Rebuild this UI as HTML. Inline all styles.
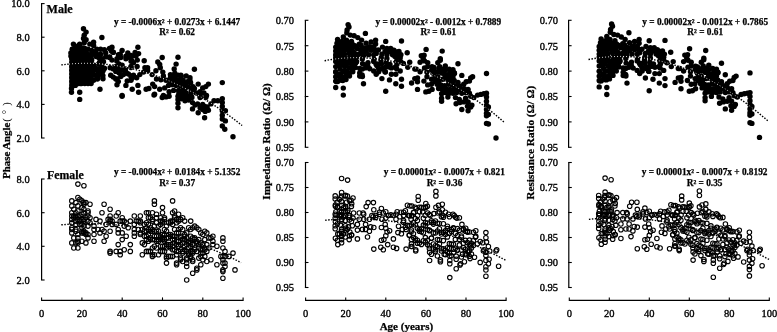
<!DOCTYPE html>
<html><head><meta charset="utf-8"><style>html,body{margin:0;padding:0;background:#fff;width:777px;height:332px;overflow:hidden}</style></head>
<body>
<svg width="777" height="332" viewBox="0 0 777 332" style="position:absolute;left:0;top:0;filter:grayscale(1)">
<rect width="777" height="332" fill="#fff"/>
<circle cx="83.5" cy="28.7" r="2.7" fill="#000"/>
<circle cx="86.1" cy="32.1" r="2.7" fill="#000"/>
<circle cx="84.2" cy="35.2" r="2.7" fill="#000"/>
<circle cx="83.5" cy="38.4" r="2.7" fill="#000"/>
<circle cx="86.1" cy="39.7" r="2.7" fill="#000"/>
<circle cx="101.9" cy="37.5" r="2.7" fill="#000"/>
<circle cx="73.4" cy="44.1" r="2.7" fill="#000"/>
<circle cx="79.7" cy="44.3" r="2.7" fill="#000"/>
<circle cx="84.2" cy="42.8" r="2.7" fill="#000"/>
<circle cx="89.8" cy="44.1" r="2.7" fill="#000"/>
<circle cx="93.6" cy="42.2" r="2.7" fill="#000"/>
<circle cx="93.6" cy="45.4" r="2.7" fill="#000"/>
<circle cx="73.4" cy="49.2" r="2.7" fill="#000"/>
<circle cx="70.9" cy="53.0" r="2.7" fill="#000"/>
<circle cx="70.9" cy="56.1" r="2.7" fill="#000"/>
<circle cx="75.3" cy="53.0" r="2.7" fill="#000"/>
<circle cx="79.1" cy="49.2" r="2.7" fill="#000"/>
<circle cx="82.9" cy="47.9" r="2.7" fill="#000"/>
<circle cx="82.9" cy="53.0" r="2.7" fill="#000"/>
<circle cx="88.0" cy="49.2" r="2.7" fill="#000"/>
<circle cx="91.7" cy="50.4" r="2.7" fill="#000"/>
<circle cx="96.8" cy="49.2" r="2.7" fill="#000"/>
<circle cx="100.6" cy="49.2" r="2.7" fill="#000"/>
<circle cx="104.4" cy="49.8" r="2.7" fill="#000"/>
<circle cx="109.5" cy="48.5" r="2.7" fill="#000"/>
<circle cx="112.0" cy="47.3" r="2.7" fill="#000"/>
<circle cx="111.4" cy="51.1" r="2.7" fill="#000"/>
<circle cx="105.7" cy="53.0" r="2.7" fill="#000"/>
<circle cx="100.6" cy="54.2" r="2.7" fill="#000"/>
<circle cx="95.5" cy="53.0" r="2.7" fill="#000"/>
<circle cx="91.7" cy="54.8" r="2.7" fill="#000"/>
<circle cx="86.7" cy="55.5" r="2.7" fill="#000"/>
<circle cx="80.4" cy="55.5" r="2.7" fill="#000"/>
<circle cx="75.3" cy="56.1" r="2.7" fill="#000"/>
<circle cx="122.1" cy="50.4" r="2.7" fill="#000"/>
<circle cx="127.8" cy="53.0" r="2.7" fill="#000"/>
<circle cx="120.2" cy="54.2" r="2.7" fill="#000"/>
<circle cx="125.9" cy="56.1" r="2.7" fill="#000"/>
<circle cx="137.9" cy="47.3" r="2.7" fill="#000"/>
<circle cx="138.6" cy="53.6" r="2.7" fill="#000"/>
<circle cx="131.0" cy="55.5" r="2.7" fill="#000"/>
<circle cx="136.0" cy="56.1" r="2.7" fill="#000"/>
<circle cx="71.8" cy="55.0" r="2.7" fill="#000"/>
<circle cx="71.8" cy="58.8" r="2.7" fill="#000"/>
<circle cx="71.8" cy="62.6" r="2.7" fill="#000"/>
<circle cx="71.8" cy="66.4" r="2.7" fill="#000"/>
<circle cx="71.8" cy="70.2" r="2.7" fill="#000"/>
<circle cx="71.8" cy="74.0" r="2.7" fill="#000"/>
<circle cx="71.8" cy="77.8" r="2.7" fill="#000"/>
<circle cx="71.8" cy="81.6" r="2.7" fill="#000"/>
<circle cx="71.8" cy="85.4" r="2.7" fill="#000"/>
<circle cx="71.5" cy="88.5" r="2.7" fill="#000"/>
<circle cx="71.5" cy="92.3" r="2.7" fill="#000"/>
<circle cx="79.7" cy="92.3" r="2.7" fill="#000"/>
<circle cx="75.3" cy="85.4" r="2.7" fill="#000"/>
<circle cx="80.4" cy="83.5" r="2.7" fill="#000"/>
<circle cx="85.4" cy="80.9" r="2.7" fill="#000"/>
<circle cx="89.2" cy="79.7" r="2.7" fill="#000"/>
<circle cx="93.6" cy="80.3" r="2.7" fill="#000"/>
<circle cx="97.4" cy="79.0" r="2.7" fill="#000"/>
<circle cx="100.0" cy="89.2" r="2.7" fill="#000"/>
<circle cx="89.2" cy="56.3" r="2.7" fill="#000"/>
<circle cx="91.7" cy="60.1" r="2.7" fill="#000"/>
<circle cx="93.6" cy="65.1" r="2.7" fill="#000"/>
<circle cx="94.3" cy="68.9" r="2.7" fill="#000"/>
<circle cx="92.4" cy="72.7" r="2.7" fill="#000"/>
<circle cx="94.9" cy="75.2" r="2.7" fill="#000"/>
<circle cx="96.8" cy="74.6" r="2.7" fill="#000"/>
<circle cx="98.1" cy="77.8" r="2.7" fill="#000"/>
<circle cx="98.7" cy="57.5" r="2.7" fill="#000"/>
<circle cx="101.9" cy="58.8" r="2.7" fill="#000"/>
<circle cx="105.7" cy="56.9" r="2.7" fill="#000"/>
<circle cx="109.5" cy="57.5" r="2.7" fill="#000"/>
<circle cx="112.0" cy="60.1" r="2.7" fill="#000"/>
<circle cx="100.6" cy="61.3" r="2.7" fill="#000"/>
<circle cx="98.7" cy="63.9" r="2.7" fill="#000"/>
<circle cx="101.9" cy="67.0" r="2.7" fill="#000"/>
<circle cx="103.1" cy="70.8" r="2.7" fill="#000"/>
<circle cx="100.0" cy="74.0" r="2.7" fill="#000"/>
<circle cx="98.1" cy="71.4" r="2.7" fill="#000"/>
<circle cx="104.4" cy="68.3" r="2.7" fill="#000"/>
<circle cx="110.1" cy="67.7" r="2.7" fill="#000"/>
<circle cx="113.3" cy="68.9" r="2.7" fill="#000"/>
<circle cx="115.8" cy="66.4" r="2.7" fill="#000"/>
<circle cx="118.9" cy="63.9" r="2.7" fill="#000"/>
<circle cx="122.1" cy="65.1" r="2.7" fill="#000"/>
<circle cx="118.3" cy="68.9" r="2.7" fill="#000"/>
<circle cx="115.8" cy="71.4" r="2.7" fill="#000"/>
<circle cx="118.9" cy="72.7" r="2.7" fill="#000"/>
<circle cx="121.5" cy="70.2" r="2.7" fill="#000"/>
<circle cx="125.3" cy="68.9" r="2.7" fill="#000"/>
<circle cx="125.9" cy="72.7" r="2.7" fill="#000"/>
<circle cx="110.7" cy="75.2" r="2.7" fill="#000"/>
<circle cx="113.3" cy="77.1" r="2.7" fill="#000"/>
<circle cx="115.8" cy="79.0" r="2.7" fill="#000"/>
<circle cx="118.3" cy="81.6" r="2.7" fill="#000"/>
<circle cx="117.0" cy="84.7" r="2.7" fill="#000"/>
<circle cx="120.8" cy="76.5" r="2.7" fill="#000"/>
<circle cx="123.4" cy="74.6" r="2.7" fill="#000"/>
<circle cx="128.4" cy="74.0" r="2.7" fill="#000"/>
<circle cx="131.0" cy="76.5" r="2.7" fill="#000"/>
<circle cx="133.5" cy="75.2" r="2.7" fill="#000"/>
<circle cx="136.7" cy="77.8" r="2.7" fill="#000"/>
<circle cx="139.8" cy="74.6" r="2.7" fill="#000"/>
<circle cx="143.6" cy="72.1" r="2.7" fill="#000"/>
<circle cx="144.9" cy="67.7" r="2.7" fill="#000"/>
<circle cx="131.0" cy="66.4" r="2.7" fill="#000"/>
<circle cx="133.5" cy="62.6" r="2.7" fill="#000"/>
<circle cx="137.3" cy="60.1" r="2.7" fill="#000"/>
<circle cx="117.0" cy="58.8" r="2.7" fill="#000"/>
<circle cx="120.8" cy="57.5" r="2.7" fill="#000"/>
<circle cx="125.9" cy="58.8" r="2.7" fill="#000"/>
<circle cx="129.7" cy="57.5" r="2.7" fill="#000"/>
<circle cx="132.2" cy="56.3" r="2.7" fill="#000"/>
<circle cx="144.2" cy="60.7" r="2.7" fill="#000"/>
<circle cx="125.9" cy="85.4" r="2.7" fill="#000"/>
<circle cx="127.2" cy="80.9" r="2.7" fill="#000"/>
<circle cx="131.0" cy="80.3" r="2.7" fill="#000"/>
<circle cx="132.2" cy="89.2" r="2.7" fill="#000"/>
<circle cx="137.9" cy="85.4" r="2.7" fill="#000"/>
<circle cx="138.6" cy="92.3" r="2.7" fill="#000"/>
<circle cx="146.1" cy="89.2" r="2.7" fill="#000"/>
<circle cx="122.1" cy="95.5" r="2.7" fill="#000"/>
<circle cx="162.2" cy="57.5" r="2.7" fill="#000"/>
<circle cx="178.0" cy="57.3" r="2.7" fill="#000"/>
<circle cx="157.8" cy="62.0" r="2.7" fill="#000"/>
<circle cx="159.7" cy="64.5" r="2.7" fill="#000"/>
<circle cx="160.3" cy="67.7" r="2.7" fill="#000"/>
<circle cx="176.1" cy="64.1" r="2.7" fill="#000"/>
<circle cx="174.2" cy="68.9" r="2.7" fill="#000"/>
<circle cx="194.4" cy="69.2" r="2.7" fill="#000"/>
<circle cx="147.6" cy="67.7" r="2.7" fill="#000"/>
<circle cx="147.6" cy="70.8" r="2.7" fill="#000"/>
<circle cx="155.9" cy="70.8" r="2.7" fill="#000"/>
<circle cx="152.1" cy="74.6" r="2.7" fill="#000"/>
<circle cx="162.8" cy="72.1" r="2.7" fill="#000"/>
<circle cx="163.4" cy="75.9" r="2.7" fill="#000"/>
<circle cx="170.4" cy="74.6" r="2.7" fill="#000"/>
<circle cx="174.8" cy="73.3" r="2.7" fill="#000"/>
<circle cx="178.0" cy="75.2" r="2.7" fill="#000"/>
<circle cx="181.2" cy="76.5" r="2.7" fill="#000"/>
<circle cx="186.2" cy="75.9" r="2.7" fill="#000"/>
<circle cx="190.0" cy="77.8" r="2.7" fill="#000"/>
<circle cx="156.5" cy="79.0" r="2.7" fill="#000"/>
<circle cx="160.9" cy="79.7" r="2.7" fill="#000"/>
<circle cx="166.0" cy="80.3" r="2.7" fill="#000"/>
<circle cx="170.4" cy="79.7" r="2.7" fill="#000"/>
<circle cx="174.2" cy="79.0" r="2.7" fill="#000"/>
<circle cx="178.6" cy="80.3" r="2.7" fill="#000"/>
<circle cx="183.1" cy="80.3" r="2.7" fill="#000"/>
<circle cx="187.5" cy="81.6" r="2.7" fill="#000"/>
<circle cx="190.6" cy="82.8" r="2.7" fill="#000"/>
<circle cx="152.7" cy="84.1" r="2.7" fill="#000"/>
<circle cx="154.6" cy="86.6" r="2.7" fill="#000"/>
<circle cx="148.9" cy="88.5" r="2.7" fill="#000"/>
<circle cx="159.7" cy="89.2" r="2.7" fill="#000"/>
<circle cx="164.7" cy="87.9" r="2.7" fill="#000"/>
<circle cx="168.5" cy="85.4" r="2.7" fill="#000"/>
<circle cx="172.3" cy="84.7" r="2.7" fill="#000"/>
<circle cx="176.1" cy="85.4" r="2.7" fill="#000"/>
<circle cx="179.9" cy="85.4" r="2.7" fill="#000"/>
<circle cx="183.7" cy="86.0" r="2.7" fill="#000"/>
<circle cx="187.5" cy="86.6" r="2.7" fill="#000"/>
<circle cx="191.3" cy="87.9" r="2.7" fill="#000"/>
<circle cx="194.4" cy="88.5" r="2.7" fill="#000"/>
<circle cx="198.2" cy="84.1" r="2.7" fill="#000"/>
<circle cx="202.7" cy="87.9" r="2.7" fill="#000"/>
<circle cx="205.8" cy="86.6" r="2.7" fill="#000"/>
<circle cx="208.4" cy="84.1" r="2.7" fill="#000"/>
<circle cx="222.3" cy="82.6" r="2.7" fill="#000"/>
<circle cx="154.6" cy="94.2" r="2.7" fill="#000"/>
<circle cx="163.4" cy="95.5" r="2.7" fill="#000"/>
<circle cx="169.1" cy="91.7" r="2.7" fill="#000"/>
<circle cx="173.6" cy="90.4" r="2.7" fill="#000"/>
<circle cx="178.6" cy="90.4" r="2.7" fill="#000"/>
<circle cx="182.4" cy="92.3" r="2.7" fill="#000"/>
<circle cx="186.2" cy="93.0" r="2.7" fill="#000"/>
<circle cx="191.3" cy="92.3" r="2.7" fill="#000"/>
<circle cx="196.3" cy="93.0" r="2.7" fill="#000"/>
<circle cx="200.1" cy="91.7" r="2.7" fill="#000"/>
<circle cx="203.9" cy="93.0" r="2.7" fill="#000"/>
<circle cx="206.5" cy="95.5" r="2.7" fill="#000"/>
<circle cx="200.1" cy="96.1" r="2.7" fill="#000"/>
<circle cx="191.3" cy="96.1" r="2.7" fill="#000"/>
<circle cx="185.0" cy="96.1" r="2.7" fill="#000"/>
<circle cx="79.7" cy="99.4" r="2.7" fill="#000"/>
<circle cx="122.1" cy="96.3" r="2.7" fill="#000"/>
<circle cx="154.0" cy="95.0" r="2.7" fill="#000"/>
<circle cx="162.2" cy="97.5" r="2.7" fill="#000"/>
<circle cx="166.0" cy="96.9" r="2.7" fill="#000"/>
<circle cx="169.1" cy="96.3" r="2.7" fill="#000"/>
<circle cx="178.0" cy="96.3" r="2.7" fill="#000"/>
<circle cx="178.0" cy="99.4" r="2.7" fill="#000"/>
<circle cx="178.0" cy="103.2" r="2.7" fill="#000"/>
<circle cx="178.0" cy="107.7" r="2.7" fill="#000"/>
<circle cx="181.2" cy="98.8" r="2.7" fill="#000"/>
<circle cx="185.0" cy="96.9" r="2.7" fill="#000"/>
<circle cx="185.0" cy="100.7" r="2.7" fill="#000"/>
<circle cx="188.7" cy="96.3" r="2.7" fill="#000"/>
<circle cx="188.7" cy="100.1" r="2.7" fill="#000"/>
<circle cx="191.9" cy="97.5" r="2.7" fill="#000"/>
<circle cx="192.5" cy="102.6" r="2.7" fill="#000"/>
<circle cx="195.1" cy="105.1" r="2.7" fill="#000"/>
<circle cx="192.5" cy="108.9" r="2.7" fill="#000"/>
<circle cx="197.6" cy="103.9" r="2.7" fill="#000"/>
<circle cx="198.2" cy="112.7" r="2.7" fill="#000"/>
<circle cx="200.1" cy="107.7" r="2.7" fill="#000"/>
<circle cx="202.7" cy="104.5" r="2.7" fill="#000"/>
<circle cx="202.7" cy="109.5" r="2.7" fill="#000"/>
<circle cx="204.6" cy="106.4" r="2.7" fill="#000"/>
<circle cx="205.2" cy="111.4" r="2.7" fill="#000"/>
<circle cx="208.4" cy="110.2" r="2.7" fill="#000"/>
<circle cx="207.1" cy="107.0" r="2.7" fill="#000"/>
<circle cx="204.6" cy="117.8" r="2.7" fill="#000"/>
<circle cx="200.1" cy="97.5" r="2.7" fill="#000"/>
<circle cx="205.8" cy="97.5" r="2.7" fill="#000"/>
<circle cx="210.9" cy="103.9" r="2.7" fill="#000"/>
<circle cx="214.0" cy="100.7" r="2.7" fill="#000"/>
<circle cx="217.8" cy="100.7" r="2.7" fill="#000"/>
<circle cx="222.3" cy="98.8" r="2.7" fill="#000"/>
<circle cx="222.3" cy="102.6" r="2.7" fill="#000"/>
<circle cx="222.3" cy="106.4" r="2.7" fill="#000"/>
<circle cx="222.3" cy="110.8" r="2.7" fill="#000"/>
<circle cx="225.4" cy="110.8" r="2.7" fill="#000"/>
<circle cx="222.3" cy="115.2" r="2.7" fill="#000"/>
<circle cx="222.3" cy="119.0" r="2.7" fill="#000"/>
<circle cx="225.4" cy="120.9" r="2.7" fill="#000"/>
<circle cx="222.3" cy="126.0" r="2.7" fill="#000"/>
<circle cx="224.8" cy="129.2" r="2.7" fill="#000"/>
<circle cx="233.0" cy="136.7" r="2.7" fill="#000"/>
<circle cx="72.1" cy="55.0" r="2.7" fill="#000"/>
<circle cx="72.1" cy="58.2" r="2.7" fill="#000"/>
<circle cx="72.1" cy="61.3" r="2.7" fill="#000"/>
<circle cx="72.1" cy="64.5" r="2.7" fill="#000"/>
<circle cx="72.1" cy="67.7" r="2.7" fill="#000"/>
<circle cx="72.1" cy="70.8" r="2.7" fill="#000"/>
<circle cx="72.1" cy="74.0" r="2.7" fill="#000"/>
<circle cx="72.1" cy="77.1" r="2.7" fill="#000"/>
<circle cx="72.1" cy="80.3" r="2.7" fill="#000"/>
<circle cx="72.1" cy="83.5" r="2.7" fill="#000"/>
<circle cx="75.3" cy="55.0" r="2.7" fill="#000"/>
<circle cx="75.3" cy="58.2" r="2.7" fill="#000"/>
<circle cx="75.3" cy="61.3" r="2.7" fill="#000"/>
<circle cx="75.3" cy="64.5" r="2.7" fill="#000"/>
<circle cx="75.3" cy="67.7" r="2.7" fill="#000"/>
<circle cx="75.3" cy="70.8" r="2.7" fill="#000"/>
<circle cx="75.3" cy="74.0" r="2.7" fill="#000"/>
<circle cx="75.3" cy="77.1" r="2.7" fill="#000"/>
<circle cx="75.3" cy="80.3" r="2.7" fill="#000"/>
<circle cx="75.3" cy="83.5" r="2.7" fill="#000"/>
<circle cx="78.5" cy="55.0" r="2.7" fill="#000"/>
<circle cx="78.5" cy="58.2" r="2.7" fill="#000"/>
<circle cx="78.5" cy="61.3" r="2.7" fill="#000"/>
<circle cx="78.5" cy="64.5" r="2.7" fill="#000"/>
<circle cx="78.5" cy="67.7" r="2.7" fill="#000"/>
<circle cx="78.5" cy="70.8" r="2.7" fill="#000"/>
<circle cx="78.5" cy="74.0" r="2.7" fill="#000"/>
<circle cx="78.5" cy="77.1" r="2.7" fill="#000"/>
<circle cx="78.5" cy="80.3" r="2.7" fill="#000"/>
<circle cx="78.5" cy="83.5" r="2.7" fill="#000"/>
<circle cx="81.6" cy="55.0" r="2.7" fill="#000"/>
<circle cx="81.6" cy="58.2" r="2.7" fill="#000"/>
<circle cx="81.6" cy="61.3" r="2.7" fill="#000"/>
<circle cx="81.6" cy="64.5" r="2.7" fill="#000"/>
<circle cx="81.6" cy="67.7" r="2.7" fill="#000"/>
<circle cx="81.6" cy="70.8" r="2.7" fill="#000"/>
<circle cx="81.6" cy="74.0" r="2.7" fill="#000"/>
<circle cx="81.6" cy="77.1" r="2.7" fill="#000"/>
<circle cx="81.6" cy="80.3" r="2.7" fill="#000"/>
<circle cx="81.6" cy="83.5" r="2.7" fill="#000"/>
<circle cx="84.8" cy="55.0" r="2.7" fill="#000"/>
<circle cx="84.8" cy="58.2" r="2.7" fill="#000"/>
<circle cx="84.8" cy="61.3" r="2.7" fill="#000"/>
<circle cx="84.8" cy="64.5" r="2.7" fill="#000"/>
<circle cx="84.8" cy="67.7" r="2.7" fill="#000"/>
<circle cx="84.8" cy="70.8" r="2.7" fill="#000"/>
<circle cx="84.8" cy="74.0" r="2.7" fill="#000"/>
<circle cx="84.8" cy="77.1" r="2.7" fill="#000"/>
<circle cx="84.8" cy="80.3" r="2.7" fill="#000"/>
<circle cx="84.8" cy="83.5" r="2.7" fill="#000"/>
<circle cx="88.0" cy="55.0" r="2.7" fill="#000"/>
<circle cx="88.0" cy="58.2" r="2.7" fill="#000"/>
<circle cx="88.0" cy="61.3" r="2.7" fill="#000"/>
<circle cx="88.0" cy="64.5" r="2.7" fill="#000"/>
<circle cx="88.0" cy="67.7" r="2.7" fill="#000"/>
<circle cx="88.0" cy="70.8" r="2.7" fill="#000"/>
<circle cx="88.0" cy="74.0" r="2.7" fill="#000"/>
<circle cx="88.0" cy="77.1" r="2.7" fill="#000"/>
<circle cx="88.0" cy="80.3" r="2.7" fill="#000"/>
<circle cx="88.0" cy="83.5" r="2.7" fill="#000"/>
<circle cx="91.1" cy="55.0" r="2.7" fill="#000"/>
<circle cx="91.1" cy="58.2" r="2.7" fill="#000"/>
<circle cx="91.1" cy="61.3" r="2.7" fill="#000"/>
<circle cx="91.1" cy="64.5" r="2.7" fill="#000"/>
<circle cx="91.1" cy="67.7" r="2.7" fill="#000"/>
<circle cx="91.1" cy="70.8" r="2.7" fill="#000"/>
<circle cx="91.1" cy="74.0" r="2.7" fill="#000"/>
<circle cx="91.1" cy="77.1" r="2.7" fill="#000"/>
<circle cx="91.1" cy="80.3" r="2.7" fill="#000"/>
<circle cx="91.1" cy="83.5" r="2.7" fill="#000"/>
<circle cx="98.9" cy="68.7" r="2.7" fill="#000"/>
<circle cx="103.0" cy="78.8" r="2.7" fill="#000"/>
<circle cx="103.5" cy="61.7" r="2.7" fill="#000"/>
<circle cx="96.0" cy="53.0" r="2.7" fill="#000"/>
<circle cx="98.7" cy="55.0" r="2.7" fill="#000"/>
<circle cx="95.6" cy="69.5" r="2.7" fill="#000"/>
<circle cx="102.1" cy="74.1" r="2.7" fill="#000"/>
<circle cx="93.1" cy="52.0" r="2.7" fill="#000"/>
<circle cx="95.3" cy="67.7" r="2.7" fill="#000"/>
<circle cx="102.9" cy="75.6" r="2.7" fill="#000"/>
<circle cx="104.1" cy="68.8" r="2.7" fill="#000"/>
<circle cx="100.3" cy="59.3" r="2.7" fill="#000"/>
<circle cx="96.1" cy="56.6" r="2.7" fill="#000"/>
<circle cx="99.0" cy="69.4" r="2.7" fill="#000"/>
<circle cx="99.5" cy="62.5" r="2.7" fill="#000"/>
<circle cx="125.6" cy="72.5" r="2.7" fill="#000"/>
<circle cx="131.9" cy="76.0" r="2.7" fill="#000"/>
<circle cx="117.1" cy="79.0" r="2.7" fill="#000"/>
<circle cx="126.1" cy="72.4" r="2.7" fill="#000"/>
<circle cx="132.2" cy="77.9" r="2.7" fill="#000"/>
<circle cx="116.8" cy="61.0" r="2.7" fill="#000"/>
<circle cx="131.0" cy="67.6" r="2.7" fill="#000"/>
<circle cx="132.0" cy="60.9" r="2.7" fill="#000"/>
<circle cx="131.1" cy="61.2" r="2.7" fill="#000"/>
<circle cx="109.7" cy="57.0" r="2.7" fill="#000"/>
<circle cx="118.4" cy="54.7" r="2.7" fill="#000"/>
<circle cx="113.3" cy="52.2" r="2.7" fill="#000"/>
<circle cx="135.1" cy="52.5" r="2.7" fill="#000"/>
<circle cx="113.1" cy="52.3" r="2.7" fill="#000"/>
<circle cx="137.1" cy="66.4" r="2.7" fill="#000"/>
<circle cx="183.0" cy="88.5" r="2.7" fill="#000"/>
<circle cx="189.9" cy="80.4" r="2.7" fill="#000"/>
<circle cx="185.3" cy="94.5" r="2.7" fill="#000"/>
<circle cx="185.2" cy="88.2" r="2.7" fill="#000"/>
<circle cx="181.1" cy="96.2" r="2.7" fill="#000"/>
<circle cx="181.8" cy="84.2" r="2.7" fill="#000"/>
<circle cx="193.4" cy="88.6" r="2.7" fill="#000"/>
<circle cx="175.4" cy="81.1" r="2.7" fill="#000"/>
<circle cx="180.9" cy="75.2" r="2.7" fill="#000"/>
<circle cx="184.0" cy="90.9" r="2.7" fill="#000"/>
<circle cx="178.9" cy="93.5" r="2.7" fill="#000"/>
<circle cx="193.0" cy="86.8" r="2.7" fill="#000"/>
<circle cx="175.0" cy="78.9" r="2.7" fill="#000"/>
<circle cx="192.1" cy="91.2" r="2.7" fill="#000"/>
<circle cx="170.4" cy="81.4" r="2.7" fill="#000"/>
<circle cx="173.8" cy="80.3" r="2.7" fill="#000"/>
<circle cx="175.5" cy="83.1" r="2.7" fill="#000"/>
<circle cx="172.2" cy="76.5" r="2.7" fill="#000"/>
<circle cx="187.9" cy="86.9" r="2.7" fill="#000"/>
<circle cx="170.5" cy="77.4" r="2.7" fill="#000"/>
<circle cx="170.4" cy="81.3" r="2.7" fill="#000"/>
<circle cx="168.6" cy="80.3" r="2.7" fill="#000"/>
<circle cx="172.7" cy="78.4" r="2.7" fill="#000"/>
<circle cx="185.3" cy="84.5" r="2.7" fill="#000"/>
<circle cx="180.3" cy="82.2" r="2.7" fill="#000"/>
<circle cx="182.1" cy="92.1" r="2.7" fill="#000"/>
<circle cx="175.6" cy="75.6" r="2.7" fill="#000"/>
<circle cx="72.2" cy="49.2" r="2.7" fill="#000"/>
<circle cx="79.5" cy="70.3" r="2.7" fill="#000"/>
<circle cx="74.6" cy="49.2" r="2.7" fill="#000"/>
<circle cx="76.4" cy="73.0" r="2.7" fill="#000"/>
<circle cx="74.8" cy="72.4" r="2.7" fill="#000"/>
<circle cx="84.6" cy="50.1" r="2.7" fill="#000"/>
<circle cx="82.2" cy="61.6" r="2.7" fill="#000"/>
<circle cx="89.9" cy="59.9" r="2.7" fill="#000"/>
<circle cx="75.8" cy="57.2" r="2.7" fill="#000"/>
<circle cx="78.9" cy="80.3" r="2.7" fill="#000"/>
<circle cx="76.0" cy="53.0" r="2.7" fill="#000"/>
<circle cx="83.1" cy="65.3" r="2.7" fill="#000"/>
<circle cx="78.8" cy="52.5" r="2.7" fill="#000"/>
<circle cx="72.6" cy="72.2" r="2.7" fill="#000"/>
<circle cx="88.5" cy="69.1" r="2.7" fill="#000"/>
<circle cx="76.1" cy="74.5" r="2.7" fill="#000"/>
<circle cx="85.9" cy="52.2" r="2.7" fill="#000"/>
<circle cx="84.2" cy="53.1" r="2.7" fill="#000"/>
<circle cx="72.8" cy="57.4" r="2.7" fill="#000"/>
<circle cx="78.4" cy="59.7" r="2.7" fill="#000"/>
<circle cx="84.3" cy="75.9" r="2.7" fill="#000"/>
<circle cx="77.8" cy="51.5" r="2.7" fill="#000"/>
<circle cx="83.9" cy="65.2" r="2.7" fill="#000"/>
<circle cx="84.8" cy="48.5" r="2.7" fill="#000"/>
<circle cx="75.7" cy="79.1" r="2.7" fill="#000"/>
<circle cx="83.4" cy="70.7" r="2.7" fill="#000"/>
<circle cx="73.8" cy="59.8" r="2.7" fill="#000"/>
<circle cx="89.3" cy="69.0" r="2.7" fill="#000"/>
<circle cx="80.6" cy="74.6" r="2.7" fill="#000"/>
<circle cx="80.4" cy="74.2" r="2.7" fill="#000"/>
<circle cx="82.7" cy="49.4" r="2.7" fill="#000"/>
<circle cx="73.9" cy="81.4" r="2.7" fill="#000"/>
<circle cx="74.3" cy="52.2" r="2.7" fill="#000"/>
<circle cx="78.4" cy="71.4" r="2.7" fill="#000"/>
<circle cx="88.2" cy="62.6" r="2.7" fill="#000"/>
<circle cx="81.5" cy="74.2" r="2.7" fill="#000"/>
<circle cx="77.3" cy="58.8" r="2.7" fill="#000"/>
<circle cx="83.6" cy="68.5" r="2.7" fill="#000"/>
<circle cx="72.7" cy="49.1" r="2.7" fill="#000"/>
<circle cx="74.6" cy="71.8" r="2.7" fill="#000"/>
<circle cx="86.6" cy="54.4" r="2.7" fill="#000"/>
<circle cx="78.6" cy="45.4" r="2.7" fill="#000"/>
<circle cx="79.1" cy="55.5" r="2.7" fill="#000"/>
<circle cx="75.3" cy="46.7" r="2.7" fill="#000"/>
<circle cx="74.4" cy="77.0" r="2.7" fill="#000"/>
<circle cx="72.9" cy="67.7" r="2.7" fill="#000"/>
<circle cx="75.9" cy="52.2" r="2.7" fill="#000"/>
<circle cx="87.6" cy="56.1" r="2.7" fill="#000"/>
<circle cx="75.5" cy="61.8" r="2.7" fill="#000"/>
<circle cx="85.2" cy="64.4" r="2.7" fill="#000"/>
<circle cx="88.3" cy="59.9" r="2.7" fill="#000"/>
<circle cx="82.0" cy="71.5" r="2.7" fill="#000"/>
<circle cx="80.8" cy="71.5" r="2.7" fill="#000"/>
<circle cx="80.9" cy="49.9" r="2.7" fill="#000"/>
<circle cx="74.3" cy="74.0" r="2.7" fill="#000"/>
<circle cx="85.1" cy="66.5" r="2.7" fill="#000"/>
<circle cx="75.2" cy="76.6" r="2.7" fill="#000"/>
<circle cx="74.3" cy="60.7" r="2.7" fill="#000"/>
<circle cx="74.7" cy="59.1" r="2.7" fill="#000"/>
<circle cx="77.8" cy="60.7" r="2.7" fill="#000"/>
<circle cx="85.5" cy="65.0" r="2.7" fill="#000"/>
<circle cx="76.6" cy="73.8" r="2.7" fill="#000"/>
<circle cx="86.0" cy="75.6" r="2.7" fill="#000"/>
<circle cx="72.6" cy="67.7" r="2.7" fill="#000"/>
<circle cx="89.0" cy="54.6" r="2.7" fill="#000"/>
<circle cx="75.8" cy="75.1" r="2.7" fill="#000"/>
<circle cx="78.9" cy="59.8" r="2.7" fill="#000"/>
<circle cx="348.1" cy="24.6" r="2.7" fill="#000"/>
<circle cx="349.0" cy="26.9" r="2.7" fill="#000"/>
<circle cx="347.1" cy="30.0" r="2.7" fill="#000"/>
<circle cx="346.8" cy="32.9" r="2.7" fill="#000"/>
<circle cx="365.4" cy="33.4" r="2.7" fill="#000"/>
<circle cx="343.3" cy="37.0" r="2.7" fill="#000"/>
<circle cx="350.3" cy="35.1" r="2.7" fill="#000"/>
<circle cx="354.1" cy="35.7" r="2.7" fill="#000"/>
<circle cx="357.8" cy="37.6" r="2.7" fill="#000"/>
<circle cx="361.6" cy="40.1" r="2.7" fill="#000"/>
<circle cx="337.6" cy="39.5" r="2.7" fill="#000"/>
<circle cx="337.0" cy="43.3" r="2.7" fill="#000"/>
<circle cx="335.7" cy="47.1" r="2.7" fill="#000"/>
<circle cx="335.7" cy="50.9" r="2.7" fill="#000"/>
<circle cx="335.7" cy="54.7" r="2.7" fill="#000"/>
<circle cx="335.7" cy="57.8" r="2.7" fill="#000"/>
<circle cx="342.0" cy="41.4" r="2.7" fill="#000"/>
<circle cx="346.5" cy="40.1" r="2.7" fill="#000"/>
<circle cx="351.5" cy="41.4" r="2.7" fill="#000"/>
<circle cx="340.8" cy="45.8" r="2.7" fill="#000"/>
<circle cx="345.2" cy="45.2" r="2.7" fill="#000"/>
<circle cx="349.6" cy="44.6" r="2.7" fill="#000"/>
<circle cx="354.7" cy="45.8" r="2.7" fill="#000"/>
<circle cx="340.8" cy="49.6" r="2.7" fill="#000"/>
<circle cx="345.2" cy="49.6" r="2.7" fill="#000"/>
<circle cx="349.6" cy="49.0" r="2.7" fill="#000"/>
<circle cx="340.1" cy="54.1" r="2.7" fill="#000"/>
<circle cx="344.6" cy="54.1" r="2.7" fill="#000"/>
<circle cx="349.0" cy="53.4" r="2.7" fill="#000"/>
<circle cx="353.4" cy="52.2" r="2.7" fill="#000"/>
<circle cx="357.2" cy="48.4" r="2.7" fill="#000"/>
<circle cx="361.0" cy="45.2" r="2.7" fill="#000"/>
<circle cx="366.1" cy="43.3" r="2.7" fill="#000"/>
<circle cx="371.1" cy="42.0" r="2.7" fill="#000"/>
<circle cx="375.6" cy="40.1" r="2.7" fill="#000"/>
<circle cx="375.6" cy="43.9" r="2.7" fill="#000"/>
<circle cx="373.7" cy="47.1" r="2.7" fill="#000"/>
<circle cx="371.1" cy="50.3" r="2.7" fill="#000"/>
<circle cx="375.6" cy="50.3" r="2.7" fill="#000"/>
<circle cx="368.0" cy="47.7" r="2.7" fill="#000"/>
<circle cx="364.8" cy="51.5" r="2.7" fill="#000"/>
<circle cx="361.6" cy="50.3" r="2.7" fill="#000"/>
<circle cx="359.7" cy="54.1" r="2.7" fill="#000"/>
<circle cx="356.0" cy="55.3" r="2.7" fill="#000"/>
<circle cx="363.5" cy="56.0" r="2.7" fill="#000"/>
<circle cx="368.6" cy="54.7" r="2.7" fill="#000"/>
<circle cx="373.7" cy="54.7" r="2.7" fill="#000"/>
<circle cx="376.2" cy="53.4" r="2.7" fill="#000"/>
<circle cx="340.1" cy="57.8" r="2.7" fill="#000"/>
<circle cx="344.6" cy="57.8" r="2.7" fill="#000"/>
<circle cx="349.6" cy="57.8" r="2.7" fill="#000"/>
<circle cx="354.7" cy="57.8" r="2.7" fill="#000"/>
<circle cx="385.7" cy="41.4" r="2.7" fill="#000"/>
<circle cx="401.5" cy="41.0" r="2.7" fill="#000"/>
<circle cx="382.5" cy="47.1" r="2.7" fill="#000"/>
<circle cx="386.9" cy="48.4" r="2.7" fill="#000"/>
<circle cx="390.7" cy="48.4" r="2.7" fill="#000"/>
<circle cx="393.9" cy="50.3" r="2.7" fill="#000"/>
<circle cx="385.0" cy="51.5" r="2.7" fill="#000"/>
<circle cx="381.9" cy="54.1" r="2.7" fill="#000"/>
<circle cx="386.9" cy="54.7" r="2.7" fill="#000"/>
<circle cx="392.6" cy="54.7" r="2.7" fill="#000"/>
<circle cx="399.0" cy="51.5" r="2.7" fill="#000"/>
<circle cx="400.9" cy="54.7" r="2.7" fill="#000"/>
<circle cx="407.2" cy="52.8" r="2.7" fill="#000"/>
<circle cx="396.4" cy="57.2" r="2.7" fill="#000"/>
<circle cx="400.2" cy="57.8" r="2.7" fill="#000"/>
<circle cx="386.9" cy="58.5" r="2.7" fill="#000"/>
<circle cx="381.3" cy="57.8" r="2.7" fill="#000"/>
<circle cx="426.1" cy="49.4" r="2.7" fill="#000"/>
<circle cx="442.2" cy="51.1" r="2.7" fill="#000"/>
<circle cx="421.3" cy="55.7" r="2.7" fill="#000"/>
<circle cx="424.1" cy="55.3" r="2.7" fill="#000"/>
<circle cx="423.2" cy="58.5" r="2.7" fill="#000"/>
<circle cx="440.3" cy="58.7" r="2.7" fill="#000"/>
<circle cx="335.7" cy="61.5" r="2.7" fill="#000"/>
<circle cx="335.7" cy="66.6" r="2.7" fill="#000"/>
<circle cx="335.7" cy="71.7" r="2.7" fill="#000"/>
<circle cx="335.7" cy="76.7" r="2.7" fill="#000"/>
<circle cx="335.7" cy="81.1" r="2.7" fill="#000"/>
<circle cx="335.7" cy="87.5" r="2.7" fill="#000"/>
<circle cx="343.3" cy="88.1" r="2.7" fill="#000"/>
<circle cx="343.3" cy="95.1" r="2.7" fill="#000"/>
<circle cx="340.1" cy="64.1" r="2.7" fill="#000"/>
<circle cx="340.1" cy="69.1" r="2.7" fill="#000"/>
<circle cx="340.1" cy="74.2" r="2.7" fill="#000"/>
<circle cx="340.1" cy="79.2" r="2.7" fill="#000"/>
<circle cx="344.6" cy="61.5" r="2.7" fill="#000"/>
<circle cx="344.6" cy="66.6" r="2.7" fill="#000"/>
<circle cx="344.6" cy="71.7" r="2.7" fill="#000"/>
<circle cx="344.6" cy="76.7" r="2.7" fill="#000"/>
<circle cx="349.0" cy="62.8" r="2.7" fill="#000"/>
<circle cx="349.0" cy="67.9" r="2.7" fill="#000"/>
<circle cx="349.0" cy="72.9" r="2.7" fill="#000"/>
<circle cx="353.4" cy="61.5" r="2.7" fill="#000"/>
<circle cx="353.4" cy="66.6" r="2.7" fill="#000"/>
<circle cx="352.8" cy="71.7" r="2.7" fill="#000"/>
<circle cx="356.6" cy="61.5" r="2.7" fill="#000"/>
<circle cx="359.7" cy="68.5" r="2.7" fill="#000"/>
<circle cx="359.7" cy="72.9" r="2.7" fill="#000"/>
<circle cx="359.7" cy="76.1" r="2.7" fill="#000"/>
<circle cx="362.3" cy="69.1" r="2.7" fill="#000"/>
<circle cx="366.7" cy="64.7" r="2.7" fill="#000"/>
<circle cx="365.4" cy="67.9" r="2.7" fill="#000"/>
<circle cx="363.5" cy="83.7" r="2.7" fill="#000"/>
<circle cx="362.3" cy="59.0" r="2.7" fill="#000"/>
<circle cx="373.7" cy="61.5" r="2.7" fill="#000"/>
<circle cx="373.7" cy="71.0" r="2.7" fill="#000"/>
<circle cx="376.2" cy="74.2" r="2.7" fill="#000"/>
<circle cx="377.5" cy="64.1" r="2.7" fill="#000"/>
<circle cx="378.7" cy="71.7" r="2.7" fill="#000"/>
<circle cx="381.3" cy="64.1" r="2.7" fill="#000"/>
<circle cx="382.5" cy="69.1" r="2.7" fill="#000"/>
<circle cx="385.0" cy="71.7" r="2.7" fill="#000"/>
<circle cx="381.9" cy="78.6" r="2.7" fill="#000"/>
<circle cx="386.3" cy="62.8" r="2.7" fill="#000"/>
<circle cx="388.8" cy="66.6" r="2.7" fill="#000"/>
<circle cx="391.4" cy="67.9" r="2.7" fill="#000"/>
<circle cx="395.2" cy="67.2" r="2.7" fill="#000"/>
<circle cx="396.4" cy="61.5" r="2.7" fill="#000"/>
<circle cx="391.4" cy="74.2" r="2.7" fill="#000"/>
<circle cx="395.8" cy="74.2" r="2.7" fill="#000"/>
<circle cx="400.2" cy="71.0" r="2.7" fill="#000"/>
<circle cx="403.4" cy="63.4" r="2.7" fill="#000"/>
<circle cx="407.8" cy="67.2" r="2.7" fill="#000"/>
<circle cx="409.7" cy="62.2" r="2.7" fill="#000"/>
<circle cx="389.5" cy="79.9" r="2.7" fill="#000"/>
<circle cx="395.8" cy="83.7" r="2.7" fill="#000"/>
<circle cx="401.5" cy="79.2" r="2.7" fill="#000"/>
<circle cx="401.5" cy="86.2" r="2.7" fill="#000"/>
<circle cx="411.6" cy="83.0" r="2.7" fill="#000"/>
<circle cx="414.8" cy="78.6" r="2.7" fill="#000"/>
<circle cx="414.8" cy="69.1" r="2.7" fill="#000"/>
<circle cx="385.7" cy="91.3" r="2.7" fill="#000"/>
<circle cx="420.1" cy="62.2" r="2.7" fill="#000"/>
<circle cx="424.5" cy="60.9" r="2.7" fill="#000"/>
<circle cx="427.7" cy="62.8" r="2.7" fill="#000"/>
<circle cx="416.3" cy="69.1" r="2.7" fill="#000"/>
<circle cx="420.1" cy="71.7" r="2.7" fill="#000"/>
<circle cx="424.5" cy="67.9" r="2.7" fill="#000"/>
<circle cx="427.7" cy="66.6" r="2.7" fill="#000"/>
<circle cx="427.0" cy="72.3" r="2.7" fill="#000"/>
<circle cx="427.0" cy="76.7" r="2.7" fill="#000"/>
<circle cx="417.5" cy="78.0" r="2.7" fill="#000"/>
<circle cx="417.5" cy="81.8" r="2.7" fill="#000"/>
<circle cx="423.9" cy="81.1" r="2.7" fill="#000"/>
<circle cx="427.7" cy="84.9" r="2.7" fill="#000"/>
<circle cx="417.5" cy="89.4" r="2.7" fill="#000"/>
<circle cx="425.8" cy="91.9" r="2.7" fill="#000"/>
<circle cx="428.9" cy="91.3" r="2.7" fill="#000"/>
<circle cx="432.1" cy="89.4" r="2.7" fill="#000"/>
<circle cx="431.4" cy="84.3" r="2.7" fill="#000"/>
<circle cx="434.0" cy="68.5" r="2.7" fill="#000"/>
<circle cx="437.8" cy="62.8" r="2.7" fill="#000"/>
<circle cx="440.3" cy="60.3" r="2.7" fill="#000"/>
<circle cx="439.7" cy="66.6" r="2.7" fill="#000"/>
<circle cx="442.2" cy="69.1" r="2.7" fill="#000"/>
<circle cx="434.0" cy="74.2" r="2.7" fill="#000"/>
<circle cx="437.8" cy="71.7" r="2.7" fill="#000"/>
<circle cx="437.8" cy="76.7" r="2.7" fill="#000"/>
<circle cx="441.6" cy="72.9" r="2.7" fill="#000"/>
<circle cx="445.4" cy="70.4" r="2.7" fill="#000"/>
<circle cx="449.2" cy="69.1" r="2.7" fill="#000"/>
<circle cx="453.0" cy="69.8" r="2.7" fill="#000"/>
<circle cx="454.2" cy="72.9" r="2.7" fill="#000"/>
<circle cx="445.4" cy="75.4" r="2.7" fill="#000"/>
<circle cx="449.2" cy="74.2" r="2.7" fill="#000"/>
<circle cx="453.0" cy="76.7" r="2.7" fill="#000"/>
<circle cx="435.2" cy="80.5" r="2.7" fill="#000"/>
<circle cx="439.0" cy="79.9" r="2.7" fill="#000"/>
<circle cx="442.8" cy="79.2" r="2.7" fill="#000"/>
<circle cx="446.6" cy="79.2" r="2.7" fill="#000"/>
<circle cx="450.4" cy="79.9" r="2.7" fill="#000"/>
<circle cx="454.2" cy="80.5" r="2.7" fill="#000"/>
<circle cx="458.0" cy="82.4" r="2.7" fill="#000"/>
<circle cx="437.1" cy="84.3" r="2.7" fill="#000"/>
<circle cx="440.9" cy="84.9" r="2.7" fill="#000"/>
<circle cx="444.7" cy="85.6" r="2.7" fill="#000"/>
<circle cx="448.5" cy="84.3" r="2.7" fill="#000"/>
<circle cx="452.3" cy="84.3" r="2.7" fill="#000"/>
<circle cx="456.1" cy="85.6" r="2.7" fill="#000"/>
<circle cx="459.9" cy="86.2" r="2.7" fill="#000"/>
<circle cx="463.7" cy="84.3" r="2.7" fill="#000"/>
<circle cx="466.2" cy="81.8" r="2.7" fill="#000"/>
<circle cx="469.4" cy="81.1" r="2.7" fill="#000"/>
<circle cx="470.7" cy="78.0" r="2.7" fill="#000"/>
<circle cx="472.6" cy="76.7" r="2.7" fill="#000"/>
<circle cx="461.8" cy="75.4" r="2.7" fill="#000"/>
<circle cx="458.0" cy="63.8" r="2.7" fill="#000"/>
<circle cx="486.5" cy="73.5" r="2.7" fill="#000"/>
<circle cx="442.2" cy="89.4" r="2.7" fill="#000"/>
<circle cx="446.0" cy="88.7" r="2.7" fill="#000"/>
<circle cx="449.8" cy="89.4" r="2.7" fill="#000"/>
<circle cx="453.6" cy="89.4" r="2.7" fill="#000"/>
<circle cx="457.4" cy="88.7" r="2.7" fill="#000"/>
<circle cx="460.5" cy="89.4" r="2.7" fill="#000"/>
<circle cx="464.3" cy="88.7" r="2.7" fill="#000"/>
<circle cx="468.1" cy="89.4" r="2.7" fill="#000"/>
<circle cx="441.6" cy="93.8" r="2.7" fill="#000"/>
<circle cx="445.4" cy="92.5" r="2.7" fill="#000"/>
<circle cx="449.2" cy="93.2" r="2.7" fill="#000"/>
<circle cx="453.0" cy="93.2" r="2.7" fill="#000"/>
<circle cx="456.7" cy="92.5" r="2.7" fill="#000"/>
<circle cx="461.8" cy="93.2" r="2.7" fill="#000"/>
<circle cx="465.6" cy="92.5" r="2.7" fill="#000"/>
<circle cx="469.4" cy="93.2" r="2.7" fill="#000"/>
<circle cx="441.6" cy="98.2" r="2.7" fill="#000"/>
<circle cx="447.9" cy="97.0" r="2.7" fill="#000"/>
<circle cx="455.5" cy="97.6" r="2.7" fill="#000"/>
<circle cx="459.3" cy="99.5" r="2.7" fill="#000"/>
<circle cx="465.6" cy="98.2" r="2.7" fill="#000"/>
<circle cx="470.7" cy="96.3" r="2.7" fill="#000"/>
<circle cx="473.8" cy="97.6" r="2.7" fill="#000"/>
<circle cx="477.6" cy="95.1" r="2.7" fill="#000"/>
<circle cx="480.8" cy="94.4" r="2.7" fill="#000"/>
<circle cx="483.9" cy="93.8" r="2.7" fill="#000"/>
<circle cx="486.5" cy="93.2" r="2.7" fill="#000"/>
<circle cx="486.5" cy="97.0" r="2.7" fill="#000"/>
<circle cx="441.6" cy="101.3" r="2.7" fill="#000"/>
<circle cx="456.1" cy="103.8" r="2.7" fill="#000"/>
<circle cx="459.9" cy="102.5" r="2.7" fill="#000"/>
<circle cx="463.7" cy="101.9" r="2.7" fill="#000"/>
<circle cx="468.1" cy="101.9" r="2.7" fill="#000"/>
<circle cx="471.9" cy="105.1" r="2.7" fill="#000"/>
<circle cx="467.5" cy="106.3" r="2.7" fill="#000"/>
<circle cx="461.8" cy="109.5" r="2.7" fill="#000"/>
<circle cx="468.1" cy="110.8" r="2.7" fill="#000"/>
<circle cx="470.7" cy="107.0" r="2.7" fill="#000"/>
<circle cx="486.5" cy="101.3" r="2.7" fill="#000"/>
<circle cx="486.5" cy="105.1" r="2.7" fill="#000"/>
<circle cx="488.4" cy="107.0" r="2.7" fill="#000"/>
<circle cx="486.5" cy="109.5" r="2.7" fill="#000"/>
<circle cx="486.5" cy="113.3" r="2.7" fill="#000"/>
<circle cx="488.4" cy="114.5" r="2.7" fill="#000"/>
<circle cx="486.5" cy="115.8" r="2.7" fill="#000"/>
<circle cx="486.5" cy="123.4" r="2.7" fill="#000"/>
<circle cx="488.4" cy="124.0" r="2.7" fill="#000"/>
<circle cx="496.0" cy="138.0" r="2.7" fill="#000"/>
<circle cx="369.7" cy="68.7" r="2.7" fill="#000"/>
<circle cx="376.8" cy="65.4" r="2.7" fill="#000"/>
<circle cx="366.3" cy="50.9" r="2.7" fill="#000"/>
<circle cx="368.0" cy="62.7" r="2.7" fill="#000"/>
<circle cx="362.1" cy="75.0" r="2.7" fill="#000"/>
<circle cx="372.8" cy="47.7" r="2.7" fill="#000"/>
<circle cx="373.5" cy="47.0" r="2.7" fill="#000"/>
<circle cx="369.6" cy="46.6" r="2.7" fill="#000"/>
<circle cx="360.6" cy="49.8" r="2.7" fill="#000"/>
<circle cx="362.4" cy="76.6" r="2.7" fill="#000"/>
<circle cx="367.9" cy="66.4" r="2.7" fill="#000"/>
<circle cx="360.5" cy="75.9" r="2.7" fill="#000"/>
<circle cx="375.7" cy="52.8" r="2.7" fill="#000"/>
<circle cx="363.9" cy="48.0" r="2.7" fill="#000"/>
<circle cx="359.2" cy="44.3" r="2.7" fill="#000"/>
<circle cx="362.6" cy="63.7" r="2.7" fill="#000"/>
<circle cx="363.4" cy="53.2" r="2.7" fill="#000"/>
<circle cx="374.0" cy="59.3" r="2.7" fill="#000"/>
<circle cx="396.6" cy="68.7" r="2.7" fill="#000"/>
<circle cx="388.6" cy="51.8" r="2.7" fill="#000"/>
<circle cx="376.0" cy="63.9" r="2.7" fill="#000"/>
<circle cx="388.2" cy="66.8" r="2.7" fill="#000"/>
<circle cx="385.7" cy="67.1" r="2.7" fill="#000"/>
<circle cx="383.1" cy="68.1" r="2.7" fill="#000"/>
<circle cx="395.0" cy="56.4" r="2.7" fill="#000"/>
<circle cx="390.0" cy="64.5" r="2.7" fill="#000"/>
<circle cx="381.0" cy="60.6" r="2.7" fill="#000"/>
<circle cx="396.9" cy="52.0" r="2.7" fill="#000"/>
<circle cx="396.9" cy="64.6" r="2.7" fill="#000"/>
<circle cx="398.0" cy="54.1" r="2.7" fill="#000"/>
<circle cx="378.4" cy="68.0" r="2.7" fill="#000"/>
<circle cx="396.9" cy="57.4" r="2.7" fill="#000"/>
<circle cx="378.4" cy="49.9" r="2.7" fill="#000"/>
<circle cx="392.5" cy="52.7" r="2.7" fill="#000"/>
<circle cx="400.7" cy="61.7" r="2.7" fill="#000"/>
<circle cx="381.2" cy="63.7" r="2.7" fill="#000"/>
<circle cx="385.4" cy="72.0" r="2.7" fill="#000"/>
<circle cx="439.1" cy="68.5" r="2.7" fill="#000"/>
<circle cx="445.0" cy="75.0" r="2.7" fill="#000"/>
<circle cx="431.6" cy="79.2" r="2.7" fill="#000"/>
<circle cx="432.0" cy="66.7" r="2.7" fill="#000"/>
<circle cx="441.9" cy="88.8" r="2.7" fill="#000"/>
<circle cx="433.5" cy="70.7" r="2.7" fill="#000"/>
<circle cx="447.6" cy="92.4" r="2.7" fill="#000"/>
<circle cx="446.2" cy="75.9" r="2.7" fill="#000"/>
<circle cx="454.0" cy="72.7" r="2.7" fill="#000"/>
<circle cx="434.0" cy="67.5" r="2.7" fill="#000"/>
<circle cx="438.6" cy="88.5" r="2.7" fill="#000"/>
<circle cx="435.1" cy="81.4" r="2.7" fill="#000"/>
<circle cx="447.9" cy="75.2" r="2.7" fill="#000"/>
<circle cx="445.3" cy="65.9" r="2.7" fill="#000"/>
<circle cx="431.7" cy="70.2" r="2.7" fill="#000"/>
<circle cx="449.1" cy="76.8" r="2.7" fill="#000"/>
<circle cx="438.8" cy="81.6" r="2.7" fill="#000"/>
<circle cx="442.7" cy="73.0" r="2.7" fill="#000"/>
<circle cx="452.2" cy="85.0" r="2.7" fill="#000"/>
<circle cx="436.8" cy="81.2" r="2.7" fill="#000"/>
<circle cx="444.7" cy="90.3" r="2.7" fill="#000"/>
<circle cx="450.4" cy="72.6" r="2.7" fill="#000"/>
<circle cx="441.7" cy="86.7" r="2.7" fill="#000"/>
<circle cx="434.3" cy="78.7" r="2.7" fill="#000"/>
<circle cx="451.4" cy="81.2" r="2.7" fill="#000"/>
<circle cx="454.5" cy="73.4" r="2.7" fill="#000"/>
<circle cx="449.5" cy="81.8" r="2.7" fill="#000"/>
<circle cx="446.2" cy="77.7" r="2.7" fill="#000"/>
<circle cx="337.5" cy="50.5" r="2.7" fill="#000"/>
<circle cx="342.6" cy="79.3" r="2.7" fill="#000"/>
<circle cx="347.0" cy="71.8" r="2.7" fill="#000"/>
<circle cx="338.0" cy="62.9" r="2.7" fill="#000"/>
<circle cx="354.9" cy="63.5" r="2.7" fill="#000"/>
<circle cx="352.9" cy="46.8" r="2.7" fill="#000"/>
<circle cx="335.9" cy="72.2" r="2.7" fill="#000"/>
<circle cx="337.6" cy="46.6" r="2.7" fill="#000"/>
<circle cx="343.7" cy="48.4" r="2.7" fill="#000"/>
<circle cx="342.8" cy="80.5" r="2.7" fill="#000"/>
<circle cx="339.5" cy="75.7" r="2.7" fill="#000"/>
<circle cx="352.5" cy="65.4" r="2.7" fill="#000"/>
<circle cx="348.8" cy="73.8" r="2.7" fill="#000"/>
<circle cx="349.1" cy="51.1" r="2.7" fill="#000"/>
<circle cx="343.2" cy="51.7" r="2.7" fill="#000"/>
<circle cx="345.4" cy="44.4" r="2.7" fill="#000"/>
<circle cx="346.6" cy="75.6" r="2.7" fill="#000"/>
<circle cx="345.9" cy="71.0" r="2.7" fill="#000"/>
<circle cx="337.8" cy="44.1" r="2.7" fill="#000"/>
<circle cx="350.8" cy="43.5" r="2.7" fill="#000"/>
<circle cx="342.6" cy="57.7" r="2.7" fill="#000"/>
<circle cx="340.1" cy="43.0" r="2.7" fill="#000"/>
<circle cx="355.4" cy="67.5" r="2.7" fill="#000"/>
<circle cx="347.7" cy="62.9" r="2.7" fill="#000"/>
<circle cx="340.8" cy="57.3" r="2.7" fill="#000"/>
<circle cx="352.2" cy="49.7" r="2.7" fill="#000"/>
<circle cx="355.1" cy="62.9" r="2.7" fill="#000"/>
<circle cx="349.5" cy="76.0" r="2.7" fill="#000"/>
<circle cx="350.4" cy="47.3" r="2.7" fill="#000"/>
<circle cx="336.3" cy="81.5" r="2.7" fill="#000"/>
<circle cx="353.5" cy="54.8" r="2.7" fill="#000"/>
<circle cx="346.1" cy="45.0" r="2.7" fill="#000"/>
<circle cx="343.0" cy="48.5" r="2.7" fill="#000"/>
<circle cx="344.0" cy="45.0" r="2.7" fill="#000"/>
<circle cx="340.5" cy="74.3" r="2.7" fill="#000"/>
<circle cx="349.0" cy="61.8" r="2.7" fill="#000"/>
<circle cx="356.4" cy="57.3" r="2.7" fill="#000"/>
<circle cx="352.1" cy="69.8" r="2.7" fill="#000"/>
<circle cx="353.2" cy="57.3" r="2.7" fill="#000"/>
<circle cx="338.3" cy="54.9" r="2.7" fill="#000"/>
<circle cx="340.9" cy="60.1" r="2.7" fill="#000"/>
<circle cx="346.0" cy="79.5" r="2.7" fill="#000"/>
<circle cx="341.5" cy="64.6" r="2.7" fill="#000"/>
<circle cx="338.6" cy="45.0" r="2.7" fill="#000"/>
<circle cx="355.8" cy="62.6" r="2.7" fill="#000"/>
<circle cx="352.9" cy="44.6" r="2.7" fill="#000"/>
<circle cx="347.2" cy="44.3" r="2.7" fill="#000"/>
<circle cx="343.0" cy="71.5" r="2.7" fill="#000"/>
<circle cx="347.3" cy="49.3" r="2.7" fill="#000"/>
<circle cx="344.0" cy="42.4" r="2.7" fill="#000"/>
<circle cx="347.3" cy="73.1" r="2.7" fill="#000"/>
<circle cx="339.8" cy="45.2" r="2.7" fill="#000"/>
<circle cx="344.3" cy="61.4" r="2.7" fill="#000"/>
<circle cx="350.2" cy="63.3" r="2.7" fill="#000"/>
<circle cx="338.6" cy="53.0" r="2.7" fill="#000"/>
<circle cx="340.4" cy="49.8" r="2.7" fill="#000"/>
<circle cx="337.7" cy="57.9" r="2.7" fill="#000"/>
<circle cx="340.7" cy="77.1" r="2.7" fill="#000"/>
<circle cx="354.2" cy="52.8" r="2.7" fill="#000"/>
<circle cx="339.2" cy="65.5" r="2.7" fill="#000"/>
<circle cx="346.5" cy="64.0" r="2.7" fill="#000"/>
<circle cx="338.5" cy="63.8" r="2.7" fill="#000"/>
<circle cx="353.0" cy="60.2" r="2.7" fill="#000"/>
<circle cx="341.5" cy="80.2" r="2.7" fill="#000"/>
<circle cx="345.9" cy="47.8" r="2.7" fill="#000"/>
<circle cx="353.6" cy="59.2" r="2.7" fill="#000"/>
<circle cx="337.7" cy="81.5" r="2.7" fill="#000"/>
<circle cx="353.9" cy="67.0" r="2.7" fill="#000"/>
<circle cx="348.6" cy="44.6" r="2.7" fill="#000"/>
<circle cx="358.1" cy="54.2" r="2.7" fill="#000"/>
<circle cx="347.6" cy="62.1" r="2.7" fill="#000"/>
<circle cx="346.5" cy="42.3" r="2.7" fill="#000"/>
<circle cx="356.1" cy="62.2" r="2.7" fill="#000"/>
<circle cx="344.7" cy="77.6" r="2.7" fill="#000"/>
<circle cx="356.4" cy="56.2" r="2.7" fill="#000"/>
<circle cx="611.6" cy="24.0" r="2.7" fill="#000"/>
<circle cx="612.5" cy="26.3" r="2.7" fill="#000"/>
<circle cx="610.6" cy="29.4" r="2.7" fill="#000"/>
<circle cx="610.3" cy="32.3" r="2.7" fill="#000"/>
<circle cx="628.9" cy="32.8" r="2.7" fill="#000"/>
<circle cx="606.8" cy="36.4" r="2.7" fill="#000"/>
<circle cx="613.8" cy="34.5" r="2.7" fill="#000"/>
<circle cx="617.6" cy="35.1" r="2.7" fill="#000"/>
<circle cx="621.3" cy="37.0" r="2.7" fill="#000"/>
<circle cx="625.1" cy="39.5" r="2.7" fill="#000"/>
<circle cx="601.1" cy="38.9" r="2.7" fill="#000"/>
<circle cx="600.5" cy="42.7" r="2.7" fill="#000"/>
<circle cx="599.2" cy="46.5" r="2.7" fill="#000"/>
<circle cx="599.2" cy="50.3" r="2.7" fill="#000"/>
<circle cx="599.2" cy="54.1" r="2.7" fill="#000"/>
<circle cx="599.2" cy="57.2" r="2.7" fill="#000"/>
<circle cx="605.5" cy="40.8" r="2.7" fill="#000"/>
<circle cx="610.0" cy="39.5" r="2.7" fill="#000"/>
<circle cx="615.0" cy="40.8" r="2.7" fill="#000"/>
<circle cx="604.3" cy="45.2" r="2.7" fill="#000"/>
<circle cx="608.7" cy="44.6" r="2.7" fill="#000"/>
<circle cx="613.1" cy="44.0" r="2.7" fill="#000"/>
<circle cx="618.2" cy="45.2" r="2.7" fill="#000"/>
<circle cx="604.3" cy="49.0" r="2.7" fill="#000"/>
<circle cx="608.7" cy="49.0" r="2.7" fill="#000"/>
<circle cx="613.1" cy="48.4" r="2.7" fill="#000"/>
<circle cx="603.6" cy="53.5" r="2.7" fill="#000"/>
<circle cx="608.1" cy="53.5" r="2.7" fill="#000"/>
<circle cx="612.5" cy="52.8" r="2.7" fill="#000"/>
<circle cx="616.9" cy="51.6" r="2.7" fill="#000"/>
<circle cx="620.7" cy="47.8" r="2.7" fill="#000"/>
<circle cx="624.5" cy="44.6" r="2.7" fill="#000"/>
<circle cx="629.6" cy="42.7" r="2.7" fill="#000"/>
<circle cx="634.6" cy="41.4" r="2.7" fill="#000"/>
<circle cx="639.1" cy="39.5" r="2.7" fill="#000"/>
<circle cx="639.1" cy="43.3" r="2.7" fill="#000"/>
<circle cx="637.2" cy="46.5" r="2.7" fill="#000"/>
<circle cx="634.6" cy="49.7" r="2.7" fill="#000"/>
<circle cx="639.1" cy="49.7" r="2.7" fill="#000"/>
<circle cx="631.5" cy="47.1" r="2.7" fill="#000"/>
<circle cx="628.3" cy="50.9" r="2.7" fill="#000"/>
<circle cx="625.1" cy="49.7" r="2.7" fill="#000"/>
<circle cx="623.2" cy="53.5" r="2.7" fill="#000"/>
<circle cx="619.5" cy="54.7" r="2.7" fill="#000"/>
<circle cx="627.0" cy="55.4" r="2.7" fill="#000"/>
<circle cx="632.1" cy="54.1" r="2.7" fill="#000"/>
<circle cx="637.2" cy="54.1" r="2.7" fill="#000"/>
<circle cx="639.7" cy="52.8" r="2.7" fill="#000"/>
<circle cx="603.6" cy="57.2" r="2.7" fill="#000"/>
<circle cx="608.1" cy="57.2" r="2.7" fill="#000"/>
<circle cx="613.1" cy="57.2" r="2.7" fill="#000"/>
<circle cx="618.2" cy="57.2" r="2.7" fill="#000"/>
<circle cx="649.2" cy="40.8" r="2.7" fill="#000"/>
<circle cx="665.0" cy="40.4" r="2.7" fill="#000"/>
<circle cx="646.0" cy="46.5" r="2.7" fill="#000"/>
<circle cx="650.4" cy="47.8" r="2.7" fill="#000"/>
<circle cx="654.2" cy="47.8" r="2.7" fill="#000"/>
<circle cx="657.4" cy="49.7" r="2.7" fill="#000"/>
<circle cx="648.5" cy="50.9" r="2.7" fill="#000"/>
<circle cx="645.4" cy="53.5" r="2.7" fill="#000"/>
<circle cx="650.4" cy="54.1" r="2.7" fill="#000"/>
<circle cx="656.1" cy="54.1" r="2.7" fill="#000"/>
<circle cx="662.5" cy="50.9" r="2.7" fill="#000"/>
<circle cx="664.4" cy="54.1" r="2.7" fill="#000"/>
<circle cx="670.7" cy="52.2" r="2.7" fill="#000"/>
<circle cx="659.9" cy="56.6" r="2.7" fill="#000"/>
<circle cx="663.7" cy="57.2" r="2.7" fill="#000"/>
<circle cx="650.4" cy="57.9" r="2.7" fill="#000"/>
<circle cx="644.8" cy="57.2" r="2.7" fill="#000"/>
<circle cx="689.6" cy="48.8" r="2.7" fill="#000"/>
<circle cx="705.7" cy="50.5" r="2.7" fill="#000"/>
<circle cx="684.8" cy="55.1" r="2.7" fill="#000"/>
<circle cx="687.6" cy="54.7" r="2.7" fill="#000"/>
<circle cx="686.7" cy="57.9" r="2.7" fill="#000"/>
<circle cx="703.8" cy="58.1" r="2.7" fill="#000"/>
<circle cx="599.2" cy="60.9" r="2.7" fill="#000"/>
<circle cx="599.2" cy="66.0" r="2.7" fill="#000"/>
<circle cx="599.2" cy="71.1" r="2.7" fill="#000"/>
<circle cx="599.2" cy="76.1" r="2.7" fill="#000"/>
<circle cx="599.2" cy="80.5" r="2.7" fill="#000"/>
<circle cx="599.2" cy="86.9" r="2.7" fill="#000"/>
<circle cx="606.8" cy="87.5" r="2.7" fill="#000"/>
<circle cx="606.8" cy="94.5" r="2.7" fill="#000"/>
<circle cx="603.6" cy="63.5" r="2.7" fill="#000"/>
<circle cx="603.6" cy="68.5" r="2.7" fill="#000"/>
<circle cx="603.6" cy="73.6" r="2.7" fill="#000"/>
<circle cx="603.6" cy="78.6" r="2.7" fill="#000"/>
<circle cx="608.1" cy="60.9" r="2.7" fill="#000"/>
<circle cx="608.1" cy="66.0" r="2.7" fill="#000"/>
<circle cx="608.1" cy="71.1" r="2.7" fill="#000"/>
<circle cx="608.1" cy="76.1" r="2.7" fill="#000"/>
<circle cx="612.5" cy="62.2" r="2.7" fill="#000"/>
<circle cx="612.5" cy="67.3" r="2.7" fill="#000"/>
<circle cx="612.5" cy="72.3" r="2.7" fill="#000"/>
<circle cx="616.9" cy="60.9" r="2.7" fill="#000"/>
<circle cx="616.9" cy="66.0" r="2.7" fill="#000"/>
<circle cx="616.3" cy="71.1" r="2.7" fill="#000"/>
<circle cx="620.1" cy="60.9" r="2.7" fill="#000"/>
<circle cx="623.2" cy="67.9" r="2.7" fill="#000"/>
<circle cx="623.2" cy="72.3" r="2.7" fill="#000"/>
<circle cx="623.2" cy="75.5" r="2.7" fill="#000"/>
<circle cx="625.8" cy="68.5" r="2.7" fill="#000"/>
<circle cx="630.2" cy="64.1" r="2.7" fill="#000"/>
<circle cx="628.9" cy="67.3" r="2.7" fill="#000"/>
<circle cx="627.0" cy="83.1" r="2.7" fill="#000"/>
<circle cx="625.8" cy="58.4" r="2.7" fill="#000"/>
<circle cx="637.2" cy="60.9" r="2.7" fill="#000"/>
<circle cx="637.2" cy="70.4" r="2.7" fill="#000"/>
<circle cx="639.7" cy="73.6" r="2.7" fill="#000"/>
<circle cx="641.0" cy="63.5" r="2.7" fill="#000"/>
<circle cx="642.2" cy="71.1" r="2.7" fill="#000"/>
<circle cx="644.8" cy="63.5" r="2.7" fill="#000"/>
<circle cx="646.0" cy="68.5" r="2.7" fill="#000"/>
<circle cx="648.5" cy="71.1" r="2.7" fill="#000"/>
<circle cx="645.4" cy="78.0" r="2.7" fill="#000"/>
<circle cx="649.8" cy="62.2" r="2.7" fill="#000"/>
<circle cx="652.3" cy="66.0" r="2.7" fill="#000"/>
<circle cx="654.9" cy="67.3" r="2.7" fill="#000"/>
<circle cx="658.7" cy="66.6" r="2.7" fill="#000"/>
<circle cx="659.9" cy="60.9" r="2.7" fill="#000"/>
<circle cx="654.9" cy="73.6" r="2.7" fill="#000"/>
<circle cx="659.3" cy="73.6" r="2.7" fill="#000"/>
<circle cx="663.7" cy="70.4" r="2.7" fill="#000"/>
<circle cx="666.9" cy="62.8" r="2.7" fill="#000"/>
<circle cx="671.3" cy="66.6" r="2.7" fill="#000"/>
<circle cx="673.2" cy="61.6" r="2.7" fill="#000"/>
<circle cx="653.0" cy="79.3" r="2.7" fill="#000"/>
<circle cx="659.3" cy="83.1" r="2.7" fill="#000"/>
<circle cx="665.0" cy="78.6" r="2.7" fill="#000"/>
<circle cx="665.0" cy="85.6" r="2.7" fill="#000"/>
<circle cx="675.1" cy="82.4" r="2.7" fill="#000"/>
<circle cx="678.3" cy="78.0" r="2.7" fill="#000"/>
<circle cx="678.3" cy="68.5" r="2.7" fill="#000"/>
<circle cx="649.2" cy="90.7" r="2.7" fill="#000"/>
<circle cx="683.6" cy="61.6" r="2.7" fill="#000"/>
<circle cx="688.0" cy="60.3" r="2.7" fill="#000"/>
<circle cx="691.2" cy="62.2" r="2.7" fill="#000"/>
<circle cx="679.8" cy="68.5" r="2.7" fill="#000"/>
<circle cx="683.6" cy="71.1" r="2.7" fill="#000"/>
<circle cx="688.0" cy="67.3" r="2.7" fill="#000"/>
<circle cx="691.2" cy="66.0" r="2.7" fill="#000"/>
<circle cx="690.5" cy="71.7" r="2.7" fill="#000"/>
<circle cx="690.5" cy="76.1" r="2.7" fill="#000"/>
<circle cx="681.0" cy="77.4" r="2.7" fill="#000"/>
<circle cx="681.0" cy="81.2" r="2.7" fill="#000"/>
<circle cx="687.4" cy="80.5" r="2.7" fill="#000"/>
<circle cx="691.2" cy="84.3" r="2.7" fill="#000"/>
<circle cx="681.0" cy="88.8" r="2.7" fill="#000"/>
<circle cx="689.3" cy="91.3" r="2.7" fill="#000"/>
<circle cx="692.4" cy="90.7" r="2.7" fill="#000"/>
<circle cx="695.6" cy="88.8" r="2.7" fill="#000"/>
<circle cx="694.9" cy="83.7" r="2.7" fill="#000"/>
<circle cx="697.5" cy="67.9" r="2.7" fill="#000"/>
<circle cx="701.3" cy="62.2" r="2.7" fill="#000"/>
<circle cx="703.8" cy="59.7" r="2.7" fill="#000"/>
<circle cx="703.2" cy="66.0" r="2.7" fill="#000"/>
<circle cx="705.7" cy="68.5" r="2.7" fill="#000"/>
<circle cx="697.5" cy="73.6" r="2.7" fill="#000"/>
<circle cx="701.3" cy="71.1" r="2.7" fill="#000"/>
<circle cx="701.3" cy="76.1" r="2.7" fill="#000"/>
<circle cx="705.1" cy="72.3" r="2.7" fill="#000"/>
<circle cx="708.9" cy="69.8" r="2.7" fill="#000"/>
<circle cx="712.7" cy="68.5" r="2.7" fill="#000"/>
<circle cx="716.5" cy="69.2" r="2.7" fill="#000"/>
<circle cx="717.7" cy="72.3" r="2.7" fill="#000"/>
<circle cx="708.9" cy="74.8" r="2.7" fill="#000"/>
<circle cx="712.7" cy="73.6" r="2.7" fill="#000"/>
<circle cx="716.5" cy="76.1" r="2.7" fill="#000"/>
<circle cx="698.7" cy="79.9" r="2.7" fill="#000"/>
<circle cx="702.5" cy="79.3" r="2.7" fill="#000"/>
<circle cx="706.3" cy="78.6" r="2.7" fill="#000"/>
<circle cx="710.1" cy="78.6" r="2.7" fill="#000"/>
<circle cx="713.9" cy="79.3" r="2.7" fill="#000"/>
<circle cx="717.7" cy="79.9" r="2.7" fill="#000"/>
<circle cx="721.5" cy="81.8" r="2.7" fill="#000"/>
<circle cx="700.6" cy="83.7" r="2.7" fill="#000"/>
<circle cx="704.4" cy="84.3" r="2.7" fill="#000"/>
<circle cx="708.2" cy="85.0" r="2.7" fill="#000"/>
<circle cx="712.0" cy="83.7" r="2.7" fill="#000"/>
<circle cx="715.8" cy="83.7" r="2.7" fill="#000"/>
<circle cx="719.6" cy="85.0" r="2.7" fill="#000"/>
<circle cx="723.4" cy="85.6" r="2.7" fill="#000"/>
<circle cx="727.2" cy="83.7" r="2.7" fill="#000"/>
<circle cx="729.7" cy="81.2" r="2.7" fill="#000"/>
<circle cx="732.9" cy="80.5" r="2.7" fill="#000"/>
<circle cx="734.2" cy="77.4" r="2.7" fill="#000"/>
<circle cx="736.1" cy="76.1" r="2.7" fill="#000"/>
<circle cx="725.3" cy="74.8" r="2.7" fill="#000"/>
<circle cx="721.5" cy="63.2" r="2.7" fill="#000"/>
<circle cx="750.0" cy="72.9" r="2.7" fill="#000"/>
<circle cx="705.7" cy="88.8" r="2.7" fill="#000"/>
<circle cx="709.5" cy="88.1" r="2.7" fill="#000"/>
<circle cx="713.3" cy="88.8" r="2.7" fill="#000"/>
<circle cx="717.1" cy="88.8" r="2.7" fill="#000"/>
<circle cx="720.9" cy="88.1" r="2.7" fill="#000"/>
<circle cx="724.0" cy="88.8" r="2.7" fill="#000"/>
<circle cx="727.8" cy="88.1" r="2.7" fill="#000"/>
<circle cx="731.6" cy="88.8" r="2.7" fill="#000"/>
<circle cx="705.1" cy="93.2" r="2.7" fill="#000"/>
<circle cx="708.9" cy="91.9" r="2.7" fill="#000"/>
<circle cx="712.7" cy="92.6" r="2.7" fill="#000"/>
<circle cx="716.5" cy="92.6" r="2.7" fill="#000"/>
<circle cx="720.2" cy="91.9" r="2.7" fill="#000"/>
<circle cx="725.3" cy="92.6" r="2.7" fill="#000"/>
<circle cx="729.1" cy="91.9" r="2.7" fill="#000"/>
<circle cx="732.9" cy="92.6" r="2.7" fill="#000"/>
<circle cx="705.1" cy="97.6" r="2.7" fill="#000"/>
<circle cx="711.4" cy="96.4" r="2.7" fill="#000"/>
<circle cx="719.0" cy="97.0" r="2.7" fill="#000"/>
<circle cx="722.8" cy="98.9" r="2.7" fill="#000"/>
<circle cx="729.1" cy="97.6" r="2.7" fill="#000"/>
<circle cx="734.2" cy="95.7" r="2.7" fill="#000"/>
<circle cx="737.3" cy="97.0" r="2.7" fill="#000"/>
<circle cx="741.1" cy="94.5" r="2.7" fill="#000"/>
<circle cx="744.3" cy="93.8" r="2.7" fill="#000"/>
<circle cx="747.4" cy="93.2" r="2.7" fill="#000"/>
<circle cx="750.0" cy="92.6" r="2.7" fill="#000"/>
<circle cx="750.0" cy="96.4" r="2.7" fill="#000"/>
<circle cx="705.1" cy="100.7" r="2.7" fill="#000"/>
<circle cx="719.6" cy="103.2" r="2.7" fill="#000"/>
<circle cx="723.4" cy="101.9" r="2.7" fill="#000"/>
<circle cx="727.2" cy="101.3" r="2.7" fill="#000"/>
<circle cx="731.6" cy="101.3" r="2.7" fill="#000"/>
<circle cx="735.4" cy="104.5" r="2.7" fill="#000"/>
<circle cx="731.0" cy="105.7" r="2.7" fill="#000"/>
<circle cx="725.3" cy="108.9" r="2.7" fill="#000"/>
<circle cx="731.6" cy="110.2" r="2.7" fill="#000"/>
<circle cx="734.2" cy="106.4" r="2.7" fill="#000"/>
<circle cx="750.0" cy="100.7" r="2.7" fill="#000"/>
<circle cx="750.0" cy="104.5" r="2.7" fill="#000"/>
<circle cx="751.9" cy="106.4" r="2.7" fill="#000"/>
<circle cx="750.0" cy="108.9" r="2.7" fill="#000"/>
<circle cx="750.0" cy="112.7" r="2.7" fill="#000"/>
<circle cx="751.9" cy="113.9" r="2.7" fill="#000"/>
<circle cx="750.0" cy="115.2" r="2.7" fill="#000"/>
<circle cx="750.0" cy="122.8" r="2.7" fill="#000"/>
<circle cx="751.9" cy="123.4" r="2.7" fill="#000"/>
<circle cx="759.5" cy="137.4" r="2.7" fill="#000"/>
<circle cx="633.2" cy="68.1" r="2.7" fill="#000"/>
<circle cx="640.3" cy="64.8" r="2.7" fill="#000"/>
<circle cx="629.8" cy="50.3" r="2.7" fill="#000"/>
<circle cx="631.5" cy="62.1" r="2.7" fill="#000"/>
<circle cx="625.6" cy="74.4" r="2.7" fill="#000"/>
<circle cx="636.3" cy="47.1" r="2.7" fill="#000"/>
<circle cx="637.0" cy="46.4" r="2.7" fill="#000"/>
<circle cx="633.1" cy="46.0" r="2.7" fill="#000"/>
<circle cx="624.1" cy="49.2" r="2.7" fill="#000"/>
<circle cx="625.9" cy="76.0" r="2.7" fill="#000"/>
<circle cx="631.4" cy="65.8" r="2.7" fill="#000"/>
<circle cx="624.0" cy="75.3" r="2.7" fill="#000"/>
<circle cx="639.2" cy="52.2" r="2.7" fill="#000"/>
<circle cx="627.4" cy="47.4" r="2.7" fill="#000"/>
<circle cx="622.7" cy="43.7" r="2.7" fill="#000"/>
<circle cx="626.1" cy="63.1" r="2.7" fill="#000"/>
<circle cx="626.9" cy="52.6" r="2.7" fill="#000"/>
<circle cx="637.5" cy="58.7" r="2.7" fill="#000"/>
<circle cx="660.1" cy="68.1" r="2.7" fill="#000"/>
<circle cx="652.1" cy="51.2" r="2.7" fill="#000"/>
<circle cx="639.5" cy="63.3" r="2.7" fill="#000"/>
<circle cx="651.7" cy="66.2" r="2.7" fill="#000"/>
<circle cx="649.2" cy="66.5" r="2.7" fill="#000"/>
<circle cx="646.6" cy="67.5" r="2.7" fill="#000"/>
<circle cx="658.5" cy="55.8" r="2.7" fill="#000"/>
<circle cx="653.5" cy="63.9" r="2.7" fill="#000"/>
<circle cx="644.5" cy="60.0" r="2.7" fill="#000"/>
<circle cx="660.4" cy="51.4" r="2.7" fill="#000"/>
<circle cx="660.4" cy="64.0" r="2.7" fill="#000"/>
<circle cx="661.5" cy="53.5" r="2.7" fill="#000"/>
<circle cx="641.9" cy="67.4" r="2.7" fill="#000"/>
<circle cx="660.4" cy="56.8" r="2.7" fill="#000"/>
<circle cx="641.9" cy="49.3" r="2.7" fill="#000"/>
<circle cx="656.0" cy="52.1" r="2.7" fill="#000"/>
<circle cx="664.2" cy="61.1" r="2.7" fill="#000"/>
<circle cx="644.7" cy="63.1" r="2.7" fill="#000"/>
<circle cx="648.9" cy="71.4" r="2.7" fill="#000"/>
<circle cx="702.6" cy="67.9" r="2.7" fill="#000"/>
<circle cx="708.5" cy="74.4" r="2.7" fill="#000"/>
<circle cx="695.1" cy="78.6" r="2.7" fill="#000"/>
<circle cx="695.5" cy="66.1" r="2.7" fill="#000"/>
<circle cx="705.4" cy="88.2" r="2.7" fill="#000"/>
<circle cx="697.0" cy="70.1" r="2.7" fill="#000"/>
<circle cx="711.1" cy="91.8" r="2.7" fill="#000"/>
<circle cx="709.7" cy="75.3" r="2.7" fill="#000"/>
<circle cx="717.5" cy="72.1" r="2.7" fill="#000"/>
<circle cx="697.5" cy="66.9" r="2.7" fill="#000"/>
<circle cx="702.1" cy="87.9" r="2.7" fill="#000"/>
<circle cx="698.6" cy="80.8" r="2.7" fill="#000"/>
<circle cx="711.4" cy="74.6" r="2.7" fill="#000"/>
<circle cx="708.8" cy="65.3" r="2.7" fill="#000"/>
<circle cx="695.2" cy="69.6" r="2.7" fill="#000"/>
<circle cx="712.6" cy="76.2" r="2.7" fill="#000"/>
<circle cx="702.3" cy="81.0" r="2.7" fill="#000"/>
<circle cx="706.2" cy="72.4" r="2.7" fill="#000"/>
<circle cx="715.7" cy="84.4" r="2.7" fill="#000"/>
<circle cx="700.3" cy="80.6" r="2.7" fill="#000"/>
<circle cx="708.2" cy="89.7" r="2.7" fill="#000"/>
<circle cx="713.9" cy="72.0" r="2.7" fill="#000"/>
<circle cx="705.2" cy="86.1" r="2.7" fill="#000"/>
<circle cx="697.8" cy="78.1" r="2.7" fill="#000"/>
<circle cx="714.9" cy="80.6" r="2.7" fill="#000"/>
<circle cx="718.0" cy="72.8" r="2.7" fill="#000"/>
<circle cx="713.0" cy="81.2" r="2.7" fill="#000"/>
<circle cx="709.7" cy="77.1" r="2.7" fill="#000"/>
<circle cx="601.0" cy="49.9" r="2.7" fill="#000"/>
<circle cx="606.1" cy="78.7" r="2.7" fill="#000"/>
<circle cx="610.5" cy="71.2" r="2.7" fill="#000"/>
<circle cx="601.5" cy="62.3" r="2.7" fill="#000"/>
<circle cx="618.4" cy="62.9" r="2.7" fill="#000"/>
<circle cx="616.4" cy="46.2" r="2.7" fill="#000"/>
<circle cx="599.4" cy="71.6" r="2.7" fill="#000"/>
<circle cx="601.1" cy="46.0" r="2.7" fill="#000"/>
<circle cx="607.2" cy="47.8" r="2.7" fill="#000"/>
<circle cx="606.3" cy="79.9" r="2.7" fill="#000"/>
<circle cx="603.0" cy="75.1" r="2.7" fill="#000"/>
<circle cx="616.0" cy="64.8" r="2.7" fill="#000"/>
<circle cx="612.3" cy="73.2" r="2.7" fill="#000"/>
<circle cx="612.6" cy="50.5" r="2.7" fill="#000"/>
<circle cx="606.7" cy="51.1" r="2.7" fill="#000"/>
<circle cx="608.9" cy="43.8" r="2.7" fill="#000"/>
<circle cx="610.1" cy="75.0" r="2.7" fill="#000"/>
<circle cx="609.4" cy="70.4" r="2.7" fill="#000"/>
<circle cx="601.3" cy="43.5" r="2.7" fill="#000"/>
<circle cx="614.3" cy="42.9" r="2.7" fill="#000"/>
<circle cx="606.1" cy="57.1" r="2.7" fill="#000"/>
<circle cx="603.6" cy="42.4" r="2.7" fill="#000"/>
<circle cx="618.9" cy="66.9" r="2.7" fill="#000"/>
<circle cx="611.2" cy="62.3" r="2.7" fill="#000"/>
<circle cx="604.3" cy="56.7" r="2.7" fill="#000"/>
<circle cx="615.7" cy="49.1" r="2.7" fill="#000"/>
<circle cx="618.6" cy="62.3" r="2.7" fill="#000"/>
<circle cx="613.0" cy="75.4" r="2.7" fill="#000"/>
<circle cx="613.9" cy="46.7" r="2.7" fill="#000"/>
<circle cx="599.8" cy="80.9" r="2.7" fill="#000"/>
<circle cx="617.0" cy="54.2" r="2.7" fill="#000"/>
<circle cx="609.6" cy="44.4" r="2.7" fill="#000"/>
<circle cx="606.5" cy="47.9" r="2.7" fill="#000"/>
<circle cx="607.5" cy="44.4" r="2.7" fill="#000"/>
<circle cx="604.0" cy="73.7" r="2.7" fill="#000"/>
<circle cx="612.5" cy="61.2" r="2.7" fill="#000"/>
<circle cx="619.9" cy="56.7" r="2.7" fill="#000"/>
<circle cx="615.6" cy="69.2" r="2.7" fill="#000"/>
<circle cx="616.7" cy="56.7" r="2.7" fill="#000"/>
<circle cx="601.8" cy="54.3" r="2.7" fill="#000"/>
<circle cx="604.4" cy="59.5" r="2.7" fill="#000"/>
<circle cx="609.5" cy="78.9" r="2.7" fill="#000"/>
<circle cx="605.0" cy="64.0" r="2.7" fill="#000"/>
<circle cx="602.1" cy="44.4" r="2.7" fill="#000"/>
<circle cx="619.3" cy="62.0" r="2.7" fill="#000"/>
<circle cx="616.4" cy="44.0" r="2.7" fill="#000"/>
<circle cx="610.7" cy="43.7" r="2.7" fill="#000"/>
<circle cx="606.5" cy="70.9" r="2.7" fill="#000"/>
<circle cx="610.8" cy="48.7" r="2.7" fill="#000"/>
<circle cx="607.5" cy="41.8" r="2.7" fill="#000"/>
<circle cx="610.8" cy="72.5" r="2.7" fill="#000"/>
<circle cx="603.3" cy="44.6" r="2.7" fill="#000"/>
<circle cx="607.8" cy="60.8" r="2.7" fill="#000"/>
<circle cx="613.7" cy="62.7" r="2.7" fill="#000"/>
<circle cx="602.1" cy="52.4" r="2.7" fill="#000"/>
<circle cx="603.9" cy="49.2" r="2.7" fill="#000"/>
<circle cx="601.2" cy="57.3" r="2.7" fill="#000"/>
<circle cx="604.2" cy="76.5" r="2.7" fill="#000"/>
<circle cx="617.7" cy="52.2" r="2.7" fill="#000"/>
<circle cx="602.7" cy="64.9" r="2.7" fill="#000"/>
<circle cx="610.0" cy="63.4" r="2.7" fill="#000"/>
<circle cx="602.0" cy="63.2" r="2.7" fill="#000"/>
<circle cx="616.5" cy="59.6" r="2.7" fill="#000"/>
<circle cx="605.0" cy="79.6" r="2.7" fill="#000"/>
<circle cx="609.4" cy="47.2" r="2.7" fill="#000"/>
<circle cx="617.1" cy="58.6" r="2.7" fill="#000"/>
<circle cx="601.2" cy="80.9" r="2.7" fill="#000"/>
<circle cx="617.4" cy="66.4" r="2.7" fill="#000"/>
<circle cx="612.1" cy="44.0" r="2.7" fill="#000"/>
<circle cx="621.6" cy="53.6" r="2.7" fill="#000"/>
<circle cx="611.1" cy="61.5" r="2.7" fill="#000"/>
<circle cx="610.0" cy="41.7" r="2.7" fill="#000"/>
<circle cx="619.6" cy="61.6" r="2.7" fill="#000"/>
<circle cx="608.2" cy="77.0" r="2.7" fill="#000"/>
<circle cx="619.9" cy="55.6" r="2.7" fill="#000"/>
<circle cx="77.9" cy="184.1" r="2.25" fill="none" stroke="#000" stroke-width="1.1"/>
<circle cx="83.9" cy="185.7" r="2.25" fill="none" stroke="#000" stroke-width="1.1"/>
<circle cx="77.9" cy="197.5" r="2.25" fill="none" stroke="#000" stroke-width="1.1"/>
<circle cx="71.8" cy="200.9" r="2.25" fill="none" stroke="#000" stroke-width="1.1"/>
<circle cx="81.9" cy="200.9" r="2.25" fill="none" stroke="#000" stroke-width="1.1"/>
<circle cx="71.8" cy="205.9" r="2.25" fill="none" stroke="#000" stroke-width="1.1"/>
<circle cx="77.9" cy="205.9" r="2.25" fill="none" stroke="#000" stroke-width="1.1"/>
<circle cx="83.9" cy="204.2" r="2.25" fill="none" stroke="#000" stroke-width="1.1"/>
<circle cx="90.0" cy="204.2" r="2.25" fill="none" stroke="#000" stroke-width="1.1"/>
<circle cx="75.9" cy="202.6" r="2.25" fill="none" stroke="#000" stroke-width="1.1"/>
<circle cx="73.8" cy="209.3" r="2.25" fill="none" stroke="#000" stroke-width="1.1"/>
<circle cx="77.9" cy="211.0" r="2.25" fill="none" stroke="#000" stroke-width="1.1"/>
<circle cx="83.9" cy="209.3" r="2.25" fill="none" stroke="#000" stroke-width="1.1"/>
<circle cx="88.0" cy="211.0" r="2.25" fill="none" stroke="#000" stroke-width="1.1"/>
<circle cx="104.1" cy="204.2" r="2.25" fill="none" stroke="#000" stroke-width="1.1"/>
<circle cx="110.1" cy="209.3" r="2.25" fill="none" stroke="#000" stroke-width="1.1"/>
<circle cx="102.0" cy="212.7" r="2.25" fill="none" stroke="#000" stroke-width="1.1"/>
<circle cx="118.2" cy="212.7" r="2.25" fill="none" stroke="#000" stroke-width="1.1"/>
<circle cx="116.2" cy="216.0" r="2.25" fill="none" stroke="#000" stroke-width="1.1"/>
<circle cx="122.2" cy="217.7" r="2.25" fill="none" stroke="#000" stroke-width="1.1"/>
<circle cx="110.1" cy="216.0" r="2.25" fill="none" stroke="#000" stroke-width="1.1"/>
<circle cx="134.3" cy="216.0" r="2.25" fill="none" stroke="#000" stroke-width="1.1"/>
<circle cx="140.3" cy="216.0" r="2.25" fill="none" stroke="#000" stroke-width="1.1"/>
<circle cx="146.4" cy="212.7" r="2.25" fill="none" stroke="#000" stroke-width="1.1"/>
<circle cx="71.8" cy="216.0" r="2.25" fill="none" stroke="#000" stroke-width="1.1"/>
<circle cx="71.8" cy="219.4" r="2.25" fill="none" stroke="#000" stroke-width="1.1"/>
<circle cx="75.9" cy="216.0" r="2.25" fill="none" stroke="#000" stroke-width="1.1"/>
<circle cx="81.9" cy="214.3" r="2.25" fill="none" stroke="#000" stroke-width="1.1"/>
<circle cx="83.9" cy="212.7" r="2.25" fill="none" stroke="#000" stroke-width="1.1"/>
<circle cx="88.0" cy="216.0" r="2.25" fill="none" stroke="#000" stroke-width="1.1"/>
<circle cx="90.0" cy="217.7" r="2.25" fill="none" stroke="#000" stroke-width="1.1"/>
<circle cx="96.0" cy="219.4" r="2.25" fill="none" stroke="#000" stroke-width="1.1"/>
<circle cx="100.0" cy="221.1" r="2.25" fill="none" stroke="#000" stroke-width="1.1"/>
<circle cx="108.1" cy="219.4" r="2.25" fill="none" stroke="#000" stroke-width="1.1"/>
<circle cx="112.1" cy="221.1" r="2.25" fill="none" stroke="#000" stroke-width="1.1"/>
<circle cx="120.2" cy="221.1" r="2.25" fill="none" stroke="#000" stroke-width="1.1"/>
<circle cx="124.2" cy="221.1" r="2.25" fill="none" stroke="#000" stroke-width="1.1"/>
<circle cx="130.3" cy="221.1" r="2.25" fill="none" stroke="#000" stroke-width="1.1"/>
<circle cx="136.3" cy="221.1" r="2.25" fill="none" stroke="#000" stroke-width="1.1"/>
<circle cx="138.3" cy="221.1" r="2.25" fill="none" stroke="#000" stroke-width="1.1"/>
<circle cx="77.9" cy="219.4" r="2.25" fill="none" stroke="#000" stroke-width="1.1"/>
<circle cx="81.9" cy="219.4" r="2.25" fill="none" stroke="#000" stroke-width="1.1"/>
<circle cx="71.8" cy="222.8" r="2.25" fill="none" stroke="#000" stroke-width="1.1"/>
<circle cx="71.8" cy="229.5" r="2.25" fill="none" stroke="#000" stroke-width="1.1"/>
<circle cx="71.8" cy="232.9" r="2.25" fill="none" stroke="#000" stroke-width="1.1"/>
<circle cx="73.8" cy="237.9" r="2.25" fill="none" stroke="#000" stroke-width="1.1"/>
<circle cx="75.9" cy="221.1" r="2.25" fill="none" stroke="#000" stroke-width="1.1"/>
<circle cx="75.9" cy="224.4" r="2.25" fill="none" stroke="#000" stroke-width="1.1"/>
<circle cx="75.9" cy="231.2" r="2.25" fill="none" stroke="#000" stroke-width="1.1"/>
<circle cx="77.9" cy="234.5" r="2.25" fill="none" stroke="#000" stroke-width="1.1"/>
<circle cx="77.9" cy="237.9" r="2.25" fill="none" stroke="#000" stroke-width="1.1"/>
<circle cx="77.9" cy="242.9" r="2.25" fill="none" stroke="#000" stroke-width="1.1"/>
<circle cx="77.9" cy="248.0" r="2.25" fill="none" stroke="#000" stroke-width="1.1"/>
<circle cx="73.8" cy="248.0" r="2.25" fill="none" stroke="#000" stroke-width="1.1"/>
<circle cx="79.9" cy="221.1" r="2.25" fill="none" stroke="#000" stroke-width="1.1"/>
<circle cx="81.9" cy="227.8" r="2.25" fill="none" stroke="#000" stroke-width="1.1"/>
<circle cx="81.9" cy="232.9" r="2.25" fill="none" stroke="#000" stroke-width="1.1"/>
<circle cx="81.9" cy="241.3" r="2.25" fill="none" stroke="#000" stroke-width="1.1"/>
<circle cx="83.9" cy="221.1" r="2.25" fill="none" stroke="#000" stroke-width="1.1"/>
<circle cx="83.9" cy="226.1" r="2.25" fill="none" stroke="#000" stroke-width="1.1"/>
<circle cx="83.9" cy="231.2" r="2.25" fill="none" stroke="#000" stroke-width="1.1"/>
<circle cx="85.9" cy="234.5" r="2.25" fill="none" stroke="#000" stroke-width="1.1"/>
<circle cx="85.9" cy="242.9" r="2.25" fill="none" stroke="#000" stroke-width="1.1"/>
<circle cx="88.0" cy="221.1" r="2.25" fill="none" stroke="#000" stroke-width="1.1"/>
<circle cx="88.0" cy="226.1" r="2.25" fill="none" stroke="#000" stroke-width="1.1"/>
<circle cx="88.0" cy="237.9" r="2.25" fill="none" stroke="#000" stroke-width="1.1"/>
<circle cx="90.0" cy="222.8" r="2.25" fill="none" stroke="#000" stroke-width="1.1"/>
<circle cx="94.0" cy="226.1" r="2.25" fill="none" stroke="#000" stroke-width="1.1"/>
<circle cx="94.0" cy="229.5" r="2.25" fill="none" stroke="#000" stroke-width="1.1"/>
<circle cx="94.0" cy="234.5" r="2.25" fill="none" stroke="#000" stroke-width="1.1"/>
<circle cx="94.0" cy="241.3" r="2.25" fill="none" stroke="#000" stroke-width="1.1"/>
<circle cx="98.0" cy="229.5" r="2.25" fill="none" stroke="#000" stroke-width="1.1"/>
<circle cx="102.0" cy="229.5" r="2.25" fill="none" stroke="#000" stroke-width="1.1"/>
<circle cx="100.0" cy="232.9" r="2.25" fill="none" stroke="#000" stroke-width="1.1"/>
<circle cx="104.1" cy="231.2" r="2.25" fill="none" stroke="#000" stroke-width="1.1"/>
<circle cx="106.1" cy="236.2" r="2.25" fill="none" stroke="#000" stroke-width="1.1"/>
<circle cx="104.1" cy="241.3" r="2.25" fill="none" stroke="#000" stroke-width="1.1"/>
<circle cx="106.1" cy="224.4" r="2.25" fill="none" stroke="#000" stroke-width="1.1"/>
<circle cx="110.1" cy="231.2" r="2.25" fill="none" stroke="#000" stroke-width="1.1"/>
<circle cx="110.1" cy="221.1" r="2.25" fill="none" stroke="#000" stroke-width="1.1"/>
<circle cx="112.1" cy="224.4" r="2.25" fill="none" stroke="#000" stroke-width="1.1"/>
<circle cx="110.1" cy="219.4" r="2.25" fill="none" stroke="#000" stroke-width="1.1"/>
<circle cx="116.2" cy="224.4" r="2.25" fill="none" stroke="#000" stroke-width="1.1"/>
<circle cx="118.2" cy="229.5" r="2.25" fill="none" stroke="#000" stroke-width="1.1"/>
<circle cx="122.2" cy="221.1" r="2.25" fill="none" stroke="#000" stroke-width="1.1"/>
<circle cx="124.2" cy="226.1" r="2.25" fill="none" stroke="#000" stroke-width="1.1"/>
<circle cx="122.2" cy="232.9" r="2.25" fill="none" stroke="#000" stroke-width="1.1"/>
<circle cx="126.2" cy="236.2" r="2.25" fill="none" stroke="#000" stroke-width="1.1"/>
<circle cx="122.2" cy="239.6" r="2.25" fill="none" stroke="#000" stroke-width="1.1"/>
<circle cx="118.2" cy="244.6" r="2.25" fill="none" stroke="#000" stroke-width="1.1"/>
<circle cx="130.3" cy="244.6" r="2.25" fill="none" stroke="#000" stroke-width="1.1"/>
<circle cx="124.2" cy="249.7" r="2.25" fill="none" stroke="#000" stroke-width="1.1"/>
<circle cx="130.3" cy="251.4" r="2.25" fill="none" stroke="#000" stroke-width="1.1"/>
<circle cx="120.2" cy="251.4" r="2.25" fill="none" stroke="#000" stroke-width="1.1"/>
<circle cx="116.2" cy="251.4" r="2.25" fill="none" stroke="#000" stroke-width="1.1"/>
<circle cx="110.1" cy="251.4" r="2.25" fill="none" stroke="#000" stroke-width="1.1"/>
<circle cx="110.1" cy="253.1" r="2.25" fill="none" stroke="#000" stroke-width="1.1"/>
<circle cx="120.2" cy="254.7" r="2.25" fill="none" stroke="#000" stroke-width="1.1"/>
<circle cx="134.3" cy="224.4" r="2.25" fill="none" stroke="#000" stroke-width="1.1"/>
<circle cx="140.3" cy="222.8" r="2.25" fill="none" stroke="#000" stroke-width="1.1"/>
<circle cx="138.3" cy="229.5" r="2.25" fill="none" stroke="#000" stroke-width="1.1"/>
<circle cx="134.3" cy="232.9" r="2.25" fill="none" stroke="#000" stroke-width="1.1"/>
<circle cx="134.3" cy="236.2" r="2.25" fill="none" stroke="#000" stroke-width="1.1"/>
<circle cx="140.3" cy="232.9" r="2.25" fill="none" stroke="#000" stroke-width="1.1"/>
<circle cx="144.4" cy="231.2" r="2.25" fill="none" stroke="#000" stroke-width="1.1"/>
<circle cx="146.4" cy="222.8" r="2.25" fill="none" stroke="#000" stroke-width="1.1"/>
<circle cx="142.3" cy="254.7" r="2.25" fill="none" stroke="#000" stroke-width="1.1"/>
<circle cx="128.2" cy="227.8" r="2.25" fill="none" stroke="#000" stroke-width="1.1"/>
<circle cx="126.2" cy="222.8" r="2.25" fill="none" stroke="#000" stroke-width="1.1"/>
<circle cx="118.2" cy="232.9" r="2.25" fill="none" stroke="#000" stroke-width="1.1"/>
<circle cx="134.3" cy="229.5" r="2.25" fill="none" stroke="#000" stroke-width="1.1"/>
<circle cx="154.4" cy="200.9" r="2.25" fill="none" stroke="#000" stroke-width="1.1"/>
<circle cx="154.4" cy="204.2" r="2.25" fill="none" stroke="#000" stroke-width="1.1"/>
<circle cx="172.6" cy="200.9" r="2.25" fill="none" stroke="#000" stroke-width="1.1"/>
<circle cx="162.5" cy="207.6" r="2.25" fill="none" stroke="#000" stroke-width="1.1"/>
<circle cx="162.5" cy="212.7" r="2.25" fill="none" stroke="#000" stroke-width="1.1"/>
<circle cx="174.6" cy="211.0" r="2.25" fill="none" stroke="#000" stroke-width="1.1"/>
<circle cx="172.6" cy="212.7" r="2.25" fill="none" stroke="#000" stroke-width="1.1"/>
<circle cx="178.6" cy="214.3" r="2.25" fill="none" stroke="#000" stroke-width="1.1"/>
<circle cx="182.7" cy="217.7" r="2.25" fill="none" stroke="#000" stroke-width="1.1"/>
<circle cx="148.4" cy="212.7" r="2.25" fill="none" stroke="#000" stroke-width="1.1"/>
<circle cx="152.4" cy="212.7" r="2.25" fill="none" stroke="#000" stroke-width="1.1"/>
<circle cx="156.5" cy="214.3" r="2.25" fill="none" stroke="#000" stroke-width="1.1"/>
<circle cx="150.4" cy="217.7" r="2.25" fill="none" stroke="#000" stroke-width="1.1"/>
<circle cx="156.5" cy="217.7" r="2.25" fill="none" stroke="#000" stroke-width="1.1"/>
<circle cx="160.5" cy="217.7" r="2.25" fill="none" stroke="#000" stroke-width="1.1"/>
<circle cx="164.5" cy="217.7" r="2.25" fill="none" stroke="#000" stroke-width="1.1"/>
<circle cx="174.6" cy="216.0" r="2.25" fill="none" stroke="#000" stroke-width="1.1"/>
<circle cx="176.6" cy="219.4" r="2.25" fill="none" stroke="#000" stroke-width="1.1"/>
<circle cx="180.6" cy="219.4" r="2.25" fill="none" stroke="#000" stroke-width="1.1"/>
<circle cx="184.7" cy="221.1" r="2.25" fill="none" stroke="#000" stroke-width="1.1"/>
<circle cx="190.7" cy="221.1" r="2.25" fill="none" stroke="#000" stroke-width="1.1"/>
<circle cx="152.4" cy="221.1" r="2.25" fill="none" stroke="#000" stroke-width="1.1"/>
<circle cx="160.5" cy="221.1" r="2.25" fill="none" stroke="#000" stroke-width="1.1"/>
<circle cx="162.5" cy="221.1" r="2.25" fill="none" stroke="#000" stroke-width="1.1"/>
<circle cx="170.6" cy="221.1" r="2.25" fill="none" stroke="#000" stroke-width="1.1"/>
<circle cx="172.6" cy="221.1" r="2.25" fill="none" stroke="#000" stroke-width="1.1"/>
<circle cx="222.9" cy="237.9" r="2.25" fill="none" stroke="#000" stroke-width="1.1"/>
<circle cx="222.9" cy="241.3" r="2.25" fill="none" stroke="#000" stroke-width="1.1"/>
<circle cx="216.9" cy="246.3" r="2.25" fill="none" stroke="#000" stroke-width="1.1"/>
<circle cx="222.9" cy="248.0" r="2.25" fill="none" stroke="#000" stroke-width="1.1"/>
<circle cx="225.0" cy="251.4" r="2.25" fill="none" stroke="#000" stroke-width="1.1"/>
<circle cx="233.0" cy="253.1" r="2.25" fill="none" stroke="#000" stroke-width="1.1"/>
<circle cx="222.9" cy="256.4" r="2.25" fill="none" stroke="#000" stroke-width="1.1"/>
<circle cx="229.0" cy="256.4" r="2.25" fill="none" stroke="#000" stroke-width="1.1"/>
<circle cx="152.4" cy="254.7" r="2.25" fill="none" stroke="#000" stroke-width="1.1"/>
<circle cx="148.4" cy="251.4" r="2.25" fill="none" stroke="#000" stroke-width="1.1"/>
<circle cx="212.9" cy="236.2" r="2.25" fill="none" stroke="#000" stroke-width="1.1"/>
<circle cx="212.9" cy="241.3" r="2.25" fill="none" stroke="#000" stroke-width="1.1"/>
<circle cx="202.8" cy="234.5" r="2.25" fill="none" stroke="#000" stroke-width="1.1"/>
<circle cx="198.8" cy="229.5" r="2.25" fill="none" stroke="#000" stroke-width="1.1"/>
<circle cx="194.7" cy="226.1" r="2.25" fill="none" stroke="#000" stroke-width="1.1"/>
<circle cx="152.4" cy="256.4" r="2.25" fill="none" stroke="#000" stroke-width="1.1"/>
<circle cx="166.5" cy="256.4" r="2.25" fill="none" stroke="#000" stroke-width="1.1"/>
<circle cx="172.6" cy="256.4" r="2.25" fill="none" stroke="#000" stroke-width="1.1"/>
<circle cx="166.5" cy="263.1" r="2.25" fill="none" stroke="#000" stroke-width="1.1"/>
<circle cx="176.6" cy="263.1" r="2.25" fill="none" stroke="#000" stroke-width="1.1"/>
<circle cx="176.6" cy="264.8" r="2.25" fill="none" stroke="#000" stroke-width="1.1"/>
<circle cx="180.6" cy="258.1" r="2.25" fill="none" stroke="#000" stroke-width="1.1"/>
<circle cx="186.7" cy="259.8" r="2.25" fill="none" stroke="#000" stroke-width="1.1"/>
<circle cx="186.7" cy="263.1" r="2.25" fill="none" stroke="#000" stroke-width="1.1"/>
<circle cx="186.7" cy="266.5" r="2.25" fill="none" stroke="#000" stroke-width="1.1"/>
<circle cx="190.7" cy="258.1" r="2.25" fill="none" stroke="#000" stroke-width="1.1"/>
<circle cx="192.7" cy="261.5" r="2.25" fill="none" stroke="#000" stroke-width="1.1"/>
<circle cx="192.7" cy="259.8" r="2.25" fill="none" stroke="#000" stroke-width="1.1"/>
<circle cx="186.7" cy="280.0" r="2.25" fill="none" stroke="#000" stroke-width="1.1"/>
<circle cx="196.8" cy="268.2" r="2.25" fill="none" stroke="#000" stroke-width="1.1"/>
<circle cx="196.8" cy="269.9" r="2.25" fill="none" stroke="#000" stroke-width="1.1"/>
<circle cx="192.7" cy="273.2" r="2.25" fill="none" stroke="#000" stroke-width="1.1"/>
<circle cx="200.8" cy="264.8" r="2.25" fill="none" stroke="#000" stroke-width="1.1"/>
<circle cx="202.8" cy="259.8" r="2.25" fill="none" stroke="#000" stroke-width="1.1"/>
<circle cx="206.8" cy="261.5" r="2.25" fill="none" stroke="#000" stroke-width="1.1"/>
<circle cx="210.9" cy="259.8" r="2.25" fill="none" stroke="#000" stroke-width="1.1"/>
<circle cx="200.8" cy="256.4" r="2.25" fill="none" stroke="#000" stroke-width="1.1"/>
<circle cx="204.8" cy="256.4" r="2.25" fill="none" stroke="#000" stroke-width="1.1"/>
<circle cx="216.9" cy="264.8" r="2.25" fill="none" stroke="#000" stroke-width="1.1"/>
<circle cx="222.9" cy="259.8" r="2.25" fill="none" stroke="#000" stroke-width="1.1"/>
<circle cx="222.9" cy="263.1" r="2.25" fill="none" stroke="#000" stroke-width="1.1"/>
<circle cx="225.0" cy="266.5" r="2.25" fill="none" stroke="#000" stroke-width="1.1"/>
<circle cx="222.9" cy="269.9" r="2.25" fill="none" stroke="#000" stroke-width="1.1"/>
<circle cx="222.9" cy="271.6" r="2.25" fill="none" stroke="#000" stroke-width="1.1"/>
<circle cx="222.9" cy="278.3" r="2.25" fill="none" stroke="#000" stroke-width="1.1"/>
<circle cx="225.0" cy="263.1" r="2.25" fill="none" stroke="#000" stroke-width="1.1"/>
<circle cx="235.0" cy="269.9" r="2.25" fill="none" stroke="#000" stroke-width="1.1"/>
<circle cx="220.9" cy="256.4" r="2.25" fill="none" stroke="#000" stroke-width="1.1"/>
<circle cx="225.0" cy="256.4" r="2.25" fill="none" stroke="#000" stroke-width="1.1"/>
<circle cx="71.8" cy="212.7" r="2.25" fill="none" stroke="#000" stroke-width="1.1"/>
<circle cx="71.8" cy="227.8" r="2.25" fill="none" stroke="#000" stroke-width="1.1"/>
<circle cx="71.8" cy="242.9" r="2.25" fill="none" stroke="#000" stroke-width="1.1"/>
<circle cx="73.8" cy="216.0" r="2.25" fill="none" stroke="#000" stroke-width="1.1"/>
<circle cx="75.9" cy="212.7" r="2.25" fill="none" stroke="#000" stroke-width="1.1"/>
<circle cx="75.9" cy="229.5" r="2.25" fill="none" stroke="#000" stroke-width="1.1"/>
<circle cx="75.9" cy="242.9" r="2.25" fill="none" stroke="#000" stroke-width="1.1"/>
<circle cx="77.9" cy="216.0" r="2.25" fill="none" stroke="#000" stroke-width="1.1"/>
<circle cx="77.9" cy="241.3" r="2.25" fill="none" stroke="#000" stroke-width="1.1"/>
<circle cx="79.9" cy="199.2" r="2.25" fill="none" stroke="#000" stroke-width="1.1"/>
<circle cx="79.9" cy="224.4" r="2.25" fill="none" stroke="#000" stroke-width="1.1"/>
<circle cx="81.9" cy="207.6" r="2.25" fill="none" stroke="#000" stroke-width="1.1"/>
<circle cx="81.9" cy="231.2" r="2.25" fill="none" stroke="#000" stroke-width="1.1"/>
<circle cx="83.9" cy="202.6" r="2.25" fill="none" stroke="#000" stroke-width="1.1"/>
<circle cx="83.9" cy="219.4" r="2.25" fill="none" stroke="#000" stroke-width="1.1"/>
<circle cx="83.9" cy="232.9" r="2.25" fill="none" stroke="#000" stroke-width="1.1"/>
<circle cx="85.9" cy="202.6" r="2.25" fill="none" stroke="#000" stroke-width="1.1"/>
<circle cx="85.9" cy="217.7" r="2.25" fill="none" stroke="#000" stroke-width="1.1"/>
<circle cx="85.9" cy="232.9" r="2.25" fill="none" stroke="#000" stroke-width="1.1"/>
<circle cx="88.0" cy="212.7" r="2.25" fill="none" stroke="#000" stroke-width="1.1"/>
<circle cx="88.0" cy="234.5" r="2.25" fill="none" stroke="#000" stroke-width="1.1"/>
<circle cx="73.8" cy="217.7" r="2.25" fill="none" stroke="#000" stroke-width="1.1"/>
<circle cx="75.9" cy="217.7" r="2.25" fill="none" stroke="#000" stroke-width="1.1"/>
<circle cx="79.9" cy="216.0" r="2.25" fill="none" stroke="#000" stroke-width="1.1"/>
<circle cx="81.9" cy="224.4" r="2.25" fill="none" stroke="#000" stroke-width="1.1"/>
<circle cx="140.3" cy="221.1" r="2.25" fill="none" stroke="#000" stroke-width="1.1"/>
<circle cx="140.3" cy="234.5" r="2.25" fill="none" stroke="#000" stroke-width="1.1"/>
<circle cx="142.3" cy="229.5" r="2.25" fill="none" stroke="#000" stroke-width="1.1"/>
<circle cx="142.3" cy="242.9" r="2.25" fill="none" stroke="#000" stroke-width="1.1"/>
<circle cx="144.4" cy="224.4" r="2.25" fill="none" stroke="#000" stroke-width="1.1"/>
<circle cx="144.4" cy="236.2" r="2.25" fill="none" stroke="#000" stroke-width="1.1"/>
<circle cx="144.4" cy="244.6" r="2.25" fill="none" stroke="#000" stroke-width="1.1"/>
<circle cx="146.4" cy="231.2" r="2.25" fill="none" stroke="#000" stroke-width="1.1"/>
<circle cx="146.4" cy="239.6" r="2.25" fill="none" stroke="#000" stroke-width="1.1"/>
<circle cx="146.4" cy="251.4" r="2.25" fill="none" stroke="#000" stroke-width="1.1"/>
<circle cx="148.4" cy="217.7" r="2.25" fill="none" stroke="#000" stroke-width="1.1"/>
<circle cx="148.4" cy="229.5" r="2.25" fill="none" stroke="#000" stroke-width="1.1"/>
<circle cx="148.4" cy="241.3" r="2.25" fill="none" stroke="#000" stroke-width="1.1"/>
<circle cx="150.4" cy="227.8" r="2.25" fill="none" stroke="#000" stroke-width="1.1"/>
<circle cx="150.4" cy="239.6" r="2.25" fill="none" stroke="#000" stroke-width="1.1"/>
<circle cx="150.4" cy="251.4" r="2.25" fill="none" stroke="#000" stroke-width="1.1"/>
<circle cx="152.4" cy="219.4" r="2.25" fill="none" stroke="#000" stroke-width="1.1"/>
<circle cx="152.4" cy="229.5" r="2.25" fill="none" stroke="#000" stroke-width="1.1"/>
<circle cx="152.4" cy="239.6" r="2.25" fill="none" stroke="#000" stroke-width="1.1"/>
<circle cx="152.4" cy="248.0" r="2.25" fill="none" stroke="#000" stroke-width="1.1"/>
<circle cx="154.4" cy="226.1" r="2.25" fill="none" stroke="#000" stroke-width="1.1"/>
<circle cx="154.4" cy="236.2" r="2.25" fill="none" stroke="#000" stroke-width="1.1"/>
<circle cx="154.4" cy="246.3" r="2.25" fill="none" stroke="#000" stroke-width="1.1"/>
<circle cx="154.4" cy="254.7" r="2.25" fill="none" stroke="#000" stroke-width="1.1"/>
<circle cx="156.5" cy="222.8" r="2.25" fill="none" stroke="#000" stroke-width="1.1"/>
<circle cx="156.5" cy="236.2" r="2.25" fill="none" stroke="#000" stroke-width="1.1"/>
<circle cx="156.5" cy="248.0" r="2.25" fill="none" stroke="#000" stroke-width="1.1"/>
<circle cx="158.5" cy="226.1" r="2.25" fill="none" stroke="#000" stroke-width="1.1"/>
<circle cx="158.5" cy="239.6" r="2.25" fill="none" stroke="#000" stroke-width="1.1"/>
<circle cx="158.5" cy="254.7" r="2.25" fill="none" stroke="#000" stroke-width="1.1"/>
<circle cx="160.5" cy="224.4" r="2.25" fill="none" stroke="#000" stroke-width="1.1"/>
<circle cx="160.5" cy="237.9" r="2.25" fill="none" stroke="#000" stroke-width="1.1"/>
<circle cx="160.5" cy="251.4" r="2.25" fill="none" stroke="#000" stroke-width="1.1"/>
<circle cx="162.5" cy="222.8" r="2.25" fill="none" stroke="#000" stroke-width="1.1"/>
<circle cx="162.5" cy="237.9" r="2.25" fill="none" stroke="#000" stroke-width="1.1"/>
<circle cx="162.5" cy="251.4" r="2.25" fill="none" stroke="#000" stroke-width="1.1"/>
<circle cx="164.5" cy="219.4" r="2.25" fill="none" stroke="#000" stroke-width="1.1"/>
<circle cx="164.5" cy="229.5" r="2.25" fill="none" stroke="#000" stroke-width="1.1"/>
<circle cx="164.5" cy="239.6" r="2.25" fill="none" stroke="#000" stroke-width="1.1"/>
<circle cx="164.5" cy="251.4" r="2.25" fill="none" stroke="#000" stroke-width="1.1"/>
<circle cx="166.5" cy="226.1" r="2.25" fill="none" stroke="#000" stroke-width="1.1"/>
<circle cx="166.5" cy="237.9" r="2.25" fill="none" stroke="#000" stroke-width="1.1"/>
<circle cx="166.5" cy="248.0" r="2.25" fill="none" stroke="#000" stroke-width="1.1"/>
<circle cx="166.5" cy="258.1" r="2.25" fill="none" stroke="#000" stroke-width="1.1"/>
<circle cx="168.6" cy="222.8" r="2.25" fill="none" stroke="#000" stroke-width="1.1"/>
<circle cx="168.6" cy="234.5" r="2.25" fill="none" stroke="#000" stroke-width="1.1"/>
<circle cx="168.6" cy="244.6" r="2.25" fill="none" stroke="#000" stroke-width="1.1"/>
<circle cx="168.6" cy="256.4" r="2.25" fill="none" stroke="#000" stroke-width="1.1"/>
<circle cx="170.6" cy="222.8" r="2.25" fill="none" stroke="#000" stroke-width="1.1"/>
<circle cx="170.6" cy="234.5" r="2.25" fill="none" stroke="#000" stroke-width="1.1"/>
<circle cx="170.6" cy="244.6" r="2.25" fill="none" stroke="#000" stroke-width="1.1"/>
<circle cx="170.6" cy="256.4" r="2.25" fill="none" stroke="#000" stroke-width="1.1"/>
<circle cx="172.6" cy="224.4" r="2.25" fill="none" stroke="#000" stroke-width="1.1"/>
<circle cx="172.6" cy="236.2" r="2.25" fill="none" stroke="#000" stroke-width="1.1"/>
<circle cx="172.6" cy="246.3" r="2.25" fill="none" stroke="#000" stroke-width="1.1"/>
<circle cx="174.6" cy="217.7" r="2.25" fill="none" stroke="#000" stroke-width="1.1"/>
<circle cx="174.6" cy="229.5" r="2.25" fill="none" stroke="#000" stroke-width="1.1"/>
<circle cx="174.6" cy="239.6" r="2.25" fill="none" stroke="#000" stroke-width="1.1"/>
<circle cx="174.6" cy="249.7" r="2.25" fill="none" stroke="#000" stroke-width="1.1"/>
<circle cx="176.6" cy="222.8" r="2.25" fill="none" stroke="#000" stroke-width="1.1"/>
<circle cx="176.6" cy="232.9" r="2.25" fill="none" stroke="#000" stroke-width="1.1"/>
<circle cx="176.6" cy="244.6" r="2.25" fill="none" stroke="#000" stroke-width="1.1"/>
<circle cx="176.6" cy="254.7" r="2.25" fill="none" stroke="#000" stroke-width="1.1"/>
<circle cx="178.6" cy="221.1" r="2.25" fill="none" stroke="#000" stroke-width="1.1"/>
<circle cx="178.6" cy="229.5" r="2.25" fill="none" stroke="#000" stroke-width="1.1"/>
<circle cx="178.6" cy="241.3" r="2.25" fill="none" stroke="#000" stroke-width="1.1"/>
<circle cx="178.6" cy="251.4" r="2.25" fill="none" stroke="#000" stroke-width="1.1"/>
<circle cx="180.6" cy="227.8" r="2.25" fill="none" stroke="#000" stroke-width="1.1"/>
<circle cx="180.6" cy="237.9" r="2.25" fill="none" stroke="#000" stroke-width="1.1"/>
<circle cx="180.6" cy="249.7" r="2.25" fill="none" stroke="#000" stroke-width="1.1"/>
<circle cx="180.6" cy="259.8" r="2.25" fill="none" stroke="#000" stroke-width="1.1"/>
<circle cx="182.7" cy="229.5" r="2.25" fill="none" stroke="#000" stroke-width="1.1"/>
<circle cx="182.7" cy="239.6" r="2.25" fill="none" stroke="#000" stroke-width="1.1"/>
<circle cx="182.7" cy="251.4" r="2.25" fill="none" stroke="#000" stroke-width="1.1"/>
<circle cx="182.7" cy="261.5" r="2.25" fill="none" stroke="#000" stroke-width="1.1"/>
<circle cx="184.7" cy="234.5" r="2.25" fill="none" stroke="#000" stroke-width="1.1"/>
<circle cx="184.7" cy="249.7" r="2.25" fill="none" stroke="#000" stroke-width="1.1"/>
<circle cx="186.7" cy="232.9" r="2.25" fill="none" stroke="#000" stroke-width="1.1"/>
<circle cx="186.7" cy="244.6" r="2.25" fill="none" stroke="#000" stroke-width="1.1"/>
<circle cx="186.7" cy="258.1" r="2.25" fill="none" stroke="#000" stroke-width="1.1"/>
<circle cx="188.7" cy="227.8" r="2.25" fill="none" stroke="#000" stroke-width="1.1"/>
<circle cx="188.7" cy="241.3" r="2.25" fill="none" stroke="#000" stroke-width="1.1"/>
<circle cx="188.7" cy="254.7" r="2.25" fill="none" stroke="#000" stroke-width="1.1"/>
<circle cx="190.7" cy="229.5" r="2.25" fill="none" stroke="#000" stroke-width="1.1"/>
<circle cx="190.7" cy="236.2" r="2.25" fill="none" stroke="#000" stroke-width="1.1"/>
<circle cx="190.7" cy="246.3" r="2.25" fill="none" stroke="#000" stroke-width="1.1"/>
<circle cx="190.7" cy="256.4" r="2.25" fill="none" stroke="#000" stroke-width="1.1"/>
<circle cx="192.7" cy="227.8" r="2.25" fill="none" stroke="#000" stroke-width="1.1"/>
<circle cx="192.7" cy="237.9" r="2.25" fill="none" stroke="#000" stroke-width="1.1"/>
<circle cx="192.7" cy="251.4" r="2.25" fill="none" stroke="#000" stroke-width="1.1"/>
<circle cx="194.7" cy="237.9" r="2.25" fill="none" stroke="#000" stroke-width="1.1"/>
<circle cx="194.7" cy="248.0" r="2.25" fill="none" stroke="#000" stroke-width="1.1"/>
<circle cx="196.8" cy="227.8" r="2.25" fill="none" stroke="#000" stroke-width="1.1"/>
<circle cx="196.8" cy="241.3" r="2.25" fill="none" stroke="#000" stroke-width="1.1"/>
<circle cx="196.8" cy="251.4" r="2.25" fill="none" stroke="#000" stroke-width="1.1"/>
<circle cx="198.8" cy="244.6" r="2.25" fill="none" stroke="#000" stroke-width="1.1"/>
<circle cx="198.8" cy="258.1" r="2.25" fill="none" stroke="#000" stroke-width="1.1"/>
<circle cx="200.8" cy="232.9" r="2.25" fill="none" stroke="#000" stroke-width="1.1"/>
<circle cx="200.8" cy="242.9" r="2.25" fill="none" stroke="#000" stroke-width="1.1"/>
<circle cx="200.8" cy="253.1" r="2.25" fill="none" stroke="#000" stroke-width="1.1"/>
<circle cx="202.8" cy="249.7" r="2.25" fill="none" stroke="#000" stroke-width="1.1"/>
<circle cx="204.8" cy="231.2" r="2.25" fill="none" stroke="#000" stroke-width="1.1"/>
<circle cx="204.8" cy="239.6" r="2.25" fill="none" stroke="#000" stroke-width="1.1"/>
<circle cx="204.8" cy="249.7" r="2.25" fill="none" stroke="#000" stroke-width="1.1"/>
<circle cx="206.8" cy="232.9" r="2.25" fill="none" stroke="#000" stroke-width="1.1"/>
<circle cx="206.8" cy="244.6" r="2.25" fill="none" stroke="#000" stroke-width="1.1"/>
<circle cx="208.8" cy="237.9" r="2.25" fill="none" stroke="#000" stroke-width="1.1"/>
<circle cx="208.8" cy="248.0" r="2.25" fill="none" stroke="#000" stroke-width="1.1"/>
<circle cx="210.9" cy="237.9" r="2.25" fill="none" stroke="#000" stroke-width="1.1"/>
<circle cx="212.9" cy="244.6" r="2.25" fill="none" stroke="#000" stroke-width="1.1"/>
<circle cx="146.4" cy="227.8" r="2.25" fill="none" stroke="#000" stroke-width="1.1"/>
<circle cx="146.4" cy="236.2" r="2.25" fill="none" stroke="#000" stroke-width="1.1"/>
<circle cx="148.4" cy="224.4" r="2.25" fill="none" stroke="#000" stroke-width="1.1"/>
<circle cx="148.4" cy="234.5" r="2.25" fill="none" stroke="#000" stroke-width="1.1"/>
<circle cx="150.4" cy="231.2" r="2.25" fill="none" stroke="#000" stroke-width="1.1"/>
<circle cx="150.4" cy="237.9" r="2.25" fill="none" stroke="#000" stroke-width="1.1"/>
<circle cx="152.4" cy="231.2" r="2.25" fill="none" stroke="#000" stroke-width="1.1"/>
<circle cx="154.4" cy="231.2" r="2.25" fill="none" stroke="#000" stroke-width="1.1"/>
<circle cx="154.4" cy="239.6" r="2.25" fill="none" stroke="#000" stroke-width="1.1"/>
<circle cx="156.5" cy="231.2" r="2.25" fill="none" stroke="#000" stroke-width="1.1"/>
<circle cx="156.5" cy="241.3" r="2.25" fill="none" stroke="#000" stroke-width="1.1"/>
<circle cx="158.5" cy="231.2" r="2.25" fill="none" stroke="#000" stroke-width="1.1"/>
<circle cx="158.5" cy="241.3" r="2.25" fill="none" stroke="#000" stroke-width="1.1"/>
<circle cx="160.5" cy="236.2" r="2.25" fill="none" stroke="#000" stroke-width="1.1"/>
<circle cx="160.5" cy="246.3" r="2.25" fill="none" stroke="#000" stroke-width="1.1"/>
<circle cx="162.5" cy="234.5" r="2.25" fill="none" stroke="#000" stroke-width="1.1"/>
<circle cx="162.5" cy="239.6" r="2.25" fill="none" stroke="#000" stroke-width="1.1"/>
<circle cx="162.5" cy="246.3" r="2.25" fill="none" stroke="#000" stroke-width="1.1"/>
<circle cx="164.5" cy="234.5" r="2.25" fill="none" stroke="#000" stroke-width="1.1"/>
<circle cx="164.5" cy="241.3" r="2.25" fill="none" stroke="#000" stroke-width="1.1"/>
<circle cx="164.5" cy="246.3" r="2.25" fill="none" stroke="#000" stroke-width="1.1"/>
<circle cx="166.5" cy="231.2" r="2.25" fill="none" stroke="#000" stroke-width="1.1"/>
<circle cx="166.5" cy="244.6" r="2.25" fill="none" stroke="#000" stroke-width="1.1"/>
<circle cx="168.6" cy="237.9" r="2.25" fill="none" stroke="#000" stroke-width="1.1"/>
<circle cx="168.6" cy="246.3" r="2.25" fill="none" stroke="#000" stroke-width="1.1"/>
<circle cx="170.6" cy="236.2" r="2.25" fill="none" stroke="#000" stroke-width="1.1"/>
<circle cx="170.6" cy="248.0" r="2.25" fill="none" stroke="#000" stroke-width="1.1"/>
<circle cx="172.6" cy="239.6" r="2.25" fill="none" stroke="#000" stroke-width="1.1"/>
<circle cx="172.6" cy="249.7" r="2.25" fill="none" stroke="#000" stroke-width="1.1"/>
<circle cx="174.6" cy="236.2" r="2.25" fill="none" stroke="#000" stroke-width="1.1"/>
<circle cx="174.6" cy="242.9" r="2.25" fill="none" stroke="#000" stroke-width="1.1"/>
<circle cx="176.6" cy="241.3" r="2.25" fill="none" stroke="#000" stroke-width="1.1"/>
<circle cx="176.6" cy="251.4" r="2.25" fill="none" stroke="#000" stroke-width="1.1"/>
<circle cx="178.6" cy="232.9" r="2.25" fill="none" stroke="#000" stroke-width="1.1"/>
<circle cx="178.6" cy="246.3" r="2.25" fill="none" stroke="#000" stroke-width="1.1"/>
<circle cx="180.6" cy="236.2" r="2.25" fill="none" stroke="#000" stroke-width="1.1"/>
<circle cx="180.6" cy="244.6" r="2.25" fill="none" stroke="#000" stroke-width="1.1"/>
<circle cx="182.7" cy="242.9" r="2.25" fill="none" stroke="#000" stroke-width="1.1"/>
<circle cx="182.7" cy="253.1" r="2.25" fill="none" stroke="#000" stroke-width="1.1"/>
<circle cx="184.7" cy="236.2" r="2.25" fill="none" stroke="#000" stroke-width="1.1"/>
<circle cx="184.7" cy="239.6" r="2.25" fill="none" stroke="#000" stroke-width="1.1"/>
<circle cx="184.7" cy="246.3" r="2.25" fill="none" stroke="#000" stroke-width="1.1"/>
<circle cx="186.7" cy="237.9" r="2.25" fill="none" stroke="#000" stroke-width="1.1"/>
<circle cx="186.7" cy="251.4" r="2.25" fill="none" stroke="#000" stroke-width="1.1"/>
<circle cx="188.7" cy="242.9" r="2.25" fill="none" stroke="#000" stroke-width="1.1"/>
<circle cx="188.7" cy="248.0" r="2.25" fill="none" stroke="#000" stroke-width="1.1"/>
<circle cx="188.7" cy="253.1" r="2.25" fill="none" stroke="#000" stroke-width="1.1"/>
<circle cx="190.7" cy="242.9" r="2.25" fill="none" stroke="#000" stroke-width="1.1"/>
<circle cx="190.7" cy="251.4" r="2.25" fill="none" stroke="#000" stroke-width="1.1"/>
<circle cx="192.7" cy="244.6" r="2.25" fill="none" stroke="#000" stroke-width="1.1"/>
<circle cx="192.7" cy="253.1" r="2.25" fill="none" stroke="#000" stroke-width="1.1"/>
<circle cx="194.7" cy="239.6" r="2.25" fill="none" stroke="#000" stroke-width="1.1"/>
<circle cx="194.7" cy="249.7" r="2.25" fill="none" stroke="#000" stroke-width="1.1"/>
<circle cx="196.8" cy="242.9" r="2.25" fill="none" stroke="#000" stroke-width="1.1"/>
<circle cx="198.8" cy="239.6" r="2.25" fill="none" stroke="#000" stroke-width="1.1"/>
<circle cx="198.8" cy="248.0" r="2.25" fill="none" stroke="#000" stroke-width="1.1"/>
<circle cx="200.8" cy="249.7" r="2.25" fill="none" stroke="#000" stroke-width="1.1"/>
<circle cx="202.8" cy="244.6" r="2.25" fill="none" stroke="#000" stroke-width="1.1"/>
<circle cx="202.8" cy="253.1" r="2.25" fill="none" stroke="#000" stroke-width="1.1"/>
<circle cx="204.8" cy="248.0" r="2.25" fill="none" stroke="#000" stroke-width="1.1"/>
<circle cx="206.8" cy="251.4" r="2.25" fill="none" stroke="#000" stroke-width="1.1"/>
<circle cx="341.6" cy="178.5" r="2.25" fill="none" stroke="#000" stroke-width="1.1"/>
<circle cx="347.6" cy="180.1" r="2.25" fill="none" stroke="#000" stroke-width="1.1"/>
<circle cx="341.6" cy="192.5" r="2.25" fill="none" stroke="#000" stroke-width="1.1"/>
<circle cx="335.2" cy="195.9" r="2.25" fill="none" stroke="#000" stroke-width="1.1"/>
<circle cx="345.4" cy="195.2" r="2.25" fill="none" stroke="#000" stroke-width="1.1"/>
<circle cx="335.2" cy="199.0" r="2.25" fill="none" stroke="#000" stroke-width="1.1"/>
<circle cx="340.9" cy="197.8" r="2.25" fill="none" stroke="#000" stroke-width="1.1"/>
<circle cx="353.0" cy="198.0" r="2.25" fill="none" stroke="#000" stroke-width="1.1"/>
<circle cx="351.1" cy="200.3" r="2.25" fill="none" stroke="#000" stroke-width="1.1"/>
<circle cx="337.1" cy="202.2" r="2.25" fill="none" stroke="#000" stroke-width="1.1"/>
<circle cx="341.6" cy="201.6" r="2.25" fill="none" stroke="#000" stroke-width="1.1"/>
<circle cx="346.6" cy="202.2" r="2.25" fill="none" stroke="#000" stroke-width="1.1"/>
<circle cx="351.7" cy="203.8" r="2.25" fill="none" stroke="#000" stroke-width="1.1"/>
<circle cx="341.6" cy="205.4" r="2.25" fill="none" stroke="#000" stroke-width="1.1"/>
<circle cx="337.8" cy="207.3" r="2.25" fill="none" stroke="#000" stroke-width="1.1"/>
<circle cx="345.4" cy="207.9" r="2.25" fill="none" stroke="#000" stroke-width="1.1"/>
<circle cx="341.6" cy="211.7" r="2.25" fill="none" stroke="#000" stroke-width="1.1"/>
<circle cx="335.9" cy="211.7" r="2.25" fill="none" stroke="#000" stroke-width="1.1"/>
<circle cx="347.9" cy="210.4" r="2.25" fill="none" stroke="#000" stroke-width="1.1"/>
<circle cx="353.6" cy="213.0" r="2.25" fill="none" stroke="#000" stroke-width="1.1"/>
<circle cx="359.3" cy="213.0" r="2.25" fill="none" stroke="#000" stroke-width="1.1"/>
<circle cx="363.1" cy="213.0" r="2.25" fill="none" stroke="#000" stroke-width="1.1"/>
<circle cx="368.1" cy="202.6" r="2.25" fill="none" stroke="#000" stroke-width="1.1"/>
<circle cx="373.4" cy="202.6" r="2.25" fill="none" stroke="#000" stroke-width="1.1"/>
<circle cx="366.2" cy="206.6" r="2.25" fill="none" stroke="#000" stroke-width="1.1"/>
<circle cx="373.8" cy="209.8" r="2.25" fill="none" stroke="#000" stroke-width="1.1"/>
<circle cx="381.4" cy="208.5" r="2.25" fill="none" stroke="#000" stroke-width="1.1"/>
<circle cx="379.5" cy="212.3" r="2.25" fill="none" stroke="#000" stroke-width="1.1"/>
<circle cx="385.8" cy="211.7" r="2.25" fill="none" stroke="#000" stroke-width="1.1"/>
<circle cx="383.3" cy="213.0" r="2.25" fill="none" stroke="#000" stroke-width="1.1"/>
<circle cx="397.2" cy="211.7" r="2.25" fill="none" stroke="#000" stroke-width="1.1"/>
<circle cx="401.0" cy="212.3" r="2.25" fill="none" stroke="#000" stroke-width="1.1"/>
<circle cx="403.6" cy="212.3" r="2.25" fill="none" stroke="#000" stroke-width="1.1"/>
<circle cx="409.9" cy="206.0" r="2.25" fill="none" stroke="#000" stroke-width="1.1"/>
<circle cx="335.9" cy="215.5" r="2.25" fill="none" stroke="#000" stroke-width="1.1"/>
<circle cx="340.3" cy="215.5" r="2.25" fill="none" stroke="#000" stroke-width="1.1"/>
<circle cx="345.4" cy="215.5" r="2.25" fill="none" stroke="#000" stroke-width="1.1"/>
<circle cx="349.2" cy="215.5" r="2.25" fill="none" stroke="#000" stroke-width="1.1"/>
<circle cx="371.9" cy="215.5" r="2.25" fill="none" stroke="#000" stroke-width="1.1"/>
<circle cx="375.7" cy="215.5" r="2.25" fill="none" stroke="#000" stroke-width="1.1"/>
<circle cx="388.4" cy="215.5" r="2.25" fill="none" stroke="#000" stroke-width="1.1"/>
<circle cx="393.4" cy="215.5" r="2.25" fill="none" stroke="#000" stroke-width="1.1"/>
<circle cx="408.6" cy="215.5" r="2.25" fill="none" stroke="#000" stroke-width="1.1"/>
<circle cx="335.2" cy="214.3" r="2.25" fill="none" stroke="#000" stroke-width="1.1"/>
<circle cx="335.2" cy="218.1" r="2.25" fill="none" stroke="#000" stroke-width="1.1"/>
<circle cx="335.2" cy="225.7" r="2.25" fill="none" stroke="#000" stroke-width="1.1"/>
<circle cx="335.2" cy="228.8" r="2.25" fill="none" stroke="#000" stroke-width="1.1"/>
<circle cx="337.8" cy="233.9" r="2.25" fill="none" stroke="#000" stroke-width="1.1"/>
<circle cx="341.6" cy="214.9" r="2.25" fill="none" stroke="#000" stroke-width="1.1"/>
<circle cx="341.6" cy="219.3" r="2.25" fill="none" stroke="#000" stroke-width="1.1"/>
<circle cx="340.3" cy="225.0" r="2.25" fill="none" stroke="#000" stroke-width="1.1"/>
<circle cx="341.6" cy="229.4" r="2.25" fill="none" stroke="#000" stroke-width="1.1"/>
<circle cx="341.6" cy="233.2" r="2.25" fill="none" stroke="#000" stroke-width="1.1"/>
<circle cx="341.6" cy="236.4" r="2.25" fill="none" stroke="#000" stroke-width="1.1"/>
<circle cx="341.6" cy="239.6" r="2.25" fill="none" stroke="#000" stroke-width="1.1"/>
<circle cx="341.6" cy="242.7" r="2.25" fill="none" stroke="#000" stroke-width="1.1"/>
<circle cx="337.8" cy="244.6" r="2.25" fill="none" stroke="#000" stroke-width="1.1"/>
<circle cx="345.4" cy="215.5" r="2.25" fill="none" stroke="#000" stroke-width="1.1"/>
<circle cx="345.4" cy="220.6" r="2.25" fill="none" stroke="#000" stroke-width="1.1"/>
<circle cx="345.4" cy="225.7" r="2.25" fill="none" stroke="#000" stroke-width="1.1"/>
<circle cx="346.0" cy="230.7" r="2.25" fill="none" stroke="#000" stroke-width="1.1"/>
<circle cx="345.4" cy="237.0" r="2.25" fill="none" stroke="#000" stroke-width="1.1"/>
<circle cx="349.2" cy="215.5" r="2.25" fill="none" stroke="#000" stroke-width="1.1"/>
<circle cx="349.2" cy="220.0" r="2.25" fill="none" stroke="#000" stroke-width="1.1"/>
<circle cx="348.5" cy="226.9" r="2.25" fill="none" stroke="#000" stroke-width="1.1"/>
<circle cx="349.8" cy="232.0" r="2.25" fill="none" stroke="#000" stroke-width="1.1"/>
<circle cx="349.2" cy="239.6" r="2.25" fill="none" stroke="#000" stroke-width="1.1"/>
<circle cx="352.3" cy="225.7" r="2.25" fill="none" stroke="#000" stroke-width="1.1"/>
<circle cx="351.7" cy="235.1" r="2.25" fill="none" stroke="#000" stroke-width="1.1"/>
<circle cx="353.0" cy="218.1" r="2.25" fill="none" stroke="#000" stroke-width="1.1"/>
<circle cx="357.4" cy="224.4" r="2.25" fill="none" stroke="#000" stroke-width="1.1"/>
<circle cx="357.4" cy="230.1" r="2.25" fill="none" stroke="#000" stroke-width="1.1"/>
<circle cx="357.4" cy="238.9" r="2.25" fill="none" stroke="#000" stroke-width="1.1"/>
<circle cx="359.3" cy="219.3" r="2.25" fill="none" stroke="#000" stroke-width="1.1"/>
<circle cx="363.7" cy="214.3" r="2.25" fill="none" stroke="#000" stroke-width="1.1"/>
<circle cx="363.7" cy="219.3" r="2.25" fill="none" stroke="#000" stroke-width="1.1"/>
<circle cx="365.6" cy="224.4" r="2.25" fill="none" stroke="#000" stroke-width="1.1"/>
<circle cx="362.4" cy="229.4" r="2.25" fill="none" stroke="#000" stroke-width="1.1"/>
<circle cx="365.6" cy="229.4" r="2.25" fill="none" stroke="#000" stroke-width="1.1"/>
<circle cx="367.5" cy="237.0" r="2.25" fill="none" stroke="#000" stroke-width="1.1"/>
<circle cx="370.7" cy="226.9" r="2.25" fill="none" stroke="#000" stroke-width="1.1"/>
<circle cx="373.8" cy="227.5" r="2.25" fill="none" stroke="#000" stroke-width="1.1"/>
<circle cx="369.4" cy="231.3" r="2.25" fill="none" stroke="#000" stroke-width="1.1"/>
<circle cx="369.4" cy="219.3" r="2.25" fill="none" stroke="#000" stroke-width="1.1"/>
<circle cx="373.2" cy="216.8" r="2.25" fill="none" stroke="#000" stroke-width="1.1"/>
<circle cx="375.7" cy="217.4" r="2.25" fill="none" stroke="#000" stroke-width="1.1"/>
<circle cx="379.5" cy="214.3" r="2.25" fill="none" stroke="#000" stroke-width="1.1"/>
<circle cx="382.0" cy="219.3" r="2.25" fill="none" stroke="#000" stroke-width="1.1"/>
<circle cx="385.8" cy="218.1" r="2.25" fill="none" stroke="#000" stroke-width="1.1"/>
<circle cx="385.2" cy="224.4" r="2.25" fill="none" stroke="#000" stroke-width="1.1"/>
<circle cx="381.4" cy="227.5" r="2.25" fill="none" stroke="#000" stroke-width="1.1"/>
<circle cx="385.8" cy="228.2" r="2.25" fill="none" stroke="#000" stroke-width="1.1"/>
<circle cx="389.6" cy="230.7" r="2.25" fill="none" stroke="#000" stroke-width="1.1"/>
<circle cx="387.1" cy="232.0" r="2.25" fill="none" stroke="#000" stroke-width="1.1"/>
<circle cx="385.8" cy="235.8" r="2.25" fill="none" stroke="#000" stroke-width="1.1"/>
<circle cx="383.9" cy="239.6" r="2.25" fill="none" stroke="#000" stroke-width="1.1"/>
<circle cx="381.4" cy="240.2" r="2.25" fill="none" stroke="#000" stroke-width="1.1"/>
<circle cx="387.7" cy="244.6" r="2.25" fill="none" stroke="#000" stroke-width="1.1"/>
<circle cx="380.8" cy="247.2" r="2.25" fill="none" stroke="#000" stroke-width="1.1"/>
<circle cx="383.3" cy="249.7" r="2.25" fill="none" stroke="#000" stroke-width="1.1"/>
<circle cx="373.8" cy="249.1" r="2.25" fill="none" stroke="#000" stroke-width="1.1"/>
<circle cx="393.4" cy="238.9" r="2.25" fill="none" stroke="#000" stroke-width="1.1"/>
<circle cx="393.4" cy="247.2" r="2.25" fill="none" stroke="#000" stroke-width="1.1"/>
<circle cx="396.6" cy="248.4" r="2.25" fill="none" stroke="#000" stroke-width="1.1"/>
<circle cx="397.9" cy="232.6" r="2.25" fill="none" stroke="#000" stroke-width="1.1"/>
<circle cx="398.5" cy="226.3" r="2.25" fill="none" stroke="#000" stroke-width="1.1"/>
<circle cx="402.3" cy="229.4" r="2.25" fill="none" stroke="#000" stroke-width="1.1"/>
<circle cx="406.1" cy="229.4" r="2.25" fill="none" stroke="#000" stroke-width="1.1"/>
<circle cx="396.0" cy="219.3" r="2.25" fill="none" stroke="#000" stroke-width="1.1"/>
<circle cx="399.8" cy="216.8" r="2.25" fill="none" stroke="#000" stroke-width="1.1"/>
<circle cx="403.6" cy="215.5" r="2.25" fill="none" stroke="#000" stroke-width="1.1"/>
<circle cx="403.6" cy="220.6" r="2.25" fill="none" stroke="#000" stroke-width="1.1"/>
<circle cx="408.6" cy="215.5" r="2.25" fill="none" stroke="#000" stroke-width="1.1"/>
<circle cx="411.1" cy="219.3" r="2.25" fill="none" stroke="#000" stroke-width="1.1"/>
<circle cx="409.2" cy="225.7" r="2.25" fill="none" stroke="#000" stroke-width="1.1"/>
<circle cx="411.1" cy="232.0" r="2.25" fill="none" stroke="#000" stroke-width="1.1"/>
<circle cx="409.2" cy="235.1" r="2.25" fill="none" stroke="#000" stroke-width="1.1"/>
<circle cx="406.1" cy="249.1" r="2.25" fill="none" stroke="#000" stroke-width="1.1"/>
<circle cx="411.1" cy="246.5" r="2.25" fill="none" stroke="#000" stroke-width="1.1"/>
<circle cx="390.9" cy="214.9" r="2.25" fill="none" stroke="#000" stroke-width="1.1"/>
<circle cx="396.0" cy="214.3" r="2.25" fill="none" stroke="#000" stroke-width="1.1"/>
<circle cx="388.4" cy="215.5" r="2.25" fill="none" stroke="#000" stroke-width="1.1"/>
<circle cx="418.2" cy="196.5" r="2.25" fill="none" stroke="#000" stroke-width="1.1"/>
<circle cx="418.2" cy="200.3" r="2.25" fill="none" stroke="#000" stroke-width="1.1"/>
<circle cx="435.9" cy="191.4" r="2.25" fill="none" stroke="#000" stroke-width="1.1"/>
<circle cx="435.9" cy="195.9" r="2.25" fill="none" stroke="#000" stroke-width="1.1"/>
<circle cx="425.8" cy="203.5" r="2.25" fill="none" stroke="#000" stroke-width="1.1"/>
<circle cx="425.8" cy="207.3" r="2.25" fill="none" stroke="#000" stroke-width="1.1"/>
<circle cx="435.9" cy="207.3" r="2.25" fill="none" stroke="#000" stroke-width="1.1"/>
<circle cx="438.5" cy="205.4" r="2.25" fill="none" stroke="#000" stroke-width="1.1"/>
<circle cx="442.3" cy="204.3" r="2.25" fill="none" stroke="#000" stroke-width="1.1"/>
<circle cx="411.9" cy="206.0" r="2.25" fill="none" stroke="#000" stroke-width="1.1"/>
<circle cx="415.1" cy="207.3" r="2.25" fill="none" stroke="#000" stroke-width="1.1"/>
<circle cx="416.3" cy="208.5" r="2.25" fill="none" stroke="#000" stroke-width="1.1"/>
<circle cx="442.3" cy="209.8" r="2.25" fill="none" stroke="#000" stroke-width="1.1"/>
<circle cx="445.4" cy="212.3" r="2.25" fill="none" stroke="#000" stroke-width="1.1"/>
<circle cx="448.6" cy="214.2" r="2.25" fill="none" stroke="#000" stroke-width="1.1"/>
<circle cx="454.3" cy="215.5" r="2.25" fill="none" stroke="#000" stroke-width="1.1"/>
<circle cx="413.8" cy="212.3" r="2.25" fill="none" stroke="#000" stroke-width="1.1"/>
<circle cx="419.5" cy="211.7" r="2.25" fill="none" stroke="#000" stroke-width="1.1"/>
<circle cx="422.7" cy="211.7" r="2.25" fill="none" stroke="#000" stroke-width="1.1"/>
<circle cx="427.7" cy="213.0" r="2.25" fill="none" stroke="#000" stroke-width="1.1"/>
<circle cx="434.0" cy="213.6" r="2.25" fill="none" stroke="#000" stroke-width="1.1"/>
<circle cx="437.8" cy="213.0" r="2.25" fill="none" stroke="#000" stroke-width="1.1"/>
<circle cx="411.9" cy="215.5" r="2.25" fill="none" stroke="#000" stroke-width="1.1"/>
<circle cx="417.6" cy="215.5" r="2.25" fill="none" stroke="#000" stroke-width="1.1"/>
<circle cx="425.2" cy="215.5" r="2.25" fill="none" stroke="#000" stroke-width="1.1"/>
<circle cx="430.2" cy="215.5" r="2.25" fill="none" stroke="#000" stroke-width="1.1"/>
<circle cx="442.9" cy="215.5" r="2.25" fill="none" stroke="#000" stroke-width="1.1"/>
<circle cx="485.9" cy="232.6" r="2.25" fill="none" stroke="#000" stroke-width="1.1"/>
<circle cx="485.9" cy="237.7" r="2.25" fill="none" stroke="#000" stroke-width="1.1"/>
<circle cx="480.2" cy="241.5" r="2.25" fill="none" stroke="#000" stroke-width="1.1"/>
<circle cx="482.7" cy="242.7" r="2.25" fill="none" stroke="#000" stroke-width="1.1"/>
<circle cx="486.5" cy="242.1" r="2.25" fill="none" stroke="#000" stroke-width="1.1"/>
<circle cx="488.4" cy="246.5" r="2.25" fill="none" stroke="#000" stroke-width="1.1"/>
<circle cx="484.0" cy="249.7" r="2.25" fill="none" stroke="#000" stroke-width="1.1"/>
<circle cx="489.7" cy="251.0" r="2.25" fill="none" stroke="#000" stroke-width="1.1"/>
<circle cx="496.7" cy="249.7" r="2.25" fill="none" stroke="#000" stroke-width="1.1"/>
<circle cx="475.8" cy="230.7" r="2.25" fill="none" stroke="#000" stroke-width="1.1"/>
<circle cx="475.8" cy="236.4" r="2.25" fill="none" stroke="#000" stroke-width="1.1"/>
<circle cx="415.7" cy="249.7" r="2.25" fill="none" stroke="#000" stroke-width="1.1"/>
<circle cx="411.9" cy="246.5" r="2.25" fill="none" stroke="#000" stroke-width="1.1"/>
<circle cx="453.0" cy="214.3" r="2.25" fill="none" stroke="#000" stroke-width="1.1"/>
<circle cx="456.8" cy="218.1" r="2.25" fill="none" stroke="#000" stroke-width="1.1"/>
<circle cx="461.9" cy="224.4" r="2.25" fill="none" stroke="#000" stroke-width="1.1"/>
<circle cx="465.7" cy="228.2" r="2.25" fill="none" stroke="#000" stroke-width="1.1"/>
<circle cx="469.5" cy="232.0" r="2.25" fill="none" stroke="#000" stroke-width="1.1"/>
<circle cx="473.3" cy="240.8" r="2.25" fill="none" stroke="#000" stroke-width="1.1"/>
<circle cx="470.7" cy="245.9" r="2.25" fill="none" stroke="#000" stroke-width="1.1"/>
<circle cx="469.5" cy="251.0" r="2.25" fill="none" stroke="#000" stroke-width="1.1"/>
<circle cx="415.7" cy="251.0" r="2.25" fill="none" stroke="#000" stroke-width="1.1"/>
<circle cx="429.6" cy="252.3" r="2.25" fill="none" stroke="#000" stroke-width="1.1"/>
<circle cx="435.3" cy="251.6" r="2.25" fill="none" stroke="#000" stroke-width="1.1"/>
<circle cx="429.6" cy="260.5" r="2.25" fill="none" stroke="#000" stroke-width="1.1"/>
<circle cx="440.4" cy="259.9" r="2.25" fill="none" stroke="#000" stroke-width="1.1"/>
<circle cx="440.4" cy="261.8" r="2.25" fill="none" stroke="#000" stroke-width="1.1"/>
<circle cx="444.2" cy="254.2" r="2.25" fill="none" stroke="#000" stroke-width="1.1"/>
<circle cx="449.8" cy="256.1" r="2.25" fill="none" stroke="#000" stroke-width="1.1"/>
<circle cx="449.8" cy="260.5" r="2.25" fill="none" stroke="#000" stroke-width="1.1"/>
<circle cx="449.8" cy="263.7" r="2.25" fill="none" stroke="#000" stroke-width="1.1"/>
<circle cx="453.6" cy="252.3" r="2.25" fill="none" stroke="#000" stroke-width="1.1"/>
<circle cx="456.2" cy="256.1" r="2.25" fill="none" stroke="#000" stroke-width="1.1"/>
<circle cx="456.2" cy="259.2" r="2.25" fill="none" stroke="#000" stroke-width="1.1"/>
<circle cx="449.8" cy="277.6" r="2.25" fill="none" stroke="#000" stroke-width="1.1"/>
<circle cx="460.0" cy="264.9" r="2.25" fill="none" stroke="#000" stroke-width="1.1"/>
<circle cx="460.6" cy="263.7" r="2.25" fill="none" stroke="#000" stroke-width="1.1"/>
<circle cx="456.2" cy="268.7" r="2.25" fill="none" stroke="#000" stroke-width="1.1"/>
<circle cx="464.4" cy="261.8" r="2.25" fill="none" stroke="#000" stroke-width="1.1"/>
<circle cx="466.3" cy="254.8" r="2.25" fill="none" stroke="#000" stroke-width="1.1"/>
<circle cx="470.1" cy="258.6" r="2.25" fill="none" stroke="#000" stroke-width="1.1"/>
<circle cx="474.5" cy="257.3" r="2.25" fill="none" stroke="#000" stroke-width="1.1"/>
<circle cx="462.5" cy="254.2" r="2.25" fill="none" stroke="#000" stroke-width="1.1"/>
<circle cx="468.2" cy="252.3" r="2.25" fill="none" stroke="#000" stroke-width="1.1"/>
<circle cx="480.2" cy="262.4" r="2.25" fill="none" stroke="#000" stroke-width="1.1"/>
<circle cx="485.9" cy="252.3" r="2.25" fill="none" stroke="#000" stroke-width="1.1"/>
<circle cx="485.9" cy="255.4" r="2.25" fill="none" stroke="#000" stroke-width="1.1"/>
<circle cx="489.1" cy="259.2" r="2.25" fill="none" stroke="#000" stroke-width="1.1"/>
<circle cx="485.9" cy="260.5" r="2.25" fill="none" stroke="#000" stroke-width="1.1"/>
<circle cx="488.4" cy="263.7" r="2.25" fill="none" stroke="#000" stroke-width="1.1"/>
<circle cx="485.9" cy="266.8" r="2.25" fill="none" stroke="#000" stroke-width="1.1"/>
<circle cx="485.9" cy="270.0" r="2.25" fill="none" stroke="#000" stroke-width="1.1"/>
<circle cx="485.9" cy="276.3" r="2.25" fill="none" stroke="#000" stroke-width="1.1"/>
<circle cx="498.6" cy="266.2" r="2.25" fill="none" stroke="#000" stroke-width="1.1"/>
<circle cx="496.0" cy="251.0" r="2.25" fill="none" stroke="#000" stroke-width="1.1"/>
<circle cx="483.4" cy="251.0" r="2.25" fill="none" stroke="#000" stroke-width="1.1"/>
<circle cx="335.4" cy="205.0" r="2.25" fill="none" stroke="#000" stroke-width="1.1"/>
<circle cx="335.4" cy="221.7" r="2.25" fill="none" stroke="#000" stroke-width="1.1"/>
<circle cx="335.4" cy="238.2" r="2.25" fill="none" stroke="#000" stroke-width="1.1"/>
<circle cx="337.4" cy="206.8" r="2.25" fill="none" stroke="#000" stroke-width="1.1"/>
<circle cx="337.4" cy="223.7" r="2.25" fill="none" stroke="#000" stroke-width="1.1"/>
<circle cx="337.4" cy="240.2" r="2.25" fill="none" stroke="#000" stroke-width="1.1"/>
<circle cx="339.4" cy="199.5" r="2.25" fill="none" stroke="#000" stroke-width="1.1"/>
<circle cx="339.4" cy="215.4" r="2.25" fill="none" stroke="#000" stroke-width="1.1"/>
<circle cx="339.4" cy="233.9" r="2.25" fill="none" stroke="#000" stroke-width="1.1"/>
<circle cx="341.4" cy="196.0" r="2.25" fill="none" stroke="#000" stroke-width="1.1"/>
<circle cx="341.4" cy="215.0" r="2.25" fill="none" stroke="#000" stroke-width="1.1"/>
<circle cx="341.4" cy="231.4" r="2.25" fill="none" stroke="#000" stroke-width="1.1"/>
<circle cx="343.4" cy="207.8" r="2.25" fill="none" stroke="#000" stroke-width="1.1"/>
<circle cx="343.4" cy="233.9" r="2.25" fill="none" stroke="#000" stroke-width="1.1"/>
<circle cx="345.4" cy="195.9" r="2.25" fill="none" stroke="#000" stroke-width="1.1"/>
<circle cx="345.4" cy="211.7" r="2.25" fill="none" stroke="#000" stroke-width="1.1"/>
<circle cx="345.4" cy="228.3" r="2.25" fill="none" stroke="#000" stroke-width="1.1"/>
<circle cx="347.4" cy="196.0" r="2.25" fill="none" stroke="#000" stroke-width="1.1"/>
<circle cx="347.4" cy="212.0" r="2.25" fill="none" stroke="#000" stroke-width="1.1"/>
<circle cx="347.4" cy="229.2" r="2.25" fill="none" stroke="#000" stroke-width="1.1"/>
<circle cx="349.4" cy="200.6" r="2.25" fill="none" stroke="#000" stroke-width="1.1"/>
<circle cx="349.4" cy="217.3" r="2.25" fill="none" stroke="#000" stroke-width="1.1"/>
<circle cx="349.4" cy="236.0" r="2.25" fill="none" stroke="#000" stroke-width="1.1"/>
<circle cx="351.4" cy="206.4" r="2.25" fill="none" stroke="#000" stroke-width="1.1"/>
<circle cx="351.4" cy="221.5" r="2.25" fill="none" stroke="#000" stroke-width="1.1"/>
<circle cx="351.4" cy="235.0" r="2.25" fill="none" stroke="#000" stroke-width="1.1"/>
<circle cx="335.4" cy="206.3" r="2.25" fill="none" stroke="#000" stroke-width="1.1"/>
<circle cx="337.4" cy="207.2" r="2.25" fill="none" stroke="#000" stroke-width="1.1"/>
<circle cx="339.4" cy="211.3" r="2.25" fill="none" stroke="#000" stroke-width="1.1"/>
<circle cx="341.4" cy="212.3" r="2.25" fill="none" stroke="#000" stroke-width="1.1"/>
<circle cx="341.4" cy="220.9" r="2.25" fill="none" stroke="#000" stroke-width="1.1"/>
<circle cx="343.4" cy="216.8" r="2.25" fill="none" stroke="#000" stroke-width="1.1"/>
<circle cx="345.4" cy="206.5" r="2.25" fill="none" stroke="#000" stroke-width="1.1"/>
<circle cx="401.4" cy="233.8" r="2.25" fill="none" stroke="#000" stroke-width="1.1"/>
<circle cx="403.4" cy="222.3" r="2.25" fill="none" stroke="#000" stroke-width="1.1"/>
<circle cx="405.4" cy="210.7" r="2.25" fill="none" stroke="#000" stroke-width="1.1"/>
<circle cx="405.4" cy="227.2" r="2.25" fill="none" stroke="#000" stroke-width="1.1"/>
<circle cx="407.4" cy="205.2" r="2.25" fill="none" stroke="#000" stroke-width="1.1"/>
<circle cx="407.4" cy="225.4" r="2.25" fill="none" stroke="#000" stroke-width="1.1"/>
<circle cx="409.4" cy="215.7" r="2.25" fill="none" stroke="#000" stroke-width="1.1"/>
<circle cx="409.4" cy="235.2" r="2.25" fill="none" stroke="#000" stroke-width="1.1"/>
<circle cx="411.4" cy="215.8" r="2.25" fill="none" stroke="#000" stroke-width="1.1"/>
<circle cx="411.4" cy="230.0" r="2.25" fill="none" stroke="#000" stroke-width="1.1"/>
<circle cx="411.4" cy="243.9" r="2.25" fill="none" stroke="#000" stroke-width="1.1"/>
<circle cx="413.4" cy="212.8" r="2.25" fill="none" stroke="#000" stroke-width="1.1"/>
<circle cx="413.4" cy="233.7" r="2.25" fill="none" stroke="#000" stroke-width="1.1"/>
<circle cx="415.4" cy="218.5" r="2.25" fill="none" stroke="#000" stroke-width="1.1"/>
<circle cx="415.4" cy="240.5" r="2.25" fill="none" stroke="#000" stroke-width="1.1"/>
<circle cx="417.4" cy="220.6" r="2.25" fill="none" stroke="#000" stroke-width="1.1"/>
<circle cx="417.4" cy="243.3" r="2.25" fill="none" stroke="#000" stroke-width="1.1"/>
<circle cx="419.4" cy="207.3" r="2.25" fill="none" stroke="#000" stroke-width="1.1"/>
<circle cx="419.4" cy="231.3" r="2.25" fill="none" stroke="#000" stroke-width="1.1"/>
<circle cx="421.4" cy="207.4" r="2.25" fill="none" stroke="#000" stroke-width="1.1"/>
<circle cx="421.4" cy="231.7" r="2.25" fill="none" stroke="#000" stroke-width="1.1"/>
<circle cx="423.4" cy="207.9" r="2.25" fill="none" stroke="#000" stroke-width="1.1"/>
<circle cx="423.4" cy="225.1" r="2.25" fill="none" stroke="#000" stroke-width="1.1"/>
<circle cx="423.4" cy="240.7" r="2.25" fill="none" stroke="#000" stroke-width="1.1"/>
<circle cx="425.4" cy="207.6" r="2.25" fill="none" stroke="#000" stroke-width="1.1"/>
<circle cx="425.4" cy="225.6" r="2.25" fill="none" stroke="#000" stroke-width="1.1"/>
<circle cx="425.4" cy="242.1" r="2.25" fill="none" stroke="#000" stroke-width="1.1"/>
<circle cx="427.4" cy="206.2" r="2.25" fill="none" stroke="#000" stroke-width="1.1"/>
<circle cx="427.4" cy="223.0" r="2.25" fill="none" stroke="#000" stroke-width="1.1"/>
<circle cx="427.4" cy="240.2" r="2.25" fill="none" stroke="#000" stroke-width="1.1"/>
<circle cx="429.4" cy="214.5" r="2.25" fill="none" stroke="#000" stroke-width="1.1"/>
<circle cx="429.4" cy="230.8" r="2.25" fill="none" stroke="#000" stroke-width="1.1"/>
<circle cx="429.4" cy="248.4" r="2.25" fill="none" stroke="#000" stroke-width="1.1"/>
<circle cx="431.4" cy="220.7" r="2.25" fill="none" stroke="#000" stroke-width="1.1"/>
<circle cx="431.4" cy="238.3" r="2.25" fill="none" stroke="#000" stroke-width="1.1"/>
<circle cx="431.4" cy="254.3" r="2.25" fill="none" stroke="#000" stroke-width="1.1"/>
<circle cx="433.4" cy="224.1" r="2.25" fill="none" stroke="#000" stroke-width="1.1"/>
<circle cx="433.4" cy="249.0" r="2.25" fill="none" stroke="#000" stroke-width="1.1"/>
<circle cx="435.4" cy="221.0" r="2.25" fill="none" stroke="#000" stroke-width="1.1"/>
<circle cx="435.4" cy="245.7" r="2.25" fill="none" stroke="#000" stroke-width="1.1"/>
<circle cx="437.4" cy="223.2" r="2.25" fill="none" stroke="#000" stroke-width="1.1"/>
<circle cx="437.4" cy="239.5" r="2.25" fill="none" stroke="#000" stroke-width="1.1"/>
<circle cx="437.4" cy="256.0" r="2.25" fill="none" stroke="#000" stroke-width="1.1"/>
<circle cx="439.4" cy="211.9" r="2.25" fill="none" stroke="#000" stroke-width="1.1"/>
<circle cx="439.4" cy="228.7" r="2.25" fill="none" stroke="#000" stroke-width="1.1"/>
<circle cx="439.4" cy="243.9" r="2.25" fill="none" stroke="#000" stroke-width="1.1"/>
<circle cx="441.4" cy="216.7" r="2.25" fill="none" stroke="#000" stroke-width="1.1"/>
<circle cx="441.4" cy="234.0" r="2.25" fill="none" stroke="#000" stroke-width="1.1"/>
<circle cx="441.4" cy="251.0" r="2.25" fill="none" stroke="#000" stroke-width="1.1"/>
<circle cx="443.4" cy="217.3" r="2.25" fill="none" stroke="#000" stroke-width="1.1"/>
<circle cx="443.4" cy="232.6" r="2.25" fill="none" stroke="#000" stroke-width="1.1"/>
<circle cx="443.4" cy="248.7" r="2.25" fill="none" stroke="#000" stroke-width="1.1"/>
<circle cx="445.4" cy="230.9" r="2.25" fill="none" stroke="#000" stroke-width="1.1"/>
<circle cx="445.4" cy="254.6" r="2.25" fill="none" stroke="#000" stroke-width="1.1"/>
<circle cx="447.4" cy="228.6" r="2.25" fill="none" stroke="#000" stroke-width="1.1"/>
<circle cx="447.4" cy="252.0" r="2.25" fill="none" stroke="#000" stroke-width="1.1"/>
<circle cx="449.4" cy="216.8" r="2.25" fill="none" stroke="#000" stroke-width="1.1"/>
<circle cx="449.4" cy="233.2" r="2.25" fill="none" stroke="#000" stroke-width="1.1"/>
<circle cx="449.4" cy="248.4" r="2.25" fill="none" stroke="#000" stroke-width="1.1"/>
<circle cx="451.4" cy="231.6" r="2.25" fill="none" stroke="#000" stroke-width="1.1"/>
<circle cx="451.4" cy="255.8" r="2.25" fill="none" stroke="#000" stroke-width="1.1"/>
<circle cx="453.4" cy="227.7" r="2.25" fill="none" stroke="#000" stroke-width="1.1"/>
<circle cx="453.4" cy="249.3" r="2.25" fill="none" stroke="#000" stroke-width="1.1"/>
<circle cx="455.4" cy="217.1" r="2.25" fill="none" stroke="#000" stroke-width="1.1"/>
<circle cx="455.4" cy="239.4" r="2.25" fill="none" stroke="#000" stroke-width="1.1"/>
<circle cx="457.4" cy="228.6" r="2.25" fill="none" stroke="#000" stroke-width="1.1"/>
<circle cx="457.4" cy="250.1" r="2.25" fill="none" stroke="#000" stroke-width="1.1"/>
<circle cx="459.4" cy="217.8" r="2.25" fill="none" stroke="#000" stroke-width="1.1"/>
<circle cx="459.4" cy="239.4" r="2.25" fill="none" stroke="#000" stroke-width="1.1"/>
<circle cx="461.4" cy="236.0" r="2.25" fill="none" stroke="#000" stroke-width="1.1"/>
<circle cx="461.4" cy="257.0" r="2.25" fill="none" stroke="#000" stroke-width="1.1"/>
<circle cx="463.4" cy="229.1" r="2.25" fill="none" stroke="#000" stroke-width="1.1"/>
<circle cx="463.4" cy="247.6" r="2.25" fill="none" stroke="#000" stroke-width="1.1"/>
<circle cx="465.4" cy="231.2" r="2.25" fill="none" stroke="#000" stroke-width="1.1"/>
<circle cx="465.4" cy="249.3" r="2.25" fill="none" stroke="#000" stroke-width="1.1"/>
<circle cx="467.4" cy="232.1" r="2.25" fill="none" stroke="#000" stroke-width="1.1"/>
<circle cx="467.4" cy="251.0" r="2.25" fill="none" stroke="#000" stroke-width="1.1"/>
<circle cx="469.4" cy="240.1" r="2.25" fill="none" stroke="#000" stroke-width="1.1"/>
<circle cx="469.4" cy="256.2" r="2.25" fill="none" stroke="#000" stroke-width="1.1"/>
<circle cx="471.4" cy="247.9" r="2.25" fill="none" stroke="#000" stroke-width="1.1"/>
<circle cx="473.4" cy="232.3" r="2.25" fill="none" stroke="#000" stroke-width="1.1"/>
<circle cx="473.4" cy="245.5" r="2.25" fill="none" stroke="#000" stroke-width="1.1"/>
<circle cx="475.4" cy="237.1" r="2.25" fill="none" stroke="#000" stroke-width="1.1"/>
<circle cx="477.4" cy="243.7" r="2.25" fill="none" stroke="#000" stroke-width="1.1"/>
<circle cx="411.4" cy="224.7" r="2.25" fill="none" stroke="#000" stroke-width="1.1"/>
<circle cx="411.4" cy="239.4" r="2.25" fill="none" stroke="#000" stroke-width="1.1"/>
<circle cx="413.4" cy="222.7" r="2.25" fill="none" stroke="#000" stroke-width="1.1"/>
<circle cx="413.4" cy="237.5" r="2.25" fill="none" stroke="#000" stroke-width="1.1"/>
<circle cx="415.4" cy="225.0" r="2.25" fill="none" stroke="#000" stroke-width="1.1"/>
<circle cx="415.4" cy="238.7" r="2.25" fill="none" stroke="#000" stroke-width="1.1"/>
<circle cx="417.4" cy="228.2" r="2.25" fill="none" stroke="#000" stroke-width="1.1"/>
<circle cx="417.4" cy="240.3" r="2.25" fill="none" stroke="#000" stroke-width="1.1"/>
<circle cx="419.4" cy="229.6" r="2.25" fill="none" stroke="#000" stroke-width="1.1"/>
<circle cx="419.4" cy="243.1" r="2.25" fill="none" stroke="#000" stroke-width="1.1"/>
<circle cx="421.4" cy="228.7" r="2.25" fill="none" stroke="#000" stroke-width="1.1"/>
<circle cx="421.4" cy="244.4" r="2.25" fill="none" stroke="#000" stroke-width="1.1"/>
<circle cx="423.4" cy="218.2" r="2.25" fill="none" stroke="#000" stroke-width="1.1"/>
<circle cx="423.4" cy="232.7" r="2.25" fill="none" stroke="#000" stroke-width="1.1"/>
<circle cx="425.4" cy="222.8" r="2.25" fill="none" stroke="#000" stroke-width="1.1"/>
<circle cx="425.4" cy="237.6" r="2.25" fill="none" stroke="#000" stroke-width="1.1"/>
<circle cx="427.4" cy="229.5" r="2.25" fill="none" stroke="#000" stroke-width="1.1"/>
<circle cx="427.4" cy="244.6" r="2.25" fill="none" stroke="#000" stroke-width="1.1"/>
<circle cx="429.4" cy="230.1" r="2.25" fill="none" stroke="#000" stroke-width="1.1"/>
<circle cx="429.4" cy="245.7" r="2.25" fill="none" stroke="#000" stroke-width="1.1"/>
<circle cx="431.4" cy="222.2" r="2.25" fill="none" stroke="#000" stroke-width="1.1"/>
<circle cx="431.4" cy="238.0" r="2.25" fill="none" stroke="#000" stroke-width="1.1"/>
<circle cx="433.4" cy="222.4" r="2.25" fill="none" stroke="#000" stroke-width="1.1"/>
<circle cx="433.4" cy="232.9" r="2.25" fill="none" stroke="#000" stroke-width="1.1"/>
<circle cx="433.4" cy="244.0" r="2.25" fill="none" stroke="#000" stroke-width="1.1"/>
<circle cx="435.4" cy="233.0" r="2.25" fill="none" stroke="#000" stroke-width="1.1"/>
<circle cx="435.4" cy="249.8" r="2.25" fill="none" stroke="#000" stroke-width="1.1"/>
<circle cx="437.4" cy="231.0" r="2.25" fill="none" stroke="#000" stroke-width="1.1"/>
<circle cx="437.4" cy="246.6" r="2.25" fill="none" stroke="#000" stroke-width="1.1"/>
<circle cx="439.4" cy="223.5" r="2.25" fill="none" stroke="#000" stroke-width="1.1"/>
<circle cx="439.4" cy="239.9" r="2.25" fill="none" stroke="#000" stroke-width="1.1"/>
<circle cx="441.4" cy="232.3" r="2.25" fill="none" stroke="#000" stroke-width="1.1"/>
<circle cx="441.4" cy="248.8" r="2.25" fill="none" stroke="#000" stroke-width="1.1"/>
<circle cx="443.4" cy="223.8" r="2.25" fill="none" stroke="#000" stroke-width="1.1"/>
<circle cx="443.4" cy="240.6" r="2.25" fill="none" stroke="#000" stroke-width="1.1"/>
<circle cx="445.4" cy="234.5" r="2.25" fill="none" stroke="#000" stroke-width="1.1"/>
<circle cx="445.4" cy="250.4" r="2.25" fill="none" stroke="#000" stroke-width="1.1"/>
<circle cx="447.4" cy="226.3" r="2.25" fill="none" stroke="#000" stroke-width="1.1"/>
<circle cx="447.4" cy="236.9" r="2.25" fill="none" stroke="#000" stroke-width="1.1"/>
<circle cx="447.4" cy="247.8" r="2.25" fill="none" stroke="#000" stroke-width="1.1"/>
<circle cx="449.4" cy="233.3" r="2.25" fill="none" stroke="#000" stroke-width="1.1"/>
<circle cx="449.4" cy="243.6" r="2.25" fill="none" stroke="#000" stroke-width="1.1"/>
<circle cx="449.4" cy="253.1" r="2.25" fill="none" stroke="#000" stroke-width="1.1"/>
<circle cx="451.4" cy="229.5" r="2.25" fill="none" stroke="#000" stroke-width="1.1"/>
<circle cx="451.4" cy="244.1" r="2.25" fill="none" stroke="#000" stroke-width="1.1"/>
<circle cx="453.4" cy="228.4" r="2.25" fill="none" stroke="#000" stroke-width="1.1"/>
<circle cx="453.4" cy="244.2" r="2.25" fill="none" stroke="#000" stroke-width="1.1"/>
<circle cx="455.4" cy="233.5" r="2.25" fill="none" stroke="#000" stroke-width="1.1"/>
<circle cx="455.4" cy="248.3" r="2.25" fill="none" stroke="#000" stroke-width="1.1"/>
<circle cx="457.4" cy="235.6" r="2.25" fill="none" stroke="#000" stroke-width="1.1"/>
<circle cx="457.4" cy="250.1" r="2.25" fill="none" stroke="#000" stroke-width="1.1"/>
<circle cx="459.4" cy="230.3" r="2.25" fill="none" stroke="#000" stroke-width="1.1"/>
<circle cx="459.4" cy="244.9" r="2.25" fill="none" stroke="#000" stroke-width="1.1"/>
<circle cx="461.4" cy="237.2" r="2.25" fill="none" stroke="#000" stroke-width="1.1"/>
<circle cx="461.4" cy="250.0" r="2.25" fill="none" stroke="#000" stroke-width="1.1"/>
<circle cx="463.4" cy="230.0" r="2.25" fill="none" stroke="#000" stroke-width="1.1"/>
<circle cx="463.4" cy="243.3" r="2.25" fill="none" stroke="#000" stroke-width="1.1"/>
<circle cx="465.4" cy="240.4" r="2.25" fill="none" stroke="#000" stroke-width="1.1"/>
<circle cx="465.4" cy="253.8" r="2.25" fill="none" stroke="#000" stroke-width="1.1"/>
<circle cx="467.4" cy="231.4" r="2.25" fill="none" stroke="#000" stroke-width="1.1"/>
<circle cx="467.4" cy="242.5" r="2.25" fill="none" stroke="#000" stroke-width="1.1"/>
<circle cx="469.4" cy="245.1" r="2.25" fill="none" stroke="#000" stroke-width="1.1"/>
<circle cx="471.4" cy="243.3" r="2.25" fill="none" stroke="#000" stroke-width="1.1"/>
<circle cx="471.4" cy="254.0" r="2.25" fill="none" stroke="#000" stroke-width="1.1"/>
<circle cx="605.1" cy="178.1" r="2.25" fill="none" stroke="#000" stroke-width="1.1"/>
<circle cx="611.1" cy="179.7" r="2.25" fill="none" stroke="#000" stroke-width="1.1"/>
<circle cx="605.1" cy="192.1" r="2.25" fill="none" stroke="#000" stroke-width="1.1"/>
<circle cx="598.7" cy="195.5" r="2.25" fill="none" stroke="#000" stroke-width="1.1"/>
<circle cx="608.9" cy="194.8" r="2.25" fill="none" stroke="#000" stroke-width="1.1"/>
<circle cx="598.7" cy="198.6" r="2.25" fill="none" stroke="#000" stroke-width="1.1"/>
<circle cx="604.4" cy="197.4" r="2.25" fill="none" stroke="#000" stroke-width="1.1"/>
<circle cx="616.5" cy="197.6" r="2.25" fill="none" stroke="#000" stroke-width="1.1"/>
<circle cx="614.6" cy="199.9" r="2.25" fill="none" stroke="#000" stroke-width="1.1"/>
<circle cx="600.6" cy="201.8" r="2.25" fill="none" stroke="#000" stroke-width="1.1"/>
<circle cx="605.1" cy="201.2" r="2.25" fill="none" stroke="#000" stroke-width="1.1"/>
<circle cx="610.1" cy="201.8" r="2.25" fill="none" stroke="#000" stroke-width="1.1"/>
<circle cx="615.2" cy="203.4" r="2.25" fill="none" stroke="#000" stroke-width="1.1"/>
<circle cx="605.1" cy="205.0" r="2.25" fill="none" stroke="#000" stroke-width="1.1"/>
<circle cx="601.3" cy="206.9" r="2.25" fill="none" stroke="#000" stroke-width="1.1"/>
<circle cx="608.9" cy="207.5" r="2.25" fill="none" stroke="#000" stroke-width="1.1"/>
<circle cx="605.1" cy="211.3" r="2.25" fill="none" stroke="#000" stroke-width="1.1"/>
<circle cx="599.4" cy="211.3" r="2.25" fill="none" stroke="#000" stroke-width="1.1"/>
<circle cx="611.4" cy="210.0" r="2.25" fill="none" stroke="#000" stroke-width="1.1"/>
<circle cx="617.1" cy="212.6" r="2.25" fill="none" stroke="#000" stroke-width="1.1"/>
<circle cx="622.8" cy="212.6" r="2.25" fill="none" stroke="#000" stroke-width="1.1"/>
<circle cx="626.6" cy="212.6" r="2.25" fill="none" stroke="#000" stroke-width="1.1"/>
<circle cx="631.6" cy="202.2" r="2.25" fill="none" stroke="#000" stroke-width="1.1"/>
<circle cx="636.9" cy="202.2" r="2.25" fill="none" stroke="#000" stroke-width="1.1"/>
<circle cx="629.7" cy="206.2" r="2.25" fill="none" stroke="#000" stroke-width="1.1"/>
<circle cx="637.3" cy="209.4" r="2.25" fill="none" stroke="#000" stroke-width="1.1"/>
<circle cx="644.9" cy="208.1" r="2.25" fill="none" stroke="#000" stroke-width="1.1"/>
<circle cx="643.0" cy="211.9" r="2.25" fill="none" stroke="#000" stroke-width="1.1"/>
<circle cx="649.3" cy="211.3" r="2.25" fill="none" stroke="#000" stroke-width="1.1"/>
<circle cx="646.8" cy="212.6" r="2.25" fill="none" stroke="#000" stroke-width="1.1"/>
<circle cx="660.7" cy="211.3" r="2.25" fill="none" stroke="#000" stroke-width="1.1"/>
<circle cx="664.5" cy="211.9" r="2.25" fill="none" stroke="#000" stroke-width="1.1"/>
<circle cx="667.1" cy="211.9" r="2.25" fill="none" stroke="#000" stroke-width="1.1"/>
<circle cx="673.4" cy="205.6" r="2.25" fill="none" stroke="#000" stroke-width="1.1"/>
<circle cx="599.4" cy="215.1" r="2.25" fill="none" stroke="#000" stroke-width="1.1"/>
<circle cx="603.8" cy="215.1" r="2.25" fill="none" stroke="#000" stroke-width="1.1"/>
<circle cx="608.9" cy="215.1" r="2.25" fill="none" stroke="#000" stroke-width="1.1"/>
<circle cx="612.7" cy="215.1" r="2.25" fill="none" stroke="#000" stroke-width="1.1"/>
<circle cx="635.4" cy="215.1" r="2.25" fill="none" stroke="#000" stroke-width="1.1"/>
<circle cx="639.2" cy="215.1" r="2.25" fill="none" stroke="#000" stroke-width="1.1"/>
<circle cx="651.9" cy="215.1" r="2.25" fill="none" stroke="#000" stroke-width="1.1"/>
<circle cx="656.9" cy="215.1" r="2.25" fill="none" stroke="#000" stroke-width="1.1"/>
<circle cx="672.1" cy="215.1" r="2.25" fill="none" stroke="#000" stroke-width="1.1"/>
<circle cx="598.7" cy="213.9" r="2.25" fill="none" stroke="#000" stroke-width="1.1"/>
<circle cx="598.7" cy="217.7" r="2.25" fill="none" stroke="#000" stroke-width="1.1"/>
<circle cx="598.7" cy="225.3" r="2.25" fill="none" stroke="#000" stroke-width="1.1"/>
<circle cx="598.7" cy="228.4" r="2.25" fill="none" stroke="#000" stroke-width="1.1"/>
<circle cx="601.3" cy="233.5" r="2.25" fill="none" stroke="#000" stroke-width="1.1"/>
<circle cx="605.1" cy="214.5" r="2.25" fill="none" stroke="#000" stroke-width="1.1"/>
<circle cx="605.1" cy="218.9" r="2.25" fill="none" stroke="#000" stroke-width="1.1"/>
<circle cx="603.8" cy="224.6" r="2.25" fill="none" stroke="#000" stroke-width="1.1"/>
<circle cx="605.1" cy="229.0" r="2.25" fill="none" stroke="#000" stroke-width="1.1"/>
<circle cx="605.1" cy="232.8" r="2.25" fill="none" stroke="#000" stroke-width="1.1"/>
<circle cx="605.1" cy="236.0" r="2.25" fill="none" stroke="#000" stroke-width="1.1"/>
<circle cx="605.1" cy="239.2" r="2.25" fill="none" stroke="#000" stroke-width="1.1"/>
<circle cx="605.1" cy="242.3" r="2.25" fill="none" stroke="#000" stroke-width="1.1"/>
<circle cx="601.3" cy="244.2" r="2.25" fill="none" stroke="#000" stroke-width="1.1"/>
<circle cx="608.9" cy="215.1" r="2.25" fill="none" stroke="#000" stroke-width="1.1"/>
<circle cx="608.9" cy="220.2" r="2.25" fill="none" stroke="#000" stroke-width="1.1"/>
<circle cx="608.9" cy="225.3" r="2.25" fill="none" stroke="#000" stroke-width="1.1"/>
<circle cx="609.5" cy="230.3" r="2.25" fill="none" stroke="#000" stroke-width="1.1"/>
<circle cx="608.9" cy="236.6" r="2.25" fill="none" stroke="#000" stroke-width="1.1"/>
<circle cx="612.7" cy="215.1" r="2.25" fill="none" stroke="#000" stroke-width="1.1"/>
<circle cx="612.7" cy="219.6" r="2.25" fill="none" stroke="#000" stroke-width="1.1"/>
<circle cx="612.0" cy="226.5" r="2.25" fill="none" stroke="#000" stroke-width="1.1"/>
<circle cx="613.3" cy="231.6" r="2.25" fill="none" stroke="#000" stroke-width="1.1"/>
<circle cx="612.7" cy="239.2" r="2.25" fill="none" stroke="#000" stroke-width="1.1"/>
<circle cx="615.8" cy="225.3" r="2.25" fill="none" stroke="#000" stroke-width="1.1"/>
<circle cx="615.2" cy="234.7" r="2.25" fill="none" stroke="#000" stroke-width="1.1"/>
<circle cx="616.5" cy="217.7" r="2.25" fill="none" stroke="#000" stroke-width="1.1"/>
<circle cx="620.9" cy="224.0" r="2.25" fill="none" stroke="#000" stroke-width="1.1"/>
<circle cx="620.9" cy="229.7" r="2.25" fill="none" stroke="#000" stroke-width="1.1"/>
<circle cx="620.9" cy="238.5" r="2.25" fill="none" stroke="#000" stroke-width="1.1"/>
<circle cx="622.8" cy="218.9" r="2.25" fill="none" stroke="#000" stroke-width="1.1"/>
<circle cx="627.2" cy="213.9" r="2.25" fill="none" stroke="#000" stroke-width="1.1"/>
<circle cx="627.2" cy="218.9" r="2.25" fill="none" stroke="#000" stroke-width="1.1"/>
<circle cx="629.1" cy="224.0" r="2.25" fill="none" stroke="#000" stroke-width="1.1"/>
<circle cx="625.9" cy="229.0" r="2.25" fill="none" stroke="#000" stroke-width="1.1"/>
<circle cx="629.1" cy="229.0" r="2.25" fill="none" stroke="#000" stroke-width="1.1"/>
<circle cx="631.0" cy="236.6" r="2.25" fill="none" stroke="#000" stroke-width="1.1"/>
<circle cx="634.2" cy="226.5" r="2.25" fill="none" stroke="#000" stroke-width="1.1"/>
<circle cx="637.3" cy="227.1" r="2.25" fill="none" stroke="#000" stroke-width="1.1"/>
<circle cx="632.9" cy="230.9" r="2.25" fill="none" stroke="#000" stroke-width="1.1"/>
<circle cx="632.9" cy="218.9" r="2.25" fill="none" stroke="#000" stroke-width="1.1"/>
<circle cx="636.7" cy="216.4" r="2.25" fill="none" stroke="#000" stroke-width="1.1"/>
<circle cx="639.2" cy="217.0" r="2.25" fill="none" stroke="#000" stroke-width="1.1"/>
<circle cx="643.0" cy="213.9" r="2.25" fill="none" stroke="#000" stroke-width="1.1"/>
<circle cx="645.5" cy="218.9" r="2.25" fill="none" stroke="#000" stroke-width="1.1"/>
<circle cx="649.3" cy="217.7" r="2.25" fill="none" stroke="#000" stroke-width="1.1"/>
<circle cx="648.7" cy="224.0" r="2.25" fill="none" stroke="#000" stroke-width="1.1"/>
<circle cx="644.9" cy="227.1" r="2.25" fill="none" stroke="#000" stroke-width="1.1"/>
<circle cx="649.3" cy="227.8" r="2.25" fill="none" stroke="#000" stroke-width="1.1"/>
<circle cx="653.1" cy="230.3" r="2.25" fill="none" stroke="#000" stroke-width="1.1"/>
<circle cx="650.6" cy="231.6" r="2.25" fill="none" stroke="#000" stroke-width="1.1"/>
<circle cx="649.3" cy="235.4" r="2.25" fill="none" stroke="#000" stroke-width="1.1"/>
<circle cx="647.4" cy="239.2" r="2.25" fill="none" stroke="#000" stroke-width="1.1"/>
<circle cx="644.9" cy="239.8" r="2.25" fill="none" stroke="#000" stroke-width="1.1"/>
<circle cx="651.2" cy="244.2" r="2.25" fill="none" stroke="#000" stroke-width="1.1"/>
<circle cx="644.3" cy="246.8" r="2.25" fill="none" stroke="#000" stroke-width="1.1"/>
<circle cx="646.8" cy="249.3" r="2.25" fill="none" stroke="#000" stroke-width="1.1"/>
<circle cx="637.3" cy="248.7" r="2.25" fill="none" stroke="#000" stroke-width="1.1"/>
<circle cx="656.9" cy="238.5" r="2.25" fill="none" stroke="#000" stroke-width="1.1"/>
<circle cx="656.9" cy="246.8" r="2.25" fill="none" stroke="#000" stroke-width="1.1"/>
<circle cx="660.1" cy="248.0" r="2.25" fill="none" stroke="#000" stroke-width="1.1"/>
<circle cx="661.4" cy="232.2" r="2.25" fill="none" stroke="#000" stroke-width="1.1"/>
<circle cx="662.0" cy="225.9" r="2.25" fill="none" stroke="#000" stroke-width="1.1"/>
<circle cx="665.8" cy="229.0" r="2.25" fill="none" stroke="#000" stroke-width="1.1"/>
<circle cx="669.6" cy="229.0" r="2.25" fill="none" stroke="#000" stroke-width="1.1"/>
<circle cx="659.5" cy="218.9" r="2.25" fill="none" stroke="#000" stroke-width="1.1"/>
<circle cx="663.3" cy="216.4" r="2.25" fill="none" stroke="#000" stroke-width="1.1"/>
<circle cx="667.1" cy="215.1" r="2.25" fill="none" stroke="#000" stroke-width="1.1"/>
<circle cx="667.1" cy="220.2" r="2.25" fill="none" stroke="#000" stroke-width="1.1"/>
<circle cx="672.1" cy="215.1" r="2.25" fill="none" stroke="#000" stroke-width="1.1"/>
<circle cx="674.6" cy="218.9" r="2.25" fill="none" stroke="#000" stroke-width="1.1"/>
<circle cx="672.7" cy="225.3" r="2.25" fill="none" stroke="#000" stroke-width="1.1"/>
<circle cx="674.6" cy="231.6" r="2.25" fill="none" stroke="#000" stroke-width="1.1"/>
<circle cx="672.7" cy="234.7" r="2.25" fill="none" stroke="#000" stroke-width="1.1"/>
<circle cx="669.6" cy="248.7" r="2.25" fill="none" stroke="#000" stroke-width="1.1"/>
<circle cx="674.6" cy="246.1" r="2.25" fill="none" stroke="#000" stroke-width="1.1"/>
<circle cx="654.4" cy="214.5" r="2.25" fill="none" stroke="#000" stroke-width="1.1"/>
<circle cx="659.5" cy="213.9" r="2.25" fill="none" stroke="#000" stroke-width="1.1"/>
<circle cx="651.9" cy="215.1" r="2.25" fill="none" stroke="#000" stroke-width="1.1"/>
<circle cx="681.7" cy="196.1" r="2.25" fill="none" stroke="#000" stroke-width="1.1"/>
<circle cx="681.7" cy="199.9" r="2.25" fill="none" stroke="#000" stroke-width="1.1"/>
<circle cx="699.4" cy="191.0" r="2.25" fill="none" stroke="#000" stroke-width="1.1"/>
<circle cx="699.4" cy="195.5" r="2.25" fill="none" stroke="#000" stroke-width="1.1"/>
<circle cx="689.3" cy="203.1" r="2.25" fill="none" stroke="#000" stroke-width="1.1"/>
<circle cx="689.3" cy="206.9" r="2.25" fill="none" stroke="#000" stroke-width="1.1"/>
<circle cx="699.4" cy="206.9" r="2.25" fill="none" stroke="#000" stroke-width="1.1"/>
<circle cx="702.0" cy="205.0" r="2.25" fill="none" stroke="#000" stroke-width="1.1"/>
<circle cx="705.8" cy="203.9" r="2.25" fill="none" stroke="#000" stroke-width="1.1"/>
<circle cx="675.4" cy="205.6" r="2.25" fill="none" stroke="#000" stroke-width="1.1"/>
<circle cx="678.6" cy="206.9" r="2.25" fill="none" stroke="#000" stroke-width="1.1"/>
<circle cx="679.8" cy="208.1" r="2.25" fill="none" stroke="#000" stroke-width="1.1"/>
<circle cx="705.8" cy="209.4" r="2.25" fill="none" stroke="#000" stroke-width="1.1"/>
<circle cx="708.9" cy="211.9" r="2.25" fill="none" stroke="#000" stroke-width="1.1"/>
<circle cx="712.1" cy="213.8" r="2.25" fill="none" stroke="#000" stroke-width="1.1"/>
<circle cx="717.8" cy="215.1" r="2.25" fill="none" stroke="#000" stroke-width="1.1"/>
<circle cx="677.3" cy="211.9" r="2.25" fill="none" stroke="#000" stroke-width="1.1"/>
<circle cx="683.0" cy="211.3" r="2.25" fill="none" stroke="#000" stroke-width="1.1"/>
<circle cx="686.2" cy="211.3" r="2.25" fill="none" stroke="#000" stroke-width="1.1"/>
<circle cx="691.2" cy="212.6" r="2.25" fill="none" stroke="#000" stroke-width="1.1"/>
<circle cx="697.5" cy="213.2" r="2.25" fill="none" stroke="#000" stroke-width="1.1"/>
<circle cx="701.3" cy="212.6" r="2.25" fill="none" stroke="#000" stroke-width="1.1"/>
<circle cx="675.4" cy="215.1" r="2.25" fill="none" stroke="#000" stroke-width="1.1"/>
<circle cx="681.1" cy="215.1" r="2.25" fill="none" stroke="#000" stroke-width="1.1"/>
<circle cx="688.7" cy="215.1" r="2.25" fill="none" stroke="#000" stroke-width="1.1"/>
<circle cx="693.7" cy="215.1" r="2.25" fill="none" stroke="#000" stroke-width="1.1"/>
<circle cx="706.4" cy="215.1" r="2.25" fill="none" stroke="#000" stroke-width="1.1"/>
<circle cx="749.4" cy="232.2" r="2.25" fill="none" stroke="#000" stroke-width="1.1"/>
<circle cx="749.4" cy="237.3" r="2.25" fill="none" stroke="#000" stroke-width="1.1"/>
<circle cx="743.7" cy="241.1" r="2.25" fill="none" stroke="#000" stroke-width="1.1"/>
<circle cx="746.2" cy="242.3" r="2.25" fill="none" stroke="#000" stroke-width="1.1"/>
<circle cx="750.0" cy="241.7" r="2.25" fill="none" stroke="#000" stroke-width="1.1"/>
<circle cx="751.9" cy="246.1" r="2.25" fill="none" stroke="#000" stroke-width="1.1"/>
<circle cx="747.5" cy="249.3" r="2.25" fill="none" stroke="#000" stroke-width="1.1"/>
<circle cx="753.2" cy="250.6" r="2.25" fill="none" stroke="#000" stroke-width="1.1"/>
<circle cx="760.2" cy="249.3" r="2.25" fill="none" stroke="#000" stroke-width="1.1"/>
<circle cx="739.3" cy="230.3" r="2.25" fill="none" stroke="#000" stroke-width="1.1"/>
<circle cx="739.3" cy="236.0" r="2.25" fill="none" stroke="#000" stroke-width="1.1"/>
<circle cx="679.2" cy="249.3" r="2.25" fill="none" stroke="#000" stroke-width="1.1"/>
<circle cx="675.4" cy="246.1" r="2.25" fill="none" stroke="#000" stroke-width="1.1"/>
<circle cx="716.5" cy="213.9" r="2.25" fill="none" stroke="#000" stroke-width="1.1"/>
<circle cx="720.3" cy="217.7" r="2.25" fill="none" stroke="#000" stroke-width="1.1"/>
<circle cx="725.4" cy="224.0" r="2.25" fill="none" stroke="#000" stroke-width="1.1"/>
<circle cx="729.2" cy="227.8" r="2.25" fill="none" stroke="#000" stroke-width="1.1"/>
<circle cx="733.0" cy="231.6" r="2.25" fill="none" stroke="#000" stroke-width="1.1"/>
<circle cx="736.8" cy="240.4" r="2.25" fill="none" stroke="#000" stroke-width="1.1"/>
<circle cx="734.2" cy="245.5" r="2.25" fill="none" stroke="#000" stroke-width="1.1"/>
<circle cx="733.0" cy="250.6" r="2.25" fill="none" stroke="#000" stroke-width="1.1"/>
<circle cx="679.2" cy="250.6" r="2.25" fill="none" stroke="#000" stroke-width="1.1"/>
<circle cx="693.1" cy="251.9" r="2.25" fill="none" stroke="#000" stroke-width="1.1"/>
<circle cx="698.8" cy="251.2" r="2.25" fill="none" stroke="#000" stroke-width="1.1"/>
<circle cx="693.1" cy="260.1" r="2.25" fill="none" stroke="#000" stroke-width="1.1"/>
<circle cx="703.9" cy="259.5" r="2.25" fill="none" stroke="#000" stroke-width="1.1"/>
<circle cx="703.9" cy="261.4" r="2.25" fill="none" stroke="#000" stroke-width="1.1"/>
<circle cx="707.7" cy="253.8" r="2.25" fill="none" stroke="#000" stroke-width="1.1"/>
<circle cx="713.3" cy="255.7" r="2.25" fill="none" stroke="#000" stroke-width="1.1"/>
<circle cx="713.3" cy="260.1" r="2.25" fill="none" stroke="#000" stroke-width="1.1"/>
<circle cx="713.3" cy="263.3" r="2.25" fill="none" stroke="#000" stroke-width="1.1"/>
<circle cx="717.1" cy="251.9" r="2.25" fill="none" stroke="#000" stroke-width="1.1"/>
<circle cx="719.7" cy="255.7" r="2.25" fill="none" stroke="#000" stroke-width="1.1"/>
<circle cx="719.7" cy="258.8" r="2.25" fill="none" stroke="#000" stroke-width="1.1"/>
<circle cx="713.3" cy="277.2" r="2.25" fill="none" stroke="#000" stroke-width="1.1"/>
<circle cx="723.5" cy="264.5" r="2.25" fill="none" stroke="#000" stroke-width="1.1"/>
<circle cx="724.1" cy="263.3" r="2.25" fill="none" stroke="#000" stroke-width="1.1"/>
<circle cx="719.7" cy="268.3" r="2.25" fill="none" stroke="#000" stroke-width="1.1"/>
<circle cx="727.9" cy="261.4" r="2.25" fill="none" stroke="#000" stroke-width="1.1"/>
<circle cx="729.8" cy="254.4" r="2.25" fill="none" stroke="#000" stroke-width="1.1"/>
<circle cx="733.6" cy="258.2" r="2.25" fill="none" stroke="#000" stroke-width="1.1"/>
<circle cx="738.0" cy="256.9" r="2.25" fill="none" stroke="#000" stroke-width="1.1"/>
<circle cx="726.0" cy="253.8" r="2.25" fill="none" stroke="#000" stroke-width="1.1"/>
<circle cx="731.7" cy="251.9" r="2.25" fill="none" stroke="#000" stroke-width="1.1"/>
<circle cx="743.7" cy="262.0" r="2.25" fill="none" stroke="#000" stroke-width="1.1"/>
<circle cx="749.4" cy="251.9" r="2.25" fill="none" stroke="#000" stroke-width="1.1"/>
<circle cx="749.4" cy="255.0" r="2.25" fill="none" stroke="#000" stroke-width="1.1"/>
<circle cx="752.6" cy="258.8" r="2.25" fill="none" stroke="#000" stroke-width="1.1"/>
<circle cx="749.4" cy="260.1" r="2.25" fill="none" stroke="#000" stroke-width="1.1"/>
<circle cx="751.9" cy="263.3" r="2.25" fill="none" stroke="#000" stroke-width="1.1"/>
<circle cx="749.4" cy="266.4" r="2.25" fill="none" stroke="#000" stroke-width="1.1"/>
<circle cx="749.4" cy="269.6" r="2.25" fill="none" stroke="#000" stroke-width="1.1"/>
<circle cx="749.4" cy="275.9" r="2.25" fill="none" stroke="#000" stroke-width="1.1"/>
<circle cx="762.1" cy="265.8" r="2.25" fill="none" stroke="#000" stroke-width="1.1"/>
<circle cx="759.5" cy="250.6" r="2.25" fill="none" stroke="#000" stroke-width="1.1"/>
<circle cx="746.9" cy="250.6" r="2.25" fill="none" stroke="#000" stroke-width="1.1"/>
<circle cx="598.9" cy="204.6" r="2.25" fill="none" stroke="#000" stroke-width="1.1"/>
<circle cx="598.9" cy="221.3" r="2.25" fill="none" stroke="#000" stroke-width="1.1"/>
<circle cx="598.9" cy="237.8" r="2.25" fill="none" stroke="#000" stroke-width="1.1"/>
<circle cx="600.9" cy="206.4" r="2.25" fill="none" stroke="#000" stroke-width="1.1"/>
<circle cx="600.9" cy="223.3" r="2.25" fill="none" stroke="#000" stroke-width="1.1"/>
<circle cx="600.9" cy="239.8" r="2.25" fill="none" stroke="#000" stroke-width="1.1"/>
<circle cx="602.9" cy="199.1" r="2.25" fill="none" stroke="#000" stroke-width="1.1"/>
<circle cx="602.9" cy="215.0" r="2.25" fill="none" stroke="#000" stroke-width="1.1"/>
<circle cx="602.9" cy="233.5" r="2.25" fill="none" stroke="#000" stroke-width="1.1"/>
<circle cx="604.9" cy="195.6" r="2.25" fill="none" stroke="#000" stroke-width="1.1"/>
<circle cx="604.9" cy="214.6" r="2.25" fill="none" stroke="#000" stroke-width="1.1"/>
<circle cx="604.9" cy="231.0" r="2.25" fill="none" stroke="#000" stroke-width="1.1"/>
<circle cx="606.9" cy="207.4" r="2.25" fill="none" stroke="#000" stroke-width="1.1"/>
<circle cx="606.9" cy="233.5" r="2.25" fill="none" stroke="#000" stroke-width="1.1"/>
<circle cx="608.9" cy="195.5" r="2.25" fill="none" stroke="#000" stroke-width="1.1"/>
<circle cx="608.9" cy="211.3" r="2.25" fill="none" stroke="#000" stroke-width="1.1"/>
<circle cx="608.9" cy="227.9" r="2.25" fill="none" stroke="#000" stroke-width="1.1"/>
<circle cx="610.9" cy="195.6" r="2.25" fill="none" stroke="#000" stroke-width="1.1"/>
<circle cx="610.9" cy="211.6" r="2.25" fill="none" stroke="#000" stroke-width="1.1"/>
<circle cx="610.9" cy="228.8" r="2.25" fill="none" stroke="#000" stroke-width="1.1"/>
<circle cx="612.9" cy="200.2" r="2.25" fill="none" stroke="#000" stroke-width="1.1"/>
<circle cx="612.9" cy="216.9" r="2.25" fill="none" stroke="#000" stroke-width="1.1"/>
<circle cx="612.9" cy="235.6" r="2.25" fill="none" stroke="#000" stroke-width="1.1"/>
<circle cx="614.9" cy="206.0" r="2.25" fill="none" stroke="#000" stroke-width="1.1"/>
<circle cx="614.9" cy="221.1" r="2.25" fill="none" stroke="#000" stroke-width="1.1"/>
<circle cx="614.9" cy="234.6" r="2.25" fill="none" stroke="#000" stroke-width="1.1"/>
<circle cx="598.9" cy="205.9" r="2.25" fill="none" stroke="#000" stroke-width="1.1"/>
<circle cx="600.9" cy="206.8" r="2.25" fill="none" stroke="#000" stroke-width="1.1"/>
<circle cx="602.9" cy="210.9" r="2.25" fill="none" stroke="#000" stroke-width="1.1"/>
<circle cx="604.9" cy="211.9" r="2.25" fill="none" stroke="#000" stroke-width="1.1"/>
<circle cx="604.9" cy="220.5" r="2.25" fill="none" stroke="#000" stroke-width="1.1"/>
<circle cx="606.9" cy="216.4" r="2.25" fill="none" stroke="#000" stroke-width="1.1"/>
<circle cx="608.9" cy="206.1" r="2.25" fill="none" stroke="#000" stroke-width="1.1"/>
<circle cx="664.9" cy="233.4" r="2.25" fill="none" stroke="#000" stroke-width="1.1"/>
<circle cx="666.9" cy="221.9" r="2.25" fill="none" stroke="#000" stroke-width="1.1"/>
<circle cx="668.9" cy="210.3" r="2.25" fill="none" stroke="#000" stroke-width="1.1"/>
<circle cx="668.9" cy="226.8" r="2.25" fill="none" stroke="#000" stroke-width="1.1"/>
<circle cx="670.9" cy="204.8" r="2.25" fill="none" stroke="#000" stroke-width="1.1"/>
<circle cx="670.9" cy="225.0" r="2.25" fill="none" stroke="#000" stroke-width="1.1"/>
<circle cx="672.9" cy="215.3" r="2.25" fill="none" stroke="#000" stroke-width="1.1"/>
<circle cx="672.9" cy="234.8" r="2.25" fill="none" stroke="#000" stroke-width="1.1"/>
<circle cx="674.9" cy="215.4" r="2.25" fill="none" stroke="#000" stroke-width="1.1"/>
<circle cx="674.9" cy="229.6" r="2.25" fill="none" stroke="#000" stroke-width="1.1"/>
<circle cx="674.9" cy="243.5" r="2.25" fill="none" stroke="#000" stroke-width="1.1"/>
<circle cx="676.9" cy="212.4" r="2.25" fill="none" stroke="#000" stroke-width="1.1"/>
<circle cx="676.9" cy="233.3" r="2.25" fill="none" stroke="#000" stroke-width="1.1"/>
<circle cx="678.9" cy="218.1" r="2.25" fill="none" stroke="#000" stroke-width="1.1"/>
<circle cx="678.9" cy="240.1" r="2.25" fill="none" stroke="#000" stroke-width="1.1"/>
<circle cx="680.9" cy="220.2" r="2.25" fill="none" stroke="#000" stroke-width="1.1"/>
<circle cx="680.9" cy="242.9" r="2.25" fill="none" stroke="#000" stroke-width="1.1"/>
<circle cx="682.9" cy="206.9" r="2.25" fill="none" stroke="#000" stroke-width="1.1"/>
<circle cx="682.9" cy="230.9" r="2.25" fill="none" stroke="#000" stroke-width="1.1"/>
<circle cx="684.9" cy="207.0" r="2.25" fill="none" stroke="#000" stroke-width="1.1"/>
<circle cx="684.9" cy="231.3" r="2.25" fill="none" stroke="#000" stroke-width="1.1"/>
<circle cx="686.9" cy="207.5" r="2.25" fill="none" stroke="#000" stroke-width="1.1"/>
<circle cx="686.9" cy="224.7" r="2.25" fill="none" stroke="#000" stroke-width="1.1"/>
<circle cx="686.9" cy="240.3" r="2.25" fill="none" stroke="#000" stroke-width="1.1"/>
<circle cx="688.9" cy="207.2" r="2.25" fill="none" stroke="#000" stroke-width="1.1"/>
<circle cx="688.9" cy="225.2" r="2.25" fill="none" stroke="#000" stroke-width="1.1"/>
<circle cx="688.9" cy="241.7" r="2.25" fill="none" stroke="#000" stroke-width="1.1"/>
<circle cx="690.9" cy="205.8" r="2.25" fill="none" stroke="#000" stroke-width="1.1"/>
<circle cx="690.9" cy="222.6" r="2.25" fill="none" stroke="#000" stroke-width="1.1"/>
<circle cx="690.9" cy="239.8" r="2.25" fill="none" stroke="#000" stroke-width="1.1"/>
<circle cx="692.9" cy="214.1" r="2.25" fill="none" stroke="#000" stroke-width="1.1"/>
<circle cx="692.9" cy="230.4" r="2.25" fill="none" stroke="#000" stroke-width="1.1"/>
<circle cx="692.9" cy="248.0" r="2.25" fill="none" stroke="#000" stroke-width="1.1"/>
<circle cx="694.9" cy="220.3" r="2.25" fill="none" stroke="#000" stroke-width="1.1"/>
<circle cx="694.9" cy="237.9" r="2.25" fill="none" stroke="#000" stroke-width="1.1"/>
<circle cx="694.9" cy="253.9" r="2.25" fill="none" stroke="#000" stroke-width="1.1"/>
<circle cx="696.9" cy="223.7" r="2.25" fill="none" stroke="#000" stroke-width="1.1"/>
<circle cx="696.9" cy="248.6" r="2.25" fill="none" stroke="#000" stroke-width="1.1"/>
<circle cx="698.9" cy="220.6" r="2.25" fill="none" stroke="#000" stroke-width="1.1"/>
<circle cx="698.9" cy="245.3" r="2.25" fill="none" stroke="#000" stroke-width="1.1"/>
<circle cx="700.9" cy="222.8" r="2.25" fill="none" stroke="#000" stroke-width="1.1"/>
<circle cx="700.9" cy="239.1" r="2.25" fill="none" stroke="#000" stroke-width="1.1"/>
<circle cx="700.9" cy="255.6" r="2.25" fill="none" stroke="#000" stroke-width="1.1"/>
<circle cx="702.9" cy="211.5" r="2.25" fill="none" stroke="#000" stroke-width="1.1"/>
<circle cx="702.9" cy="228.3" r="2.25" fill="none" stroke="#000" stroke-width="1.1"/>
<circle cx="702.9" cy="243.5" r="2.25" fill="none" stroke="#000" stroke-width="1.1"/>
<circle cx="704.9" cy="216.3" r="2.25" fill="none" stroke="#000" stroke-width="1.1"/>
<circle cx="704.9" cy="233.6" r="2.25" fill="none" stroke="#000" stroke-width="1.1"/>
<circle cx="704.9" cy="250.6" r="2.25" fill="none" stroke="#000" stroke-width="1.1"/>
<circle cx="706.9" cy="216.9" r="2.25" fill="none" stroke="#000" stroke-width="1.1"/>
<circle cx="706.9" cy="232.2" r="2.25" fill="none" stroke="#000" stroke-width="1.1"/>
<circle cx="706.9" cy="248.3" r="2.25" fill="none" stroke="#000" stroke-width="1.1"/>
<circle cx="708.9" cy="230.5" r="2.25" fill="none" stroke="#000" stroke-width="1.1"/>
<circle cx="708.9" cy="254.2" r="2.25" fill="none" stroke="#000" stroke-width="1.1"/>
<circle cx="710.9" cy="228.2" r="2.25" fill="none" stroke="#000" stroke-width="1.1"/>
<circle cx="710.9" cy="251.6" r="2.25" fill="none" stroke="#000" stroke-width="1.1"/>
<circle cx="712.9" cy="216.4" r="2.25" fill="none" stroke="#000" stroke-width="1.1"/>
<circle cx="712.9" cy="232.8" r="2.25" fill="none" stroke="#000" stroke-width="1.1"/>
<circle cx="712.9" cy="248.0" r="2.25" fill="none" stroke="#000" stroke-width="1.1"/>
<circle cx="714.9" cy="231.2" r="2.25" fill="none" stroke="#000" stroke-width="1.1"/>
<circle cx="714.9" cy="255.4" r="2.25" fill="none" stroke="#000" stroke-width="1.1"/>
<circle cx="716.9" cy="227.3" r="2.25" fill="none" stroke="#000" stroke-width="1.1"/>
<circle cx="716.9" cy="248.9" r="2.25" fill="none" stroke="#000" stroke-width="1.1"/>
<circle cx="718.9" cy="216.7" r="2.25" fill="none" stroke="#000" stroke-width="1.1"/>
<circle cx="718.9" cy="239.0" r="2.25" fill="none" stroke="#000" stroke-width="1.1"/>
<circle cx="720.9" cy="228.2" r="2.25" fill="none" stroke="#000" stroke-width="1.1"/>
<circle cx="720.9" cy="249.7" r="2.25" fill="none" stroke="#000" stroke-width="1.1"/>
<circle cx="722.9" cy="217.4" r="2.25" fill="none" stroke="#000" stroke-width="1.1"/>
<circle cx="722.9" cy="239.0" r="2.25" fill="none" stroke="#000" stroke-width="1.1"/>
<circle cx="724.9" cy="235.6" r="2.25" fill="none" stroke="#000" stroke-width="1.1"/>
<circle cx="724.9" cy="256.6" r="2.25" fill="none" stroke="#000" stroke-width="1.1"/>
<circle cx="726.9" cy="228.7" r="2.25" fill="none" stroke="#000" stroke-width="1.1"/>
<circle cx="726.9" cy="247.2" r="2.25" fill="none" stroke="#000" stroke-width="1.1"/>
<circle cx="728.9" cy="230.8" r="2.25" fill="none" stroke="#000" stroke-width="1.1"/>
<circle cx="728.9" cy="248.9" r="2.25" fill="none" stroke="#000" stroke-width="1.1"/>
<circle cx="730.9" cy="231.7" r="2.25" fill="none" stroke="#000" stroke-width="1.1"/>
<circle cx="730.9" cy="250.6" r="2.25" fill="none" stroke="#000" stroke-width="1.1"/>
<circle cx="732.9" cy="239.7" r="2.25" fill="none" stroke="#000" stroke-width="1.1"/>
<circle cx="732.9" cy="255.8" r="2.25" fill="none" stroke="#000" stroke-width="1.1"/>
<circle cx="734.9" cy="247.5" r="2.25" fill="none" stroke="#000" stroke-width="1.1"/>
<circle cx="736.9" cy="231.9" r="2.25" fill="none" stroke="#000" stroke-width="1.1"/>
<circle cx="736.9" cy="245.1" r="2.25" fill="none" stroke="#000" stroke-width="1.1"/>
<circle cx="738.9" cy="236.7" r="2.25" fill="none" stroke="#000" stroke-width="1.1"/>
<circle cx="740.9" cy="243.3" r="2.25" fill="none" stroke="#000" stroke-width="1.1"/>
<circle cx="674.9" cy="224.3" r="2.25" fill="none" stroke="#000" stroke-width="1.1"/>
<circle cx="674.9" cy="239.0" r="2.25" fill="none" stroke="#000" stroke-width="1.1"/>
<circle cx="676.9" cy="222.3" r="2.25" fill="none" stroke="#000" stroke-width="1.1"/>
<circle cx="676.9" cy="237.1" r="2.25" fill="none" stroke="#000" stroke-width="1.1"/>
<circle cx="678.9" cy="224.6" r="2.25" fill="none" stroke="#000" stroke-width="1.1"/>
<circle cx="678.9" cy="238.3" r="2.25" fill="none" stroke="#000" stroke-width="1.1"/>
<circle cx="680.9" cy="227.8" r="2.25" fill="none" stroke="#000" stroke-width="1.1"/>
<circle cx="680.9" cy="239.9" r="2.25" fill="none" stroke="#000" stroke-width="1.1"/>
<circle cx="682.9" cy="229.2" r="2.25" fill="none" stroke="#000" stroke-width="1.1"/>
<circle cx="682.9" cy="242.7" r="2.25" fill="none" stroke="#000" stroke-width="1.1"/>
<circle cx="684.9" cy="228.3" r="2.25" fill="none" stroke="#000" stroke-width="1.1"/>
<circle cx="684.9" cy="244.0" r="2.25" fill="none" stroke="#000" stroke-width="1.1"/>
<circle cx="686.9" cy="217.8" r="2.25" fill="none" stroke="#000" stroke-width="1.1"/>
<circle cx="686.9" cy="232.3" r="2.25" fill="none" stroke="#000" stroke-width="1.1"/>
<circle cx="688.9" cy="222.4" r="2.25" fill="none" stroke="#000" stroke-width="1.1"/>
<circle cx="688.9" cy="237.2" r="2.25" fill="none" stroke="#000" stroke-width="1.1"/>
<circle cx="690.9" cy="229.1" r="2.25" fill="none" stroke="#000" stroke-width="1.1"/>
<circle cx="690.9" cy="244.2" r="2.25" fill="none" stroke="#000" stroke-width="1.1"/>
<circle cx="692.9" cy="229.7" r="2.25" fill="none" stroke="#000" stroke-width="1.1"/>
<circle cx="692.9" cy="245.3" r="2.25" fill="none" stroke="#000" stroke-width="1.1"/>
<circle cx="694.9" cy="221.8" r="2.25" fill="none" stroke="#000" stroke-width="1.1"/>
<circle cx="694.9" cy="237.6" r="2.25" fill="none" stroke="#000" stroke-width="1.1"/>
<circle cx="696.9" cy="222.0" r="2.25" fill="none" stroke="#000" stroke-width="1.1"/>
<circle cx="696.9" cy="232.5" r="2.25" fill="none" stroke="#000" stroke-width="1.1"/>
<circle cx="696.9" cy="243.6" r="2.25" fill="none" stroke="#000" stroke-width="1.1"/>
<circle cx="698.9" cy="232.6" r="2.25" fill="none" stroke="#000" stroke-width="1.1"/>
<circle cx="698.9" cy="249.4" r="2.25" fill="none" stroke="#000" stroke-width="1.1"/>
<circle cx="700.9" cy="230.6" r="2.25" fill="none" stroke="#000" stroke-width="1.1"/>
<circle cx="700.9" cy="246.2" r="2.25" fill="none" stroke="#000" stroke-width="1.1"/>
<circle cx="702.9" cy="223.1" r="2.25" fill="none" stroke="#000" stroke-width="1.1"/>
<circle cx="702.9" cy="239.5" r="2.25" fill="none" stroke="#000" stroke-width="1.1"/>
<circle cx="704.9" cy="231.9" r="2.25" fill="none" stroke="#000" stroke-width="1.1"/>
<circle cx="704.9" cy="248.4" r="2.25" fill="none" stroke="#000" stroke-width="1.1"/>
<circle cx="706.9" cy="223.4" r="2.25" fill="none" stroke="#000" stroke-width="1.1"/>
<circle cx="706.9" cy="240.2" r="2.25" fill="none" stroke="#000" stroke-width="1.1"/>
<circle cx="708.9" cy="234.1" r="2.25" fill="none" stroke="#000" stroke-width="1.1"/>
<circle cx="708.9" cy="250.0" r="2.25" fill="none" stroke="#000" stroke-width="1.1"/>
<circle cx="710.9" cy="225.9" r="2.25" fill="none" stroke="#000" stroke-width="1.1"/>
<circle cx="710.9" cy="236.5" r="2.25" fill="none" stroke="#000" stroke-width="1.1"/>
<circle cx="710.9" cy="247.4" r="2.25" fill="none" stroke="#000" stroke-width="1.1"/>
<circle cx="712.9" cy="232.9" r="2.25" fill="none" stroke="#000" stroke-width="1.1"/>
<circle cx="712.9" cy="243.2" r="2.25" fill="none" stroke="#000" stroke-width="1.1"/>
<circle cx="712.9" cy="252.7" r="2.25" fill="none" stroke="#000" stroke-width="1.1"/>
<circle cx="714.9" cy="229.1" r="2.25" fill="none" stroke="#000" stroke-width="1.1"/>
<circle cx="714.9" cy="243.7" r="2.25" fill="none" stroke="#000" stroke-width="1.1"/>
<circle cx="716.9" cy="228.0" r="2.25" fill="none" stroke="#000" stroke-width="1.1"/>
<circle cx="716.9" cy="243.8" r="2.25" fill="none" stroke="#000" stroke-width="1.1"/>
<circle cx="718.9" cy="233.1" r="2.25" fill="none" stroke="#000" stroke-width="1.1"/>
<circle cx="718.9" cy="247.9" r="2.25" fill="none" stroke="#000" stroke-width="1.1"/>
<circle cx="720.9" cy="235.2" r="2.25" fill="none" stroke="#000" stroke-width="1.1"/>
<circle cx="720.9" cy="249.7" r="2.25" fill="none" stroke="#000" stroke-width="1.1"/>
<circle cx="722.9" cy="229.9" r="2.25" fill="none" stroke="#000" stroke-width="1.1"/>
<circle cx="722.9" cy="244.5" r="2.25" fill="none" stroke="#000" stroke-width="1.1"/>
<circle cx="724.9" cy="236.8" r="2.25" fill="none" stroke="#000" stroke-width="1.1"/>
<circle cx="724.9" cy="249.6" r="2.25" fill="none" stroke="#000" stroke-width="1.1"/>
<circle cx="726.9" cy="229.6" r="2.25" fill="none" stroke="#000" stroke-width="1.1"/>
<circle cx="726.9" cy="242.9" r="2.25" fill="none" stroke="#000" stroke-width="1.1"/>
<circle cx="728.9" cy="240.0" r="2.25" fill="none" stroke="#000" stroke-width="1.1"/>
<circle cx="728.9" cy="253.4" r="2.25" fill="none" stroke="#000" stroke-width="1.1"/>
<circle cx="730.9" cy="231.0" r="2.25" fill="none" stroke="#000" stroke-width="1.1"/>
<circle cx="730.9" cy="242.1" r="2.25" fill="none" stroke="#000" stroke-width="1.1"/>
<circle cx="732.9" cy="244.7" r="2.25" fill="none" stroke="#000" stroke-width="1.1"/>
<circle cx="734.9" cy="242.9" r="2.25" fill="none" stroke="#000" stroke-width="1.1"/>
<circle cx="734.9" cy="253.6" r="2.25" fill="none" stroke="#000" stroke-width="1.1"/>
<polyline points="61.3,64.9 65.9,64.4 70.4,63.9 74.9,63.6 79.4,63.4 83.9,63.3 88.5,63.3 93.0,63.4 97.5,63.6 102.0,64.0 106.5,64.4 111.1,64.9 115.6,65.5 120.1,66.3 124.6,67.1 129.1,68.0 133.6,69.1 138.2,70.2 142.7,71.5 147.2,72.8 151.7,74.3 156.2,75.9 160.8,77.6 165.3,79.3 169.8,81.2 174.3,83.2 178.8,85.3 183.4,87.5 187.9,89.8 192.4,92.2 196.9,94.7 201.4,97.3 205.9,100.0 210.5,102.8 215.0,105.8 219.5,108.8 224.0,111.9 228.5,115.2 233.1,118.5 237.6,122.0 242.1,125.5" fill="none" stroke="#fff" stroke-width="0.8" stroke-dasharray="1.1 1.9" stroke-dashoffset="-1.7"/>
<polyline points="61.3,64.9 65.9,64.4 70.4,63.9 74.9,63.6 79.4,63.4 83.9,63.3 88.5,63.3 93.0,63.4 97.5,63.6 102.0,64.0 106.5,64.4 111.1,64.9 115.6,65.5 120.1,66.3 124.6,67.1 129.1,68.0 133.6,69.1 138.2,70.2 142.7,71.5 147.2,72.8 151.7,74.3 156.2,75.9 160.8,77.6 165.3,79.3 169.8,81.2 174.3,83.2 178.8,85.3 183.4,87.5 187.9,89.8 192.4,92.2 196.9,94.7 201.4,97.3 205.9,100.0 210.5,102.8 215.0,105.8 219.5,108.8 224.0,111.9 228.5,115.2 233.1,118.5 237.6,122.0 242.1,125.5" fill="none" stroke="#000" stroke-width="1.4" stroke-dasharray="1.5 1.5"/>
<polyline points="324.6,60.7 329.1,59.9 333.6,59.2 338.1,58.7 342.6,58.2 347.1,57.9 351.7,57.7 356.2,57.6 360.7,57.7 365.2,57.9 369.7,58.1 374.2,58.6 378.7,59.1 383.2,59.7 387.7,60.5 392.2,61.4 396.8,62.4 401.3,63.6 405.8,64.8 410.3,66.2 414.8,67.7 419.3,69.3 423.8,71.0 428.3,72.9 432.8,74.9 437.3,77.0 441.9,79.2 446.4,81.6 450.9,84.0 455.4,86.6 459.9,89.3 464.4,92.1 468.9,95.1 473.4,98.2 477.9,101.3 482.4,104.7 487.0,108.1 491.5,111.6 496.0,115.3 500.5,119.1 505.0,123.0" fill="none" stroke="#fff" stroke-width="0.8" stroke-dasharray="1.1 1.9" stroke-dashoffset="-1.7"/>
<polyline points="324.6,60.7 329.1,59.9 333.6,59.2 338.1,58.7 342.6,58.2 347.1,57.9 351.7,57.7 356.2,57.6 360.7,57.7 365.2,57.9 369.7,58.1 374.2,58.6 378.7,59.1 383.2,59.7 387.7,60.5 392.2,61.4 396.8,62.4 401.3,63.6 405.8,64.8 410.3,66.2 414.8,67.7 419.3,69.3 423.8,71.0 428.3,72.9 432.8,74.9 437.3,77.0 441.9,79.2 446.4,81.6 450.9,84.0 455.4,86.6 459.9,89.3 464.4,92.1 468.9,95.1 473.4,98.2 477.9,101.3 482.4,104.7 487.0,108.1 491.5,111.6 496.0,115.3 500.5,119.1 505.0,123.0" fill="none" stroke="#000" stroke-width="1.4" stroke-dasharray="1.5 1.5"/>
<polyline points="588.5,59.5 593.0,58.7 597.5,58.0 602.0,57.4 606.5,57.0 611.0,56.7 615.6,56.5 620.1,56.4 624.6,56.5 629.1,56.6 633.6,56.9 638.1,57.3 642.6,57.9 647.1,58.5 651.6,59.3 656.1,60.2 660.7,61.2 665.2,62.3 669.7,63.6 674.2,65.0 678.7,66.5 683.2,68.1 687.7,69.8 692.2,71.7 696.7,73.7 701.2,75.8 705.8,78.0 710.3,80.3 714.8,82.8 719.3,85.4 723.8,88.1 728.3,90.9 732.8,93.9 737.3,96.9 741.8,100.1 746.3,103.4 750.9,106.9 755.4,110.4 759.9,114.1 764.4,117.9 768.9,121.8" fill="none" stroke="#fff" stroke-width="0.8" stroke-dasharray="1.1 1.9" stroke-dashoffset="-1.7"/>
<polyline points="588.5,59.5 593.0,58.7 597.5,58.0 602.0,57.4 606.5,57.0 611.0,56.7 615.6,56.5 620.1,56.4 624.6,56.5 629.1,56.6 633.6,56.9 638.1,57.3 642.6,57.9 647.1,58.5 651.6,59.3 656.1,60.2 660.7,61.2 665.2,62.3 669.7,63.6 674.2,65.0 678.7,66.5 683.2,68.1 687.7,69.8 692.2,71.7 696.7,73.7 701.2,75.8 705.8,78.0 710.3,80.3 714.8,82.8 719.3,85.4 723.8,88.1 728.3,90.9 732.8,93.9 737.3,96.9 741.8,100.1 746.3,103.4 750.9,106.9 755.4,110.4 759.9,114.1 764.4,117.9 768.9,121.8" fill="none" stroke="#000" stroke-width="1.4" stroke-dasharray="1.5 1.5"/>
<polyline points="61.3,224.8 65.8,224.5 70.3,224.2 74.8,223.9 79.3,223.8 83.8,223.7 88.3,223.7 92.8,223.7 97.3,223.8 101.8,224.0 106.3,224.2 110.8,224.5 115.3,224.9 119.8,225.3 124.3,225.8 128.7,226.4 133.2,227.1 137.7,227.8 142.2,228.5 146.7,229.4 151.2,230.3 155.7,231.3 160.2,232.3 164.7,233.4 169.2,234.6 173.7,235.9 178.2,237.2 182.7,238.5 187.2,240.0 191.7,241.5 196.2,243.1 200.6,244.7 205.1,246.4 209.6,248.2 214.1,250.1 218.6,252.0 223.1,254.0 227.6,256.0 232.1,258.1 236.6,260.3 241.1,262.6" fill="none" stroke="#000" stroke-width="1.4" stroke-dasharray="1.5 1.5"/>
<polyline points="325.2,220.3 329.8,219.8 334.3,219.5 338.8,219.2 343.4,219.0 347.9,218.8 352.4,218.8 357.0,218.8 361.5,218.9 366.0,219.0 370.6,219.3 375.1,219.6 379.6,220.0 384.2,220.4 388.7,220.9 393.2,221.6 397.7,222.2 402.3,223.0 406.8,223.8 411.3,224.7 415.9,225.7 420.4,226.7 424.9,227.9 429.5,229.0 434.0,230.3 438.5,231.7 443.1,233.1 447.6,234.6 452.1,236.1 456.7,237.8 461.2,239.5 465.7,241.3 470.3,243.1 474.8,245.1 479.3,247.1 483.8,249.2 488.4,251.3 492.9,253.6 497.4,255.9 502.0,258.3 506.5,260.7" fill="none" stroke="#000" stroke-width="1.4" stroke-dasharray="1.5 1.5"/>
<polyline points="588.9,219.4 593.4,218.9 597.9,218.6 602.5,218.3 607.0,218.1 611.5,217.9 616.0,217.9 620.5,217.9 625.1,218.0 629.6,218.1 634.1,218.4 638.6,218.7 643.1,219.1 647.7,219.5 652.2,220.0 656.7,220.7 661.2,221.3 665.7,222.1 670.3,222.9 674.8,223.8 679.3,224.8 683.8,225.8 688.3,227.0 692.9,228.1 697.4,229.4 701.9,230.8 706.4,232.2 710.9,233.7 715.5,235.2 720.0,236.9 724.5,238.6 729.0,240.4 733.5,242.2 738.1,244.2 742.6,246.2 747.1,248.3 751.6,250.4 756.1,252.7 760.7,255.0 765.2,257.4 769.7,259.8" fill="none" stroke="#000" stroke-width="1.4" stroke-dasharray="1.5 1.5"/>
<line x1="41.6" y1="3.6" x2="41.6" y2="138.0" stroke="#000" stroke-width="1.2"/>
<line x1="41.0" y1="3.6" x2="44.6" y2="3.6" stroke="#000" stroke-width="1.1"/>
<text x="29.7" y="7.4" text-anchor="end" font-size="10.5" stroke="#000" stroke-width="0.35" font-family='"Liberation Serif", serif'>10.0</text>
<line x1="41.0" y1="37.2" x2="44.6" y2="37.2" stroke="#000" stroke-width="1.1"/>
<text x="29.7" y="41.0" text-anchor="end" font-size="10.5" stroke="#000" stroke-width="0.35" font-family='"Liberation Serif", serif'>8.0</text>
<line x1="41.0" y1="70.8" x2="44.6" y2="70.8" stroke="#000" stroke-width="1.1"/>
<text x="29.7" y="74.6" text-anchor="end" font-size="10.5" stroke="#000" stroke-width="0.35" font-family='"Liberation Serif", serif'>6.0</text>
<line x1="41.0" y1="104.4" x2="44.6" y2="104.4" stroke="#000" stroke-width="1.1"/>
<text x="29.7" y="108.2" text-anchor="end" font-size="10.5" stroke="#000" stroke-width="0.35" font-family='"Liberation Serif", serif'>4.0</text>
<line x1="41.0" y1="138.0" x2="44.6" y2="138.0" stroke="#000" stroke-width="1.1"/>
<text x="29.7" y="141.8" text-anchor="end" font-size="10.5" stroke="#000" stroke-width="0.35" font-family='"Liberation Serif", serif'>2.0</text>
<line x1="305.4" y1="20.3" x2="305.4" y2="147.3" stroke="#000" stroke-width="1.2"/>
<line x1="304.79999999999995" y1="20.3" x2="308.4" y2="20.3" stroke="#000" stroke-width="1.1"/>
<text x="294.0" y="24.1" text-anchor="end" font-size="10.5" stroke="#000" stroke-width="0.35" font-family='"Liberation Serif", serif'>0.70</text>
<line x1="304.79999999999995" y1="45.7" x2="308.4" y2="45.7" stroke="#000" stroke-width="1.1"/>
<text x="294.0" y="49.5" text-anchor="end" font-size="10.5" stroke="#000" stroke-width="0.35" font-family='"Liberation Serif", serif'>0.75</text>
<line x1="304.79999999999995" y1="71.1" x2="308.4" y2="71.1" stroke="#000" stroke-width="1.1"/>
<text x="294.0" y="74.9" text-anchor="end" font-size="10.5" stroke="#000" stroke-width="0.35" font-family='"Liberation Serif", serif'>0.80</text>
<line x1="304.79999999999995" y1="96.5" x2="308.4" y2="96.5" stroke="#000" stroke-width="1.1"/>
<text x="294.0" y="100.3" text-anchor="end" font-size="10.5" stroke="#000" stroke-width="0.35" font-family='"Liberation Serif", serif'>0.85</text>
<line x1="304.79999999999995" y1="121.9" x2="308.4" y2="121.9" stroke="#000" stroke-width="1.1"/>
<text x="294.0" y="125.7" text-anchor="end" font-size="10.5" stroke="#000" stroke-width="0.35" font-family='"Liberation Serif", serif'>0.90</text>
<line x1="304.79999999999995" y1="147.3" x2="308.4" y2="147.3" stroke="#000" stroke-width="1.1"/>
<text x="294.0" y="151.1" text-anchor="end" font-size="10.5" stroke="#000" stroke-width="0.35" font-family='"Liberation Serif", serif'>0.95</text>
<line x1="568.6" y1="20.3" x2="568.6" y2="147.3" stroke="#000" stroke-width="1.2"/>
<line x1="568.0" y1="20.3" x2="571.6" y2="20.3" stroke="#000" stroke-width="1.1"/>
<text x="558.0" y="24.1" text-anchor="end" font-size="10.5" stroke="#000" stroke-width="0.35" font-family='"Liberation Serif", serif'>0.70</text>
<line x1="568.0" y1="45.7" x2="571.6" y2="45.7" stroke="#000" stroke-width="1.1"/>
<text x="558.0" y="49.5" text-anchor="end" font-size="10.5" stroke="#000" stroke-width="0.35" font-family='"Liberation Serif", serif'>0.75</text>
<line x1="568.0" y1="71.1" x2="571.6" y2="71.1" stroke="#000" stroke-width="1.1"/>
<text x="558.0" y="74.9" text-anchor="end" font-size="10.5" stroke="#000" stroke-width="0.35" font-family='"Liberation Serif", serif'>0.80</text>
<line x1="568.0" y1="96.5" x2="571.6" y2="96.5" stroke="#000" stroke-width="1.1"/>
<text x="558.0" y="100.3" text-anchor="end" font-size="10.5" stroke="#000" stroke-width="0.35" font-family='"Liberation Serif", serif'>0.85</text>
<line x1="568.0" y1="121.9" x2="571.6" y2="121.9" stroke="#000" stroke-width="1.1"/>
<text x="558.0" y="125.7" text-anchor="end" font-size="10.5" stroke="#000" stroke-width="0.35" font-family='"Liberation Serif", serif'>0.90</text>
<line x1="568.0" y1="147.3" x2="571.6" y2="147.3" stroke="#000" stroke-width="1.1"/>
<text x="558.0" y="151.1" text-anchor="end" font-size="10.5" stroke="#000" stroke-width="0.35" font-family='"Liberation Serif", serif'>0.95</text>
<line x1="41.6" y1="179.0" x2="41.6" y2="280.0" stroke="#000" stroke-width="1.2"/>
<line x1="41.0" y1="179.0" x2="44.6" y2="179.0" stroke="#000" stroke-width="1.1"/>
<text x="29.7" y="182.8" text-anchor="end" font-size="10.5" stroke="#000" stroke-width="0.35" font-family='"Liberation Serif", serif'>8.0</text>
<line x1="41.0" y1="212.7" x2="44.6" y2="212.7" stroke="#000" stroke-width="1.1"/>
<text x="29.7" y="216.5" text-anchor="end" font-size="10.5" stroke="#000" stroke-width="0.35" font-family='"Liberation Serif", serif'>6.0</text>
<line x1="41.0" y1="246.3" x2="44.6" y2="246.3" stroke="#000" stroke-width="1.1"/>
<text x="29.7" y="250.1" text-anchor="end" font-size="10.5" stroke="#000" stroke-width="0.35" font-family='"Liberation Serif", serif'>4.0</text>
<line x1="41.0" y1="280.0" x2="44.6" y2="280.0" stroke="#000" stroke-width="1.1"/>
<text x="29.7" y="283.8" text-anchor="end" font-size="10.5" stroke="#000" stroke-width="0.35" font-family='"Liberation Serif", serif'>2.0</text>
<line x1="41.6" y1="300.4" x2="243.1" y2="300.4" stroke="#000" stroke-width="1.2"/>
<line x1="41.6" y1="301.0" x2="41.6" y2="297.4" stroke="#000" stroke-width="1.1"/>
<text x="41.6" y="316.7" text-anchor="middle" font-size="10.5" stroke="#000" stroke-width="0.35" font-family='"Liberation Serif", serif'>0</text>
<line x1="81.9" y1="301.0" x2="81.9" y2="297.4" stroke="#000" stroke-width="1.1"/>
<text x="81.9" y="316.7" text-anchor="middle" font-size="10.5" stroke="#000" stroke-width="0.35" font-family='"Liberation Serif", serif'>20</text>
<line x1="122.2" y1="301.0" x2="122.2" y2="297.4" stroke="#000" stroke-width="1.1"/>
<text x="122.2" y="316.7" text-anchor="middle" font-size="10.5" stroke="#000" stroke-width="0.35" font-family='"Liberation Serif", serif'>40</text>
<line x1="162.5" y1="301.0" x2="162.5" y2="297.4" stroke="#000" stroke-width="1.1"/>
<text x="162.5" y="316.7" text-anchor="middle" font-size="10.5" stroke="#000" stroke-width="0.35" font-family='"Liberation Serif", serif'>60</text>
<line x1="202.8" y1="301.0" x2="202.8" y2="297.4" stroke="#000" stroke-width="1.1"/>
<text x="202.8" y="316.7" text-anchor="middle" font-size="10.5" stroke="#000" stroke-width="0.35" font-family='"Liberation Serif", serif'>80</text>
<line x1="243.1" y1="301.0" x2="243.1" y2="297.4" stroke="#000" stroke-width="1.1"/>
<text x="243.1" y="316.7" text-anchor="middle" font-size="10.5" stroke="#000" stroke-width="0.35" font-family='"Liberation Serif", serif'>100</text>
<line x1="305.5" y1="162.5" x2="305.5" y2="287.5" stroke="#000" stroke-width="1.2"/>
<line x1="304.9" y1="162.5" x2="308.5" y2="162.5" stroke="#000" stroke-width="1.1"/>
<text x="294.0" y="166.3" text-anchor="end" font-size="10.5" stroke="#000" stroke-width="0.35" font-family='"Liberation Serif", serif'>0.70</text>
<line x1="304.9" y1="187.5" x2="308.5" y2="187.5" stroke="#000" stroke-width="1.1"/>
<text x="294.0" y="191.3" text-anchor="end" font-size="10.5" stroke="#000" stroke-width="0.35" font-family='"Liberation Serif", serif'>0.75</text>
<line x1="304.9" y1="212.5" x2="308.5" y2="212.5" stroke="#000" stroke-width="1.1"/>
<text x="294.0" y="216.3" text-anchor="end" font-size="10.5" stroke="#000" stroke-width="0.35" font-family='"Liberation Serif", serif'>0.80</text>
<line x1="304.9" y1="237.5" x2="308.5" y2="237.5" stroke="#000" stroke-width="1.1"/>
<text x="294.0" y="241.3" text-anchor="end" font-size="10.5" stroke="#000" stroke-width="0.35" font-family='"Liberation Serif", serif'>0.85</text>
<line x1="304.9" y1="262.5" x2="308.5" y2="262.5" stroke="#000" stroke-width="1.1"/>
<text x="294.0" y="266.3" text-anchor="end" font-size="10.5" stroke="#000" stroke-width="0.35" font-family='"Liberation Serif", serif'>0.90</text>
<line x1="304.9" y1="287.5" x2="308.5" y2="287.5" stroke="#000" stroke-width="1.1"/>
<text x="294.0" y="291.3" text-anchor="end" font-size="10.5" stroke="#000" stroke-width="0.35" font-family='"Liberation Serif", serif'>0.95</text>
<line x1="305.6" y1="300.4" x2="506.1" y2="300.4" stroke="#000" stroke-width="1.2"/>
<line x1="305.6" y1="301.0" x2="305.6" y2="297.4" stroke="#000" stroke-width="1.1"/>
<text x="305.6" y="316.7" text-anchor="middle" font-size="10.5" stroke="#000" stroke-width="0.35" font-family='"Liberation Serif", serif'>0</text>
<line x1="345.7" y1="301.0" x2="345.7" y2="297.4" stroke="#000" stroke-width="1.1"/>
<text x="345.7" y="316.7" text-anchor="middle" font-size="10.5" stroke="#000" stroke-width="0.35" font-family='"Liberation Serif", serif'>20</text>
<line x1="385.8" y1="301.0" x2="385.8" y2="297.4" stroke="#000" stroke-width="1.1"/>
<text x="385.8" y="316.7" text-anchor="middle" font-size="10.5" stroke="#000" stroke-width="0.35" font-family='"Liberation Serif", serif'>40</text>
<line x1="425.9" y1="301.0" x2="425.9" y2="297.4" stroke="#000" stroke-width="1.1"/>
<text x="425.9" y="316.7" text-anchor="middle" font-size="10.5" stroke="#000" stroke-width="0.35" font-family='"Liberation Serif", serif'>60</text>
<line x1="466.0" y1="301.0" x2="466.0" y2="297.4" stroke="#000" stroke-width="1.1"/>
<text x="466.0" y="316.7" text-anchor="middle" font-size="10.5" stroke="#000" stroke-width="0.35" font-family='"Liberation Serif", serif'>80</text>
<line x1="506.1" y1="301.0" x2="506.1" y2="297.4" stroke="#000" stroke-width="1.1"/>
<text x="506.1" y="316.7" text-anchor="middle" font-size="10.5" stroke="#000" stroke-width="0.35" font-family='"Liberation Serif", serif'>100</text>
<line x1="568.8" y1="162.5" x2="568.8" y2="287.5" stroke="#000" stroke-width="1.2"/>
<line x1="568.1999999999999" y1="162.5" x2="571.8" y2="162.5" stroke="#000" stroke-width="1.1"/>
<text x="558.0" y="166.3" text-anchor="end" font-size="10.5" stroke="#000" stroke-width="0.35" font-family='"Liberation Serif", serif'>0.70</text>
<line x1="568.1999999999999" y1="187.5" x2="571.8" y2="187.5" stroke="#000" stroke-width="1.1"/>
<text x="558.0" y="191.3" text-anchor="end" font-size="10.5" stroke="#000" stroke-width="0.35" font-family='"Liberation Serif", serif'>0.75</text>
<line x1="568.1999999999999" y1="212.5" x2="571.8" y2="212.5" stroke="#000" stroke-width="1.1"/>
<text x="558.0" y="216.3" text-anchor="end" font-size="10.5" stroke="#000" stroke-width="0.35" font-family='"Liberation Serif", serif'>0.80</text>
<line x1="568.1999999999999" y1="237.5" x2="571.8" y2="237.5" stroke="#000" stroke-width="1.1"/>
<text x="558.0" y="241.3" text-anchor="end" font-size="10.5" stroke="#000" stroke-width="0.35" font-family='"Liberation Serif", serif'>0.85</text>
<line x1="568.1999999999999" y1="262.5" x2="571.8" y2="262.5" stroke="#000" stroke-width="1.1"/>
<text x="558.0" y="266.3" text-anchor="end" font-size="10.5" stroke="#000" stroke-width="0.35" font-family='"Liberation Serif", serif'>0.90</text>
<line x1="568.1999999999999" y1="287.5" x2="571.8" y2="287.5" stroke="#000" stroke-width="1.1"/>
<text x="558.0" y="291.3" text-anchor="end" font-size="10.5" stroke="#000" stroke-width="0.35" font-family='"Liberation Serif", serif'>0.95</text>
<line x1="569.3" y1="300.4" x2="769.3" y2="300.4" stroke="#000" stroke-width="1.2"/>
<line x1="569.3" y1="301.0" x2="569.3" y2="297.4" stroke="#000" stroke-width="1.1"/>
<text x="569.3" y="316.7" text-anchor="middle" font-size="10.5" stroke="#000" stroke-width="0.35" font-family='"Liberation Serif", serif'>0</text>
<line x1="609.3" y1="301.0" x2="609.3" y2="297.4" stroke="#000" stroke-width="1.1"/>
<text x="609.3" y="316.7" text-anchor="middle" font-size="10.5" stroke="#000" stroke-width="0.35" font-family='"Liberation Serif", serif'>20</text>
<line x1="649.3" y1="301.0" x2="649.3" y2="297.4" stroke="#000" stroke-width="1.1"/>
<text x="649.3" y="316.7" text-anchor="middle" font-size="10.5" stroke="#000" stroke-width="0.35" font-family='"Liberation Serif", serif'>40</text>
<line x1="689.3" y1="301.0" x2="689.3" y2="297.4" stroke="#000" stroke-width="1.1"/>
<text x="689.3" y="316.7" text-anchor="middle" font-size="10.5" stroke="#000" stroke-width="0.35" font-family='"Liberation Serif", serif'>60</text>
<line x1="729.3" y1="301.0" x2="729.3" y2="297.4" stroke="#000" stroke-width="1.1"/>
<text x="729.3" y="316.7" text-anchor="middle" font-size="10.5" stroke="#000" stroke-width="0.35" font-family='"Liberation Serif", serif'>80</text>
<line x1="769.3" y1="301.0" x2="769.3" y2="297.4" stroke="#000" stroke-width="1.1"/>
<text x="769.3" y="316.7" text-anchor="middle" font-size="10.5" stroke="#000" stroke-width="0.35" font-family='"Liberation Serif", serif'>100</text>
<text x="177.1" y="24.8" text-anchor="middle" font-size="9.3" font-weight="bold" font-family='"Liberation Serif", serif' stroke="#000" stroke-width="0.25" >y = -0.0006x² + 0.0273x + 6.1447</text>
<text x="177.1" y="35.3" text-anchor="middle" font-size="9.3" font-weight="bold" font-family='"Liberation Serif", serif' stroke="#000" stroke-width="0.25" >R² = 0.62</text>
<text x="438.3" y="24.8" text-anchor="middle" font-size="9.3" font-weight="bold" font-family='"Liberation Serif", serif' stroke="#000" stroke-width="0.25" >y = 0.00002x² - 0.0012x + 0.7889</text>
<text x="438.3" y="35.3" text-anchor="middle" font-size="9.3" font-weight="bold" font-family='"Liberation Serif", serif' stroke="#000" stroke-width="0.25" >R² = 0.61</text>
<text x="705.2" y="24.8" text-anchor="middle" font-size="9.3" font-weight="bold" font-family='"Liberation Serif", serif' stroke="#000" stroke-width="0.25" >y = 0.00002x² - 0.0012x + 0.7865</text>
<text x="705.2" y="35.3" text-anchor="middle" font-size="9.3" font-weight="bold" font-family='"Liberation Serif", serif' stroke="#000" stroke-width="0.25" >R² = 0.61</text>
<text x="177.2" y="175" text-anchor="middle" font-size="9.3" font-weight="bold" font-family='"Liberation Serif", serif' stroke="#000" stroke-width="0.25" >y = -0.0004x² + 0.0184x + 5.1352</text>
<text x="177.2" y="185.5" text-anchor="middle" font-size="9.3" font-weight="bold" font-family='"Liberation Serif", serif' stroke="#000" stroke-width="0.25" >R² = 0.37</text>
<text x="444.3" y="175" text-anchor="middle" font-size="9.3" font-weight="bold" font-family='"Liberation Serif", serif' stroke="#000" stroke-width="0.25" >y = 0.00001x² - 0.0007x + 0.821</text>
<text x="444.5" y="185.5" text-anchor="middle" font-size="9.3" font-weight="bold" font-family='"Liberation Serif", serif' stroke="#000" stroke-width="0.25" >R² = 0.36</text>
<text x="704.6" y="175" text-anchor="middle" font-size="9.3" font-weight="bold" font-family='"Liberation Serif", serif' stroke="#000" stroke-width="0.25" >y = 0.00001x² - 0.0007x + 0.8192</text>
<text x="704.6" y="185.5" text-anchor="middle" font-size="9.3" font-weight="bold" font-family='"Liberation Serif", serif' stroke="#000" stroke-width="0.25" >R² = 0.35</text>
<text x="46.6" y="12.8" text-anchor="start" font-size="12" font-weight="bold" font-family='"Liberation Serif", serif' stroke="#000" stroke-width="0.25" >Male</text>
<text x="47.1" y="178.6" text-anchor="start" font-size="11.8" font-weight="bold" font-family='"Liberation Serif", serif' stroke="#000" stroke-width="0.25" >Female</text>
<text transform="rotate(-90)" x="-178.8" y="10.3" font-size="10.8" font-weight="bold" stroke="#000" stroke-width="0.25" font-family='"Liberation Serif", serif'>Phase Angle</text>
<text transform="rotate(-90)" x="-121.8" y="10.3" font-size="10.8" font-family='"Liberation Serif", serif' textLength="19.6" lengthAdjust="spacing">( ° )</text>
<text x="270.3" y="141.5" text-anchor="middle" font-size="11.25" font-weight="bold" font-family='"Liberation Serif", serif' stroke="#000" stroke-width="0.25" transform="rotate(-90 270.3 141.5)">Impedance Ratio (Ω/ Ω)</text>
<text x="534.0" y="142.7" text-anchor="middle" font-size="11.25" font-weight="bold" font-family='"Liberation Serif", serif' stroke="#000" stroke-width="0.25" transform="rotate(-90 534.0 142.7)">Resistance Ratio (Ω/ Ω)</text>
<text x="406.4" y="330" text-anchor="middle" font-size="11" font-weight="bold" font-family='"Liberation Serif", serif' stroke="#000" stroke-width="0.25" >Age (years)</text>
</svg>
</body></html>
